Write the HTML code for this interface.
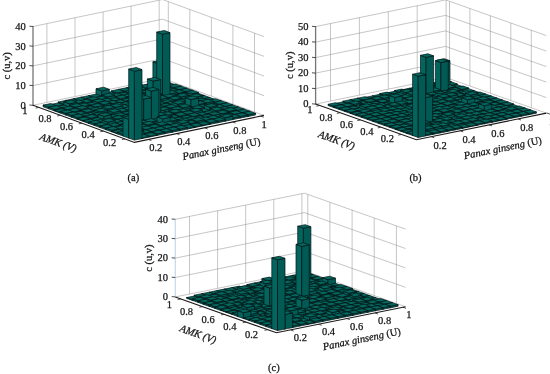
<!DOCTYPE html>
<html><head><meta charset="utf-8"><title>Figure</title>
<style>
html,body{margin:0;padding:0;background:#fff;}
svg{display:block;}
text{font-family:"Liberation Serif","DejaVu Serif",serif;font-size:10.5px;fill:#151515;stroke:#151515;stroke-width:0.25px;}
</style></head><body>
<svg width="550" height="374" viewBox="0 0 550 374">
<rect width="550" height="374" fill="#fff"/>
<path d="M33 105.3L162.5 78.3L264 115.4M33 85.6L162.5 58.6L264 95.7M33 65.9L162.5 38.9L264 76M33 46.2L162.5 19.2L264 56.3M33 26.5L162.5 -0.5L264 36.6M46.9 102.4L46.9 23.6M75 96.5L75 17.7M103.1 90.7L103.1 11.9M131.1 84.8L131.1 6M159.2 79L159.2 0.2M254.5 111.9L254.5 33.1M232.9 104.1L232.9 25.3M211.4 96.2L211.4 17.4M189.8 88.3L189.8 9.5M168.3 80.4L168.3 1.6" fill="none" stroke="#8c8c8c" stroke-width="0.5"/>
<path d="M33 105.8L33 26" stroke="#757575" stroke-width="1.3" fill="none"/>
<text x="25.8" y="108.6" text-anchor="end">0</text>
<text x="25.8" y="88.9" text-anchor="end">10</text>
<text x="25.8" y="69.2" text-anchor="end">20</text>
<text x="25.8" y="49.5" text-anchor="end">30</text>
<text x="25.8" y="29.8" text-anchor="end">40</text>
<path d="M33 105.3L134.5 142.4L264 115.4" stroke="#1a1a1a" stroke-width="1.1" fill="none"/>
<text x="27.5" y="113.7" text-anchor="end">1</text>
<text x="51.5" y="122.3" text-anchor="end">0.8</text>
<text x="73.1" y="130.2" text-anchor="end">0.6</text>
<text x="94.7" y="138.1" text-anchor="end">0.4</text>
<text x="116.2" y="145.9" text-anchor="end">0.2</text>
<text x="149.2" y="151.1" text-anchor="start">0.2</text>
<text x="177.2" y="145.2" text-anchor="start">0.4</text>
<text x="205.3" y="139.4" text-anchor="start">0.6</text>
<text x="233.3" y="133.5" text-anchor="start">0.8</text>
<text x="261.4" y="127.7" text-anchor="start">1</text>
<path d="M29.4 105L33 105.3M29.4 85.3L33 85.6M29.4 65.6L33 65.9M29.4 45.9L33 46.2M29.4 26.2L33 26.5M38.8 107.4L35.7 108.1M60.3 115.3L57.2 116M81.9 123.2L78.8 123.8M103.5 131.1L100.3 131.7M125 138.9L121.9 139.6M148.4 139.5L151.4 140.6M176.5 133.6L179.5 134.7M204.6 127.8L207.6 128.9M232.6 121.9L235.6 123M260.7 116.1L263.7 117.2" stroke="#222" stroke-width="0.8" fill="none"/>
<g stroke="#001414" stroke-width="0.7" stroke-linejoin="round"><polygon points="162.3,85.1 156.6,83 156.6,81.4 162.3,83.5" fill="#04655e"/><polygon points="162.3,85.1 169.9,83.5 169.9,82 162.3,83.5" fill="#025a55"/><polygon points="162.3,83.5 169.9,82 164.2,79.9 156.6,81.4" fill="#056860"/><polygon points="154.8,86.7 149,84.6 149,83 154.8,85.1" fill="#04655e"/><polygon points="154.8,86.7 162.3,85.1 162.3,83.5 154.8,85.1" fill="#025a55"/><polygon points="154.8,85.1 162.3,83.5 156.6,81.4 149,83" fill="#056860"/><polygon points="147.2,88.3 141.5,86.2 141.5,85.5 147.2,87.6" fill="#04655e"/><polygon points="147.2,88.3 154.8,86.7 154.8,86 147.2,87.6" fill="#025a55"/><polygon points="147.2,87.6 154.8,86 149,83.9 141.5,85.5" fill="#056860"/><polygon points="139.6,89.9 133.9,87.8 133.9,86.2 139.6,88.3" fill="#04655e"/><polygon points="139.6,89.9 147.2,88.3 147.2,86.7 139.6,88.3" fill="#025a55"/><polygon points="139.6,88.3 147.2,86.7 141.5,84.6 133.9,86.2" fill="#056860"/><polygon points="132,91.4 126.3,89.3 126.3,87.8 132,89.9" fill="#04655e"/><polygon points="132,91.4 139.6,89.9 139.6,88.3 132,89.9" fill="#025a55"/><polygon points="132,89.9 139.6,88.3 133.9,86.2 126.3,87.8" fill="#056860"/><polygon points="124.4,93 118.7,90.9 118.7,89.3 124.4,91.4" fill="#04655e"/><polygon points="124.4,93 132,91.4 132,89.9 124.4,91.4" fill="#025a55"/><polygon points="124.4,91.4 132,89.9 126.3,87.8 118.7,89.3" fill="#056860"/><polygon points="116.9,94.6 111.2,92.5 111.2,90.9 116.9,93" fill="#04655e"/><polygon points="116.9,94.6 124.4,93 124.4,91.4 116.9,93" fill="#025a55"/><polygon points="116.9,93 124.4,91.4 118.7,89.3 111.2,90.9" fill="#056860"/><polygon points="109.3,96.2 103.6,94.1 103.6,93.4 109.3,95.5" fill="#04655e"/><polygon points="109.3,96.2 116.9,94.6 116.9,93.9 109.3,95.5" fill="#025a55"/><polygon points="109.3,95.5 116.9,93.9 111.2,91.8 103.6,93.4" fill="#056860"/><polygon points="101.7,97.7 96,95.7 96,88.8 101.7,90.9" fill="#04655e"/><polygon points="101.7,97.7 109.3,96.2 109.3,89.3 101.7,90.9" fill="#025a55"/><polygon points="101.7,90.9 109.3,89.3 103.6,87.2 96,88.8" fill="#056860"/><polygon points="94.1,99.3 88.4,97.2 88.4,95.7 94.1,97.8" fill="#04655e"/><polygon points="94.1,99.3 101.7,97.7 101.7,96.2 94.1,97.8" fill="#025a55"/><polygon points="94.1,97.8 101.7,96.2 96,94.1 88.4,95.7" fill="#056860"/><polygon points="86.6,100.9 80.9,98.8 80.9,97.2 86.6,99.3" fill="#04655e"/><polygon points="86.6,100.9 94.1,99.3 94.1,97.8 86.6,99.3" fill="#025a55"/><polygon points="86.6,99.3 94.1,97.8 88.4,95.7 80.9,97.2" fill="#056860"/><polygon points="79,102.5 73.3,100.4 73.3,98.8 79,100.9" fill="#04655e"/><polygon points="79,102.5 86.6,100.9 86.6,99.3 79,100.9" fill="#025a55"/><polygon points="79,100.9 86.6,99.3 80.9,97.2 73.3,98.8" fill="#056860"/><polygon points="71.4,104.1 65.7,102 65.7,100.4 71.4,102.5" fill="#04655e"/><polygon points="71.4,104.1 79,102.5 79,100.9 71.4,102.5" fill="#025a55"/><polygon points="71.4,102.5 79,100.9 73.3,98.8 65.7,100.4" fill="#056860"/><polygon points="63.8,105.6 58.1,103.6 58.1,102 63.8,104.1" fill="#04655e"/><polygon points="63.8,105.6 71.4,104.1 71.4,102.5 63.8,104.1" fill="#025a55"/><polygon points="63.8,104.1 71.4,102.5 65.7,100.4 58.1,102" fill="#056860"/><polygon points="56.3,107.2 50.6,105.1 50.6,104.4 56.3,106.5" fill="#04655e"/><polygon points="56.3,107.2 63.8,105.6 63.8,105 56.3,106.5" fill="#025a55"/><polygon points="56.3,106.5 63.8,105 58.1,102.9 50.6,104.4" fill="#056860"/><polygon points="48.7,108.8 43,106.7 43,105.1 48.7,107.2" fill="#04655e"/><polygon points="48.7,108.8 56.3,107.2 56.3,105.6 48.7,107.2" fill="#025a55"/><polygon points="48.7,107.2 56.3,105.6 50.6,103.6 43,105.1" fill="#056860"/><polygon points="168,87.2 162.3,85.1 162.3,84.4 168,86.5" fill="#04655e"/><polygon points="168,87.2 175.6,85.6 175.6,84.9 168,86.5" fill="#025a55"/><polygon points="168,86.5 175.6,84.9 169.9,82.8 162.3,84.4" fill="#056860"/><polygon points="160.5,88.8 154.8,86.7 154.8,86 160.5,88.1" fill="#04655e"/><polygon points="160.5,88.8 168,87.2 168,86.5 160.5,88.1" fill="#025a55"/><polygon points="160.5,88.1 168,86.5 162.3,84.4 154.8,86" fill="#056860"/><polygon points="152.9,90.4 147.2,88.3 147.2,85.7 152.9,87.8" fill="#04655e"/><polygon points="152.9,90.4 160.5,88.8 160.5,86.2 152.9,87.8" fill="#025a55"/><polygon points="152.9,87.8 160.5,86.2 154.8,84.1 147.2,85.7" fill="#056860"/><polygon points="145.3,91.9 139.6,89.9 139.6,85.9 145.3,88" fill="#04655e"/><polygon points="145.3,91.9 152.9,90.4 152.9,86.4 145.3,88" fill="#025a55"/><polygon points="145.3,88 152.9,86.4 147.2,84.3 139.6,85.9" fill="#056860"/><polygon points="137.7,93.5 132,91.4 132,89.9 137.7,91.9" fill="#04655e"/><polygon points="137.7,93.5 145.3,91.9 145.3,90.4 137.7,91.9" fill="#025a55"/><polygon points="137.7,91.9 145.3,90.4 139.6,88.3 132,89.9" fill="#056860"/><polygon points="130.2,95.1 124.4,93 124.4,91.4 130.2,93.5" fill="#04655e"/><polygon points="130.2,95.1 137.7,93.5 137.7,91.9 130.2,93.5" fill="#025a55"/><polygon points="130.2,93.5 137.7,91.9 132,89.9 124.4,91.4" fill="#056860"/><polygon points="122.6,96.7 116.9,94.6 116.9,93.9 122.6,96" fill="#04655e"/><polygon points="122.6,96.7 130.2,95.1 130.2,94.4 122.6,96" fill="#025a55"/><polygon points="122.6,96 130.2,94.4 124.4,92.3 116.9,93.9" fill="#056860"/><polygon points="115,98.3 109.3,96.2 109.3,94.6 115,96.7" fill="#04655e"/><polygon points="115,98.3 122.6,96.7 122.6,95.1 115,96.7" fill="#025a55"/><polygon points="115,96.7 122.6,95.1 116.9,93 109.3,94.6" fill="#056860"/><polygon points="107.4,99.8 101.7,97.7 101.7,94.8 107.4,96.9" fill="#04655e"/><polygon points="107.4,99.8 115,98.3 115,95.3 107.4,96.9" fill="#025a55"/><polygon points="107.4,96.9 115,95.3 109.3,93.2 101.7,94.8" fill="#056860"/><polygon points="99.9,101.4 94.1,99.3 94.1,97.8 99.9,99.8" fill="#04655e"/><polygon points="99.9,101.4 107.4,99.8 107.4,98.3 99.9,99.8" fill="#025a55"/><polygon points="99.9,99.8 107.4,98.3 101.7,96.2 94.1,97.8" fill="#056860"/><polygon points="92.3,103 86.6,100.9 86.6,98.3 92.3,100.4" fill="#04655e"/><polygon points="92.3,103 99.9,101.4 99.9,98.9 92.3,100.4" fill="#025a55"/><polygon points="92.3,100.4 99.9,98.9 94.1,96.8 86.6,98.3" fill="#056860"/><polygon points="84.7,104.6 79,102.5 79,100.9 84.7,103" fill="#04655e"/><polygon points="84.7,104.6 92.3,103 92.3,101.4 84.7,103" fill="#025a55"/><polygon points="84.7,103 92.3,101.4 86.6,99.3 79,100.9" fill="#056860"/><polygon points="77.1,106.2 71.4,104.1 71.4,101.5 77.1,103.6" fill="#04655e"/><polygon points="77.1,106.2 84.7,104.6 84.7,102 77.1,103.6" fill="#025a55"/><polygon points="77.1,103.6 84.7,102 79,99.9 71.4,101.5" fill="#056860"/><polygon points="69.6,107.7 63.8,105.6 63.8,101.7 69.6,103.8" fill="#04655e"/><polygon points="69.6,107.7 77.1,106.2 77.1,102.2 69.6,103.8" fill="#025a55"/><polygon points="69.6,103.8 77.1,102.2 71.4,100.1 63.8,101.7" fill="#056860"/><polygon points="62,109.3 56.3,107.2 56.3,106.5 62,108.6" fill="#04655e"/><polygon points="62,109.3 69.6,107.7 69.6,107 62,108.6" fill="#025a55"/><polygon points="62,108.6 69.6,107 63.8,105 56.3,106.5" fill="#056860"/><polygon points="54.4,110.9 48.7,108.8 48.7,107.2 54.4,109.3" fill="#04655e"/><polygon points="54.4,110.9 62,109.3 62,107.7 54.4,109.3" fill="#025a55"/><polygon points="54.4,109.3 62,107.7 56.3,105.6 48.7,107.2" fill="#056860"/><polygon points="173.8,89.3 168,87.2 168,85.6 173.8,87.7" fill="#04655e"/><polygon points="173.8,89.3 181.3,87.7 181.3,86.1 173.8,87.7" fill="#025a55"/><polygon points="173.8,87.7 181.3,86.1 175.6,84 168,85.6" fill="#056860"/><polygon points="166.2,90.9 160.5,88.8 160.5,88.1 166.2,90.2" fill="#04655e"/><polygon points="166.2,90.9 173.8,89.3 173.8,88.6 166.2,90.2" fill="#025a55"/><polygon points="166.2,90.2 173.8,88.6 168,86.5 160.5,88.1" fill="#056860"/><polygon points="158.6,92.5 152.9,90.4 152.9,61.8 158.6,63.9" fill="#04655e"/><polygon points="158.6,92.5 166.2,90.9 166.2,62.3 158.6,63.9" fill="#025a55"/><polygon points="158.6,63.9 166.2,62.3 160.5,60.2 152.9,61.8" fill="#056860"/><polygon points="151,94 145.3,91.9 145.3,90.4 151,92.5" fill="#04655e"/><polygon points="151,94 158.6,92.5 158.6,90.9 151,92.5" fill="#025a55"/><polygon points="151,92.5 158.6,90.9 152.9,88.8 145.3,90.4" fill="#056860"/><polygon points="143.5,95.6 137.7,93.5 137.7,91.9 143.5,94" fill="#04655e"/><polygon points="143.5,95.6 151,94 151,92.5 143.5,94" fill="#025a55"/><polygon points="143.5,94 151,92.5 145.3,90.4 137.7,91.9" fill="#056860"/><polygon points="135.9,97.2 130.2,95.1 130.2,92.5 135.9,94.6" fill="#04655e"/><polygon points="135.9,97.2 143.5,95.6 143.5,93 135.9,94.6" fill="#025a55"/><polygon points="135.9,94.6 143.5,93 137.7,91 130.2,92.5" fill="#056860"/><polygon points="128.3,98.8 122.6,96.7 122.6,95.1 128.3,97.2" fill="#04655e"/><polygon points="128.3,98.8 135.9,97.2 135.9,95.6 128.3,97.2" fill="#025a55"/><polygon points="128.3,97.2 135.9,95.6 130.2,93.5 122.6,95.1" fill="#056860"/><polygon points="120.7,100.3 115,98.3 115,96.7 120.7,98.8" fill="#04655e"/><polygon points="120.7,100.3 128.3,98.8 128.3,97.2 120.7,98.8" fill="#025a55"/><polygon points="120.7,98.8 128.3,97.2 122.6,95.1 115,96.7" fill="#056860"/><polygon points="113.2,101.9 107.4,99.8 107.4,99.1 113.2,101.2" fill="#04655e"/><polygon points="113.2,101.9 120.7,100.3 120.7,99.7 113.2,101.2" fill="#025a55"/><polygon points="113.2,101.2 120.7,99.7 115,97.6 107.4,99.1" fill="#056860"/><polygon points="105.6,103.5 99.9,101.4 99.9,99.8 105.6,101.9" fill="#04655e"/><polygon points="105.6,103.5 113.2,101.9 113.2,100.4 105.6,101.9" fill="#025a55"/><polygon points="105.6,101.9 113.2,100.4 107.4,98.3 99.9,99.8" fill="#056860"/><polygon points="98,105.1 92.3,103 92.3,100.4 98,102.5" fill="#04655e"/><polygon points="98,105.1 105.6,103.5 105.6,100.9 98,102.5" fill="#025a55"/><polygon points="98,102.5 105.6,100.9 99.9,98.9 92.3,100.4" fill="#056860"/><polygon points="90.4,106.7 84.7,104.6 84.7,103.9 90.4,106" fill="#04655e"/><polygon points="90.4,106.7 98,105.1 98,104.4 90.4,106" fill="#025a55"/><polygon points="90.4,106 98,104.4 92.3,102.3 84.7,103.9" fill="#056860"/><polygon points="82.8,108.2 77.1,106.2 77.1,104.6 82.8,106.7" fill="#04655e"/><polygon points="82.8,108.2 90.4,106.7 90.4,105.1 82.8,106.7" fill="#025a55"/><polygon points="82.8,106.7 90.4,105.1 84.7,103 77.1,104.6" fill="#056860"/><polygon points="75.3,109.8 69.6,107.7 69.6,105.2 75.3,107.3" fill="#04655e"/><polygon points="75.3,109.8 82.8,108.2 82.8,105.7 75.3,107.3" fill="#025a55"/><polygon points="75.3,107.3 82.8,105.7 77.1,103.6 69.6,105.2" fill="#056860"/><polygon points="67.7,111.4 62,109.3 62,107.7 67.7,109.8" fill="#04655e"/><polygon points="67.7,111.4 75.3,109.8 75.3,108.2 67.7,109.8" fill="#025a55"/><polygon points="67.7,109.8 75.3,108.2 69.6,106.2 62,107.7" fill="#056860"/><polygon points="60.1,113 54.4,110.9 54.4,110.2 60.1,112.3" fill="#04655e"/><polygon points="60.1,113 67.7,111.4 67.7,110.7 60.1,112.3" fill="#025a55"/><polygon points="60.1,112.3 67.7,110.7 62,108.6 54.4,110.2" fill="#056860"/><polygon points="179.5,91.4 173.8,89.3 173.8,87.7 179.5,89.8" fill="#04655e"/><polygon points="179.5,91.4 187,89.8 187,88.2 179.5,89.8" fill="#025a55"/><polygon points="179.5,89.8 187,88.2 181.3,86.1 173.8,87.7" fill="#056860"/><polygon points="171.9,93 166.2,90.9 166.2,90.2 171.9,92.3" fill="#04655e"/><polygon points="171.9,93 179.5,91.4 179.5,90.7 171.9,92.3" fill="#025a55"/><polygon points="171.9,92.3 179.5,90.7 173.8,88.6 166.2,90.2" fill="#056860"/><polygon points="164.3,94.5 158.6,92.5 158.6,91.8 164.3,93.8" fill="#04655e"/><polygon points="164.3,94.5 171.9,93 171.9,92.3 164.3,93.8" fill="#025a55"/><polygon points="164.3,93.8 171.9,92.3 166.2,90.2 158.6,91.8" fill="#056860"/><polygon points="156.7,96.1 151,94 151,93.3 156.7,95.4" fill="#04655e"/><polygon points="156.7,96.1 164.3,94.5 164.3,93.8 156.7,95.4" fill="#025a55"/><polygon points="156.7,95.4 164.3,93.8 158.6,91.8 151,93.3" fill="#056860"/><polygon points="149.2,97.7 143.5,95.6 143.5,93 149.2,95.1" fill="#04655e"/><polygon points="149.2,97.7 156.7,96.1 156.7,93.6 149.2,95.1" fill="#025a55"/><polygon points="149.2,95.1 156.7,93.6 151,91.5 143.5,93" fill="#056860"/><polygon points="141.6,99.3 135.9,97.2 135.9,95.6 141.6,97.7" fill="#04655e"/><polygon points="141.6,99.3 149.2,97.7 149.2,96.1 141.6,97.7" fill="#025a55"/><polygon points="141.6,97.7 149.2,96.1 143.5,94 135.9,95.6" fill="#056860"/><polygon points="134,100.9 128.3,98.8 128.3,97.2 134,99.3" fill="#04655e"/><polygon points="134,100.9 141.6,99.3 141.6,97.7 134,99.3" fill="#025a55"/><polygon points="134,99.3 141.6,97.7 135.9,95.6 128.3,97.2" fill="#056860"/><polygon points="126.4,102.4 120.7,100.3 120.7,99.7 126.4,101.7" fill="#04655e"/><polygon points="126.4,102.4 134,100.9 134,100.2 126.4,101.7" fill="#025a55"/><polygon points="126.4,101.7 134,100.2 128.3,98.1 120.7,99.7" fill="#056860"/><polygon points="118.9,104 113.2,101.9 113.2,101.2 118.9,103.3" fill="#04655e"/><polygon points="118.9,104 126.4,102.4 126.4,101.7 118.9,103.3" fill="#025a55"/><polygon points="118.9,103.3 126.4,101.7 120.7,99.7 113.2,101.2" fill="#056860"/><polygon points="111.3,105.6 105.6,103.5 105.6,101.9 111.3,104" fill="#04655e"/><polygon points="111.3,105.6 118.9,104 118.9,102.4 111.3,104" fill="#025a55"/><polygon points="111.3,104 118.9,102.4 113.2,100.4 105.6,101.9" fill="#056860"/><polygon points="103.7,107.2 98,105.1 98,102.5 103.7,104.6" fill="#04655e"/><polygon points="103.7,107.2 111.3,105.6 111.3,103 103.7,104.6" fill="#025a55"/><polygon points="103.7,104.6 111.3,103 105.6,100.9 98,102.5" fill="#056860"/><polygon points="96.1,108.8 90.4,106.7 90.4,105.1 96.1,107.2" fill="#04655e"/><polygon points="96.1,108.8 103.7,107.2 103.7,105.6 96.1,107.2" fill="#025a55"/><polygon points="96.1,107.2 103.7,105.6 98,103.5 90.4,105.1" fill="#056860"/><polygon points="88.6,110.3 82.8,108.2 82.8,107.6 88.6,109.6" fill="#04655e"/><polygon points="88.6,110.3 96.1,108.8 96.1,108.1 88.6,109.6" fill="#025a55"/><polygon points="88.6,109.6 96.1,108.1 90.4,106 82.8,107.6" fill="#056860"/><polygon points="81,111.9 75.3,109.8 75.3,107.3 81,109.4" fill="#04655e"/><polygon points="81,111.9 88.6,110.3 88.6,107.8 81,109.4" fill="#025a55"/><polygon points="81,109.4 88.6,107.8 82.8,105.7 75.3,107.3" fill="#056860"/><polygon points="73.4,113.5 67.7,111.4 67.7,109.8 73.4,111.9" fill="#04655e"/><polygon points="73.4,113.5 81,111.9 81,110.3 73.4,111.9" fill="#025a55"/><polygon points="73.4,111.9 81,110.3 75.3,108.2 67.7,109.8" fill="#056860"/><polygon points="65.8,115.1 60.1,113 60.1,111.4 65.8,113.5" fill="#04655e"/><polygon points="65.8,115.1 73.4,113.5 73.4,111.9 65.8,113.5" fill="#025a55"/><polygon points="65.8,113.5 73.4,111.9 67.7,109.8 60.1,111.4" fill="#056860"/><polygon points="185.2,93.5 179.5,91.4 179.5,89.8 185.2,91.9" fill="#04655e"/><polygon points="185.2,93.5 192.8,91.9 192.8,90.3 185.2,91.9" fill="#025a55"/><polygon points="185.2,91.9 192.8,90.3 187,88.2 179.5,89.8" fill="#056860"/><polygon points="177.6,95 171.9,93 171.9,91.4 177.6,93.5" fill="#04655e"/><polygon points="177.6,95 185.2,93.5 185.2,91.9 177.6,93.5" fill="#025a55"/><polygon points="177.6,93.5 185.2,91.9 179.5,89.8 171.9,91.4" fill="#056860"/><polygon points="170,96.6 164.3,94.5 164.3,92 170,94.1" fill="#04655e"/><polygon points="170,96.6 177.6,95 177.6,92.5 170,94.1" fill="#025a55"/><polygon points="170,94.1 177.6,92.5 171.9,90.4 164.3,92" fill="#056860"/><polygon points="162.5,98.2 156.7,96.1 156.7,32.1 162.5,34.2" fill="#04655e"/><polygon points="162.5,98.2 170,96.6 170,32.6 162.5,34.2" fill="#025a55"/><polygon points="162.5,34.2 170,32.6 164.3,30.5 156.7,32.1" fill="#056860"/><polygon points="154.9,99.8 149.2,97.7 149.2,93.8 154.9,95.8" fill="#04655e"/><polygon points="154.9,99.8 162.5,98.2 162.5,94.3 154.9,95.8" fill="#025a55"/><polygon points="154.9,95.8 162.5,94.3 156.7,92.2 149.2,93.8" fill="#056860"/><polygon points="147.3,101.4 141.6,99.3 141.6,96.7 147.3,98.8" fill="#04655e"/><polygon points="147.3,101.4 154.9,99.8 154.9,97.2 147.3,98.8" fill="#025a55"/><polygon points="147.3,98.8 154.9,97.2 149.2,95.1 141.6,96.7" fill="#056860"/><polygon points="139.7,102.9 134,100.9 134,98.3 139.7,100.4" fill="#04655e"/><polygon points="139.7,102.9 147.3,101.4 147.3,98.8 139.7,100.4" fill="#025a55"/><polygon points="139.7,100.4 147.3,98.8 141.6,96.7 134,98.3" fill="#056860"/><polygon points="132.2,104.5 126.4,102.4 126.4,100.9 132.2,102.9" fill="#04655e"/><polygon points="132.2,104.5 139.7,102.9 139.7,101.4 132.2,102.9" fill="#025a55"/><polygon points="132.2,102.9 139.7,101.4 134,99.3 126.4,100.9" fill="#056860"/><polygon points="124.6,106.1 118.9,104 118.9,103.3 124.6,105.4" fill="#04655e"/><polygon points="124.6,106.1 132.2,104.5 132.2,103.8 124.6,105.4" fill="#025a55"/><polygon points="124.6,105.4 132.2,103.8 126.4,101.7 118.9,103.3" fill="#056860"/><polygon points="117,107.7 111.3,105.6 111.3,104 117,106.1" fill="#04655e"/><polygon points="117,107.7 124.6,106.1 124.6,104.5 117,106.1" fill="#025a55"/><polygon points="117,106.1 124.6,104.5 118.9,102.4 111.3,104" fill="#056860"/><polygon points="109.4,109.3 103.7,107.2 103.7,106.5 109.4,108.6" fill="#04655e"/><polygon points="109.4,109.3 117,107.7 117,107 109.4,108.6" fill="#025a55"/><polygon points="109.4,108.6 117,107 111.3,104.9 103.7,106.5" fill="#056860"/><polygon points="101.9,110.8 96.1,108.8 96.1,107.2 101.9,109.3" fill="#04655e"/><polygon points="101.9,110.8 109.4,109.3 109.4,107.7 101.9,109.3" fill="#025a55"/><polygon points="101.9,109.3 109.4,107.7 103.7,105.6 96.1,107.2" fill="#056860"/><polygon points="94.3,112.4 88.6,110.3 88.6,108.8 94.3,110.8" fill="#04655e"/><polygon points="94.3,112.4 101.9,110.8 101.9,109.3 94.3,110.8" fill="#025a55"/><polygon points="94.3,110.8 101.9,109.3 96.1,107.2 88.6,108.8" fill="#056860"/><polygon points="86.7,114 81,111.9 81,110.3 86.7,112.4" fill="#04655e"/><polygon points="86.7,114 94.3,112.4 94.3,110.8 86.7,112.4" fill="#025a55"/><polygon points="86.7,112.4 94.3,110.8 88.6,108.8 81,110.3" fill="#056860"/><polygon points="79.1,115.6 73.4,113.5 73.4,112.8 79.1,114.9" fill="#04655e"/><polygon points="79.1,115.6 86.7,114 86.7,113.3 79.1,114.9" fill="#025a55"/><polygon points="79.1,114.9 86.7,113.3 81,111.2 73.4,112.8" fill="#056860"/><polygon points="71.6,117.2 65.8,115.1 65.8,113.5 71.6,115.6" fill="#04655e"/><polygon points="71.6,117.2 79.1,115.6 79.1,114 71.6,115.6" fill="#025a55"/><polygon points="71.6,115.6 79.1,114 73.4,111.9 65.8,113.5" fill="#056860"/><polygon points="190.9,95.6 185.2,93.5 185.2,91.9 190.9,94" fill="#04655e"/><polygon points="190.9,95.6 198.5,94 198.5,92.4 190.9,94" fill="#025a55"/><polygon points="190.9,94 198.5,92.4 192.8,90.3 185.2,91.9" fill="#056860"/><polygon points="183.3,97.1 177.6,95 177.6,94.4 183.3,96.4" fill="#04655e"/><polygon points="183.3,97.1 190.9,95.6 190.9,94.9 183.3,96.4" fill="#025a55"/><polygon points="183.3,96.4 190.9,94.9 185.2,92.8 177.6,94.4" fill="#056860"/><polygon points="175.8,98.7 170,96.6 170,95.9 175.8,98" fill="#04655e"/><polygon points="175.8,98.7 183.3,97.1 183.3,96.4 175.8,98" fill="#025a55"/><polygon points="175.8,98 183.3,96.4 177.6,94.4 170,95.9" fill="#056860"/><polygon points="168.2,100.3 162.5,98.2 162.5,95.6 168.2,97.7" fill="#04655e"/><polygon points="168.2,100.3 175.8,98.7 175.8,96.2 168.2,97.7" fill="#025a55"/><polygon points="168.2,97.7 175.8,96.2 170,94.1 162.5,95.6" fill="#056860"/><polygon points="160.6,101.9 154.9,99.8 154.9,97.2 160.6,99.3" fill="#04655e"/><polygon points="160.6,101.9 168.2,100.3 168.2,97.7 160.6,99.3" fill="#025a55"/><polygon points="160.6,99.3 168.2,97.7 162.5,95.6 154.9,97.2" fill="#056860"/><polygon points="153,103.5 147.3,101.4 147.3,97.4 153,99.5" fill="#04655e"/><polygon points="153,103.5 160.6,101.9 160.6,97.9 153,99.5" fill="#025a55"/><polygon points="153,99.5 160.6,97.9 154.9,95.8 147.3,97.4" fill="#056860"/><polygon points="145.5,105 139.7,102.9 139.7,102.3 145.5,104.3" fill="#04655e"/><polygon points="145.5,105 153,103.5 153,102.8 145.5,104.3" fill="#025a55"/><polygon points="145.5,104.3 153,102.8 147.3,100.7 139.7,102.3" fill="#056860"/><polygon points="137.9,106.6 132.2,104.5 132.2,102.9 137.9,105" fill="#04655e"/><polygon points="137.9,106.6 145.5,105 145.5,103.5 137.9,105" fill="#025a55"/><polygon points="137.9,105 145.5,103.5 139.7,101.4 132.2,102.9" fill="#056860"/><polygon points="130.3,108.2 124.6,106.1 124.6,104.5 130.3,106.6" fill="#04655e"/><polygon points="130.3,108.2 137.9,106.6 137.9,105 130.3,106.6" fill="#025a55"/><polygon points="130.3,106.6 137.9,105 132.2,102.9 124.6,104.5" fill="#056860"/><polygon points="122.7,109.8 117,107.7 117,106.1 122.7,108.2" fill="#04655e"/><polygon points="122.7,109.8 130.3,108.2 130.3,106.6 122.7,108.2" fill="#025a55"/><polygon points="122.7,108.2 130.3,106.6 124.6,104.5 117,106.1" fill="#056860"/><polygon points="115.1,111.4 109.4,109.3 109.4,105.3 115.1,107.4" fill="#04655e"/><polygon points="115.1,111.4 122.7,109.8 122.7,105.8 115.1,107.4" fill="#025a55"/><polygon points="115.1,107.4 122.7,105.8 117,103.7 109.4,105.3" fill="#056860"/><polygon points="107.6,112.9 101.9,110.8 101.9,106.9 107.6,109" fill="#04655e"/><polygon points="107.6,112.9 115.1,111.4 115.1,107.4 107.6,109" fill="#025a55"/><polygon points="107.6,109 115.1,107.4 109.4,105.3 101.9,106.9" fill="#056860"/><polygon points="100,114.5 94.3,112.4 94.3,109.9 100,112" fill="#04655e"/><polygon points="100,114.5 107.6,112.9 107.6,110.4 100,112" fill="#025a55"/><polygon points="100,112 107.6,110.4 101.9,108.3 94.3,109.9" fill="#056860"/><polygon points="92.4,116.1 86.7,114 86.7,113.3 92.4,115.4" fill="#04655e"/><polygon points="92.4,116.1 100,114.5 100,113.8 92.4,115.4" fill="#025a55"/><polygon points="92.4,115.4 100,113.8 94.3,111.7 86.7,113.3" fill="#056860"/><polygon points="84.8,117.7 79.1,115.6 79.1,114.9 84.8,117" fill="#04655e"/><polygon points="84.8,117.7 92.4,116.1 92.4,115.4 84.8,117" fill="#025a55"/><polygon points="84.8,117 92.4,115.4 86.7,113.3 79.1,114.9" fill="#056860"/><polygon points="77.3,119.3 71.6,117.2 71.6,115.6 77.3,117.7" fill="#04655e"/><polygon points="77.3,119.3 84.8,117.7 84.8,116.1 77.3,117.7" fill="#025a55"/><polygon points="77.3,117.7 84.8,116.1 79.1,114 71.6,115.6" fill="#056860"/><polygon points="196.6,97.6 190.9,95.6 190.9,94.9 196.6,97" fill="#04655e"/><polygon points="196.6,97.6 204.2,96.1 204.2,95.4 196.6,97" fill="#025a55"/><polygon points="196.6,97 204.2,95.4 198.5,93.3 190.9,94.9" fill="#056860"/><polygon points="189,99.2 183.3,97.1 183.3,94.6 189,96.7" fill="#04655e"/><polygon points="189,99.2 196.6,97.6 196.6,95.1 189,96.7" fill="#025a55"/><polygon points="189,96.7 196.6,95.1 190.9,93 183.3,94.6" fill="#056860"/><polygon points="181.5,100.8 175.8,98.7 175.8,94.8 181.5,96.9" fill="#04655e"/><polygon points="181.5,100.8 189,99.2 189,95.3 181.5,96.9" fill="#025a55"/><polygon points="181.5,96.9 189,95.3 183.3,93.2 175.8,94.8" fill="#056860"/><polygon points="173.9,102.4 168.2,100.3 168.2,97.7 173.9,99.8" fill="#04655e"/><polygon points="173.9,102.4 181.5,100.8 181.5,98.2 173.9,99.8" fill="#025a55"/><polygon points="173.9,99.8 181.5,98.2 175.8,96.2 168.2,97.7" fill="#056860"/><polygon points="166.3,104 160.6,101.9 160.6,101.2 166.3,103.3" fill="#04655e"/><polygon points="166.3,104 173.9,102.4 173.9,101.7 166.3,103.3" fill="#025a55"/><polygon points="166.3,103.3 173.9,101.7 168.2,99.6 160.6,101.2" fill="#056860"/><polygon points="158.7,105.5 153,103.5 153,102.8 158.7,104.9" fill="#04655e"/><polygon points="158.7,105.5 166.3,104 166.3,103.3 158.7,104.9" fill="#025a55"/><polygon points="158.7,104.9 166.3,103.3 160.6,101.2 153,102.8" fill="#056860"/><polygon points="151.2,107.1 145.5,105 145.5,102.5 151.2,104.6" fill="#04655e"/><polygon points="151.2,107.1 158.7,105.5 158.7,103 151.2,104.6" fill="#025a55"/><polygon points="151.2,104.6 158.7,103 153,100.9 145.5,102.5" fill="#056860"/><polygon points="143.6,108.7 137.9,106.6 137.9,105 143.6,107.1" fill="#04655e"/><polygon points="143.6,108.7 151.2,107.1 151.2,105.5 143.6,107.1" fill="#025a55"/><polygon points="143.6,107.1 151.2,105.5 145.5,103.5 137.9,105" fill="#056860"/><polygon points="136,110.3 130.3,108.2 130.3,105.6 136,107.7" fill="#04655e"/><polygon points="136,110.3 143.6,108.7 143.6,106.1 136,107.7" fill="#025a55"/><polygon points="136,107.7 143.6,106.1 137.9,104.1 130.3,105.6" fill="#056860"/><polygon points="128.4,111.9 122.7,109.8 122.7,108.2 128.4,110.3" fill="#04655e"/><polygon points="128.4,111.9 136,110.3 136,108.7 128.4,110.3" fill="#025a55"/><polygon points="128.4,110.3 136,108.7 130.3,106.6 122.7,108.2" fill="#056860"/><polygon points="120.9,113.4 115.1,111.4 115.1,109.8 120.9,111.9" fill="#04655e"/><polygon points="120.9,113.4 128.4,111.9 128.4,110.3 120.9,111.9" fill="#025a55"/><polygon points="120.9,111.9 128.4,110.3 122.7,108.2 115.1,109.8" fill="#056860"/><polygon points="113.3,115 107.6,112.9 107.6,110.4 113.3,112.5" fill="#04655e"/><polygon points="113.3,115 120.9,113.4 120.9,110.9 113.3,112.5" fill="#025a55"/><polygon points="113.3,112.5 120.9,110.9 115.1,108.8 107.6,110.4" fill="#056860"/><polygon points="105.7,116.6 100,114.5 100,113.8 105.7,115.9" fill="#04655e"/><polygon points="105.7,116.6 113.3,115 113.3,114.3 105.7,115.9" fill="#025a55"/><polygon points="105.7,115.9 113.3,114.3 107.6,112.2 100,113.8" fill="#056860"/><polygon points="98.1,118.2 92.4,116.1 92.4,113.5 98.1,115.6" fill="#04655e"/><polygon points="98.1,118.2 105.7,116.6 105.7,114 98.1,115.6" fill="#025a55"/><polygon points="98.1,115.6 105.7,114 100,112 92.4,113.5" fill="#056860"/><polygon points="90.6,119.8 84.8,117.7 84.8,116.1 90.6,118.2" fill="#04655e"/><polygon points="90.6,119.8 98.1,118.2 98.1,116.6 90.6,118.2" fill="#025a55"/><polygon points="90.6,118.2 98.1,116.6 92.4,114.5 84.8,116.1" fill="#056860"/><polygon points="83,121.3 77.3,119.3 77.3,118.6 83,120.7" fill="#04655e"/><polygon points="83,121.3 90.6,119.8 90.6,119.1 83,120.7" fill="#025a55"/><polygon points="83,120.7 90.6,119.1 84.8,117 77.3,118.6" fill="#056860"/><polygon points="202.3,99.7 196.6,97.6 196.6,97 202.3,99" fill="#04655e"/><polygon points="202.3,99.7 209.9,98.2 209.9,97.5 202.3,99" fill="#025a55"/><polygon points="202.3,99 209.9,97.5 204.2,95.4 196.6,97" fill="#056860"/><polygon points="194.8,101.3 189,99.2 189,95.3 194.8,97.4" fill="#04655e"/><polygon points="194.8,101.3 202.3,99.7 202.3,95.8 194.8,97.4" fill="#025a55"/><polygon points="194.8,97.4 202.3,95.8 196.6,93.7 189,95.3" fill="#056860"/><polygon points="187.2,102.9 181.5,100.8 181.5,99.2 187.2,101.3" fill="#04655e"/><polygon points="187.2,102.9 194.8,101.3 194.8,99.7 187.2,101.3" fill="#025a55"/><polygon points="187.2,101.3 194.8,99.7 189,97.7 181.5,99.2" fill="#056860"/><polygon points="179.6,104.5 173.9,102.4 173.9,100.8 179.6,102.9" fill="#04655e"/><polygon points="179.6,104.5 187.2,102.9 187.2,101.3 179.6,102.9" fill="#025a55"/><polygon points="179.6,102.9 187.2,101.3 181.5,99.2 173.9,100.8" fill="#056860"/><polygon points="172,106.1 166.3,104 166.3,102.4 172,104.5" fill="#04655e"/><polygon points="172,106.1 179.6,104.5 179.6,102.9 172,104.5" fill="#025a55"/><polygon points="172,104.5 179.6,102.9 173.9,100.8 166.3,102.4" fill="#056860"/><polygon points="164.5,107.6 158.7,105.5 158.7,104.9 164.5,106.9" fill="#04655e"/><polygon points="164.5,107.6 172,106.1 172,105.4 164.5,106.9" fill="#025a55"/><polygon points="164.5,106.9 172,105.4 166.3,103.3 158.7,104.9" fill="#056860"/><polygon points="156.9,109.2 151.2,107.1 151.2,106.4 156.9,108.5" fill="#04655e"/><polygon points="156.9,109.2 164.5,107.6 164.5,106.9 156.9,108.5" fill="#025a55"/><polygon points="156.9,108.5 164.5,106.9 158.7,104.9 151.2,106.4" fill="#056860"/><polygon points="149.3,110.8 143.6,108.7 143.6,106.1 149.3,108.2" fill="#04655e"/><polygon points="149.3,110.8 156.9,109.2 156.9,106.7 149.3,108.2" fill="#025a55"/><polygon points="149.3,108.2 156.9,106.7 151.2,104.6 143.6,106.1" fill="#056860"/><polygon points="141.7,112.4 136,110.3 136,109.6 141.7,111.7" fill="#04655e"/><polygon points="141.7,112.4 149.3,110.8 149.3,110.1 141.7,111.7" fill="#025a55"/><polygon points="141.7,111.7 149.3,110.1 143.6,108 136,109.6" fill="#056860"/><polygon points="134.2,114 128.4,111.9 128.4,110.3 134.2,112.4" fill="#04655e"/><polygon points="134.2,114 141.7,112.4 141.7,110.8 134.2,112.4" fill="#025a55"/><polygon points="134.2,112.4 141.7,110.8 136,108.7 128.4,110.3" fill="#056860"/><polygon points="126.6,115.5 120.9,113.4 120.9,112.8 126.6,114.8" fill="#04655e"/><polygon points="126.6,115.5 134.2,114 134.2,113.3 126.6,114.8" fill="#025a55"/><polygon points="126.6,114.8 134.2,113.3 128.4,111.2 120.9,112.8" fill="#056860"/><polygon points="119,117.1 113.3,115 113.3,114.3 119,116.4" fill="#04655e"/><polygon points="119,117.1 126.6,115.5 126.6,114.8 119,116.4" fill="#025a55"/><polygon points="119,116.4 126.6,114.8 120.9,112.8 113.3,114.3" fill="#056860"/><polygon points="111.4,118.7 105.7,116.6 105.7,115.9 111.4,118" fill="#04655e"/><polygon points="111.4,118.7 119,117.1 119,116.4 111.4,118" fill="#025a55"/><polygon points="111.4,118 119,116.4 113.3,114.3 105.7,115.9" fill="#056860"/><polygon points="103.9,120.3 98.1,118.2 98.1,114.2 103.9,116.3" fill="#04655e"/><polygon points="103.9,120.3 111.4,118.7 111.4,114.8 103.9,116.3" fill="#025a55"/><polygon points="103.9,116.3 111.4,114.8 105.7,112.7 98.1,114.2" fill="#056860"/><polygon points="96.3,121.9 90.6,119.8 90.6,119.1 96.3,121.2" fill="#04655e"/><polygon points="96.3,121.9 103.9,120.3 103.9,119.6 96.3,121.2" fill="#025a55"/><polygon points="96.3,121.2 103.9,119.6 98.1,117.5 90.6,119.1" fill="#056860"/><polygon points="88.7,123.4 83,121.3 83,120.7 88.7,122.7" fill="#04655e"/><polygon points="88.7,123.4 96.3,121.9 96.3,121.2 88.7,122.7" fill="#025a55"/><polygon points="88.7,122.7 96.3,121.2 90.6,119.1 83,120.7" fill="#056860"/><polygon points="208.1,101.8 202.3,99.7 202.3,99 208.1,101.1" fill="#04655e"/><polygon points="208.1,101.8 215.6,100.2 215.6,99.6 208.1,101.1" fill="#025a55"/><polygon points="208.1,101.1 215.6,99.6 209.9,97.5 202.3,99" fill="#056860"/><polygon points="200.5,103.4 194.8,101.3 194.8,99.7 200.5,101.8" fill="#04655e"/><polygon points="200.5,103.4 208.1,101.8 208.1,100.3 200.5,101.8" fill="#025a55"/><polygon points="200.5,101.8 208.1,100.3 202.3,98.2 194.8,99.7" fill="#056860"/><polygon points="192.9,105 187.2,102.9 187.2,100.3 192.9,102.4" fill="#04655e"/><polygon points="192.9,105 200.5,103.4 200.5,100.8 192.9,102.4" fill="#025a55"/><polygon points="192.9,102.4 200.5,100.8 194.8,98.8 187.2,100.3" fill="#056860"/><polygon points="185.3,106.6 179.6,104.5 179.6,102.9 185.3,105" fill="#04655e"/><polygon points="185.3,106.6 192.9,105 192.9,103.4 185.3,105" fill="#025a55"/><polygon points="185.3,105 192.9,103.4 187.2,101.3 179.6,102.9" fill="#056860"/><polygon points="177.7,108.1 172,106.1 172,102.1 177.7,104.2" fill="#04655e"/><polygon points="177.7,108.1 185.3,106.6 185.3,102.6 177.7,104.2" fill="#025a55"/><polygon points="177.7,104.2 185.3,102.6 179.6,100.5 172,102.1" fill="#056860"/><polygon points="170.2,109.7 164.5,107.6 164.5,106.1 170.2,108.1" fill="#04655e"/><polygon points="170.2,109.7 177.7,108.1 177.7,106.6 170.2,108.1" fill="#025a55"/><polygon points="170.2,108.1 177.7,106.6 172,104.5 164.5,106.1" fill="#056860"/><polygon points="162.6,111.3 156.9,109.2 156.9,108.5 162.6,110.6" fill="#04655e"/><polygon points="162.6,111.3 170.2,109.7 170.2,109 162.6,110.6" fill="#025a55"/><polygon points="162.6,110.6 170.2,109 164.5,106.9 156.9,108.5" fill="#056860"/><polygon points="155,112.9 149.3,110.8 149.3,110.1 155,112.2" fill="#04655e"/><polygon points="155,112.9 162.6,111.3 162.6,110.6 155,112.2" fill="#025a55"/><polygon points="155,112.2 162.6,110.6 156.9,108.5 149.3,110.1" fill="#056860"/><polygon points="147.4,114.5 141.7,112.4 141.7,109.8 147.4,111.9" fill="#04655e"/><polygon points="147.4,114.5 155,112.9 155,110.3 147.4,111.9" fill="#025a55"/><polygon points="147.4,111.9 155,110.3 149.3,108.2 141.7,109.8" fill="#056860"/><polygon points="139.9,116 134.2,114 134.2,113.3 139.9,115.4" fill="#04655e"/><polygon points="139.9,116 147.4,114.5 147.4,113.8 139.9,115.4" fill="#025a55"/><polygon points="139.9,115.4 147.4,113.8 141.7,111.7 134.2,113.3" fill="#056860"/><polygon points="132.3,117.6 126.6,115.5 126.6,114 132.3,116" fill="#04655e"/><polygon points="132.3,117.6 139.9,116 139.9,114.5 132.3,116" fill="#025a55"/><polygon points="132.3,116 139.9,114.5 134.2,112.4 126.6,114" fill="#056860"/><polygon points="124.7,119.2 119,117.1 119,116.4 124.7,118.5" fill="#04655e"/><polygon points="124.7,119.2 132.3,117.6 132.3,116.9 124.7,118.5" fill="#025a55"/><polygon points="124.7,118.5 132.3,116.9 126.6,114.8 119,116.4" fill="#056860"/><polygon points="117.1,120.8 111.4,118.7 111.4,117.1 117.1,119.2" fill="#04655e"/><polygon points="117.1,120.8 124.7,119.2 124.7,117.6 117.1,119.2" fill="#025a55"/><polygon points="117.1,119.2 124.7,117.6 119,115.5 111.4,117.1" fill="#056860"/><polygon points="109.6,122.4 103.9,120.3 103.9,119.6 109.6,121.7" fill="#04655e"/><polygon points="109.6,122.4 117.1,120.8 117.1,120.1 109.6,121.7" fill="#025a55"/><polygon points="109.6,121.7 117.1,120.1 111.4,118 103.9,119.6" fill="#056860"/><polygon points="102,123.9 96.3,121.9 96.3,120.3 102,122.4" fill="#04655e"/><polygon points="102,123.9 109.6,122.4 109.6,120.8 102,122.4" fill="#025a55"/><polygon points="102,122.4 109.6,120.8 103.9,118.7 96.3,120.3" fill="#056860"/><polygon points="94.4,125.5 88.7,123.4 88.7,121.9 94.4,123.9" fill="#04655e"/><polygon points="94.4,125.5 102,123.9 102,122.4 94.4,123.9" fill="#025a55"/><polygon points="94.4,123.9 102,122.4 96.3,120.3 88.7,121.9" fill="#056860"/><polygon points="213.8,103.9 208.1,101.8 208.1,100.3 213.8,102.3" fill="#04655e"/><polygon points="213.8,103.9 221.3,102.3 221.3,100.8 213.8,102.3" fill="#025a55"/><polygon points="213.8,102.3 221.3,100.8 215.6,98.7 208.1,100.3" fill="#056860"/><polygon points="206.2,105.5 200.5,103.4 200.5,100.8 206.2,102.9" fill="#04655e"/><polygon points="206.2,105.5 213.8,103.9 213.8,101.4 206.2,102.9" fill="#025a55"/><polygon points="206.2,102.9 213.8,101.4 208.1,99.3 200.5,100.8" fill="#056860"/><polygon points="198.6,107.1 192.9,105 192.9,102.4 198.6,104.5" fill="#04655e"/><polygon points="198.6,107.1 206.2,105.5 206.2,102.9 198.6,104.5" fill="#025a55"/><polygon points="198.6,104.5 206.2,102.9 200.5,100.8 192.9,102.4" fill="#056860"/><polygon points="191,108.7 185.3,106.6 185.3,97.5 191,99.6" fill="#04655e"/><polygon points="191,108.7 198.6,107.1 198.6,98 191,99.6" fill="#025a55"/><polygon points="191,99.6 198.6,98 192.9,95.9 185.3,97.5" fill="#056860"/><polygon points="183.5,110.2 177.7,108.1 177.7,105.6 183.5,107.7" fill="#04655e"/><polygon points="183.5,110.2 191,108.7 191,106.1 183.5,107.7" fill="#025a55"/><polygon points="183.5,107.7 191,106.1 185.3,104 177.7,105.6" fill="#056860"/><polygon points="175.9,111.8 170.2,109.7 170.2,108.1 175.9,110.2" fill="#04655e"/><polygon points="175.9,111.8 183.5,110.2 183.5,108.7 175.9,110.2" fill="#025a55"/><polygon points="175.9,110.2 183.5,108.7 177.7,106.6 170.2,108.1" fill="#056860"/><polygon points="168.3,113.4 162.6,111.3 162.6,110.6 168.3,112.7" fill="#04655e"/><polygon points="168.3,113.4 175.9,111.8 175.9,111.1 168.3,112.7" fill="#025a55"/><polygon points="168.3,112.7 175.9,111.1 170.2,109 162.6,110.6" fill="#056860"/><polygon points="160.7,115 155,112.9 155,112.2 160.7,114.3" fill="#04655e"/><polygon points="160.7,115 168.3,113.4 168.3,112.7 160.7,114.3" fill="#025a55"/><polygon points="160.7,114.3 168.3,112.7 162.6,110.6 155,112.2" fill="#056860"/><polygon points="153.2,116.6 147.4,114.5 147.4,79 153.2,81.1" fill="#04655e"/><polygon points="153.2,116.6 160.7,115 160.7,79.5 153.2,81.1" fill="#025a55"/><polygon points="153.2,81.1 160.7,79.5 155,77.4 147.4,79" fill="#056860"/><polygon points="145.6,118.1 139.9,116 139.9,114.5 145.6,116.6" fill="#04655e"/><polygon points="145.6,118.1 153.2,116.6 153.2,115 145.6,116.6" fill="#025a55"/><polygon points="145.6,116.6 153.2,115 147.4,112.9 139.9,114.5" fill="#056860"/><polygon points="138,119.7 132.3,117.6 132.3,116 138,118.1" fill="#04655e"/><polygon points="138,119.7 145.6,118.1 145.6,116.6 138,118.1" fill="#025a55"/><polygon points="138,118.1 145.6,116.6 139.9,114.5 132.3,116" fill="#056860"/><polygon points="130.4,121.3 124.7,119.2 124.7,117.6 130.4,119.7" fill="#04655e"/><polygon points="130.4,121.3 138,119.7 138,118.1 130.4,119.7" fill="#025a55"/><polygon points="130.4,119.7 138,118.1 132.3,116 124.7,117.6" fill="#056860"/><polygon points="122.9,122.9 117.1,120.8 117.1,119.2 122.9,121.3" fill="#04655e"/><polygon points="122.9,122.9 130.4,121.3 130.4,119.7 122.9,121.3" fill="#025a55"/><polygon points="122.9,121.3 130.4,119.7 124.7,117.6 117.1,119.2" fill="#056860"/><polygon points="115.3,124.4 109.6,122.4 109.6,120.8 115.3,122.9" fill="#04655e"/><polygon points="115.3,124.4 122.9,122.9 122.9,121.3 115.3,122.9" fill="#025a55"/><polygon points="115.3,122.9 122.9,121.3 117.1,119.2 109.6,120.8" fill="#056860"/><polygon points="107.7,126 102,123.9 102,120 107.7,122.1" fill="#04655e"/><polygon points="107.7,126 115.3,124.4 115.3,120.5 107.7,122.1" fill="#025a55"/><polygon points="107.7,122.1 115.3,120.5 109.6,118.4 102,120" fill="#056860"/><polygon points="100.1,127.6 94.4,125.5 94.4,123.9 100.1,126" fill="#04655e"/><polygon points="100.1,127.6 107.7,126 107.7,124.5 100.1,126" fill="#025a55"/><polygon points="100.1,126 107.7,124.5 102,122.4 94.4,123.9" fill="#056860"/><polygon points="219.5,106 213.8,103.9 213.8,102.3 219.5,104.4" fill="#04655e"/><polygon points="219.5,106 227.1,104.4 227.1,102.8 219.5,104.4" fill="#025a55"/><polygon points="219.5,104.4 227.1,102.8 221.3,100.8 213.8,102.3" fill="#056860"/><polygon points="211.9,107.6 206.2,105.5 206.2,104.8 211.9,106.9" fill="#04655e"/><polygon points="211.9,107.6 219.5,106 219.5,105.3 211.9,106.9" fill="#025a55"/><polygon points="211.9,106.9 219.5,105.3 213.8,103.2 206.2,104.8" fill="#056860"/><polygon points="204.3,109.2 198.6,107.1 198.6,105.5 204.3,107.6" fill="#04655e"/><polygon points="204.3,109.2 211.9,107.6 211.9,106 204.3,107.6" fill="#025a55"/><polygon points="204.3,107.6 211.9,106 206.2,103.9 198.6,105.5" fill="#056860"/><polygon points="196.8,110.7 191,108.7 191,107.1 196.8,109.2" fill="#04655e"/><polygon points="196.8,110.7 204.3,109.2 204.3,107.6 196.8,109.2" fill="#025a55"/><polygon points="196.8,109.2 204.3,107.6 198.6,105.5 191,107.1" fill="#056860"/><polygon points="189.2,112.3 183.5,110.2 183.5,109.5 189.2,111.6" fill="#04655e"/><polygon points="189.2,112.3 196.8,110.7 196.8,110.1 189.2,111.6" fill="#025a55"/><polygon points="189.2,111.6 196.8,110.1 191,108 183.5,109.5" fill="#056860"/><polygon points="181.6,113.9 175.9,111.8 175.9,110.2 181.6,112.3" fill="#04655e"/><polygon points="181.6,113.9 189.2,112.3 189.2,110.7 181.6,112.3" fill="#025a55"/><polygon points="181.6,112.3 189.2,110.7 183.5,108.7 175.9,110.2" fill="#056860"/><polygon points="174,115.5 168.3,113.4 168.3,110.8 174,112.9" fill="#04655e"/><polygon points="174,115.5 181.6,113.9 181.6,111.3 174,112.9" fill="#025a55"/><polygon points="174,112.9 181.6,111.3 175.9,109.3 168.3,110.8" fill="#056860"/><polygon points="166.5,117.1 160.7,115 160.7,113.4 166.5,115.5" fill="#04655e"/><polygon points="166.5,117.1 174,115.5 174,113.9 166.5,115.5" fill="#025a55"/><polygon points="166.5,115.5 174,113.9 168.3,111.8 160.7,113.4" fill="#056860"/><polygon points="158.9,118.6 153.2,116.6 153.2,114 158.9,116.1" fill="#04655e"/><polygon points="158.9,118.6 166.5,117.1 166.5,114.5 158.9,116.1" fill="#025a55"/><polygon points="158.9,116.1 166.5,114.5 160.7,112.4 153.2,114" fill="#056860"/><polygon points="151.3,120.2 145.6,118.1 145.6,89 151.3,91.1" fill="#04655e"/><polygon points="151.3,120.2 158.9,118.6 158.9,89.5 151.3,91.1" fill="#025a55"/><polygon points="151.3,91.1 158.9,89.5 153.2,87.4 145.6,89" fill="#056860"/><polygon points="143.7,121.8 138,119.7 138,97.1 143.7,99.1" fill="#04655e"/><polygon points="143.7,121.8 151.3,120.2 151.3,97.6 143.7,99.1" fill="#025a55"/><polygon points="143.7,99.1 151.3,97.6 145.6,95.5 138,97.1" fill="#056860"/><polygon points="136.2,123.4 130.4,121.3 130.4,119.7 136.2,121.8" fill="#04655e"/><polygon points="136.2,123.4 143.7,121.8 143.7,120.2 136.2,121.8" fill="#025a55"/><polygon points="136.2,121.8 143.7,120.2 138,118.1 130.4,119.7" fill="#056860"/><polygon points="128.6,125 122.9,122.9 122.9,120.3 128.6,122.4" fill="#04655e"/><polygon points="128.6,125 136.2,123.4 136.2,120.8 128.6,122.4" fill="#025a55"/><polygon points="128.6,122.4 136.2,120.8 130.4,118.7 122.9,120.3" fill="#056860"/><polygon points="121,126.5 115.3,124.4 115.3,122.9 121,125" fill="#04655e"/><polygon points="121,126.5 128.6,125 128.6,123.4 121,125" fill="#025a55"/><polygon points="121,125 128.6,123.4 122.9,121.3 115.3,122.9" fill="#056860"/><polygon points="113.4,128.1 107.7,126 107.7,124.5 113.4,126.5" fill="#04655e"/><polygon points="113.4,128.1 121,126.5 121,125 113.4,126.5" fill="#025a55"/><polygon points="113.4,126.5 121,125 115.3,122.9 107.7,124.5" fill="#056860"/><polygon points="105.8,129.7 100.1,127.6 100.1,126 105.8,128.1" fill="#04655e"/><polygon points="105.8,129.7 113.4,128.1 113.4,126.5 105.8,128.1" fill="#025a55"/><polygon points="105.8,128.1 113.4,126.5 107.7,124.5 100.1,126" fill="#056860"/><polygon points="225.2,108.1 219.5,106 219.5,104.4 225.2,106.5" fill="#04655e"/><polygon points="225.2,108.1 232.8,106.5 232.8,104.9 225.2,106.5" fill="#025a55"/><polygon points="225.2,106.5 232.8,104.9 227.1,102.8 219.5,104.4" fill="#056860"/><polygon points="217.6,109.7 211.9,107.6 211.9,106 217.6,108.1" fill="#04655e"/><polygon points="217.6,109.7 225.2,108.1 225.2,106.5 217.6,108.1" fill="#025a55"/><polygon points="217.6,108.1 225.2,106.5 219.5,104.4 211.9,106" fill="#056860"/><polygon points="210,111.3 204.3,109.2 204.3,105.2 210,107.3" fill="#04655e"/><polygon points="210,111.3 217.6,109.7 217.6,105.7 210,107.3" fill="#025a55"/><polygon points="210,107.3 217.6,105.7 211.9,103.6 204.3,105.2" fill="#056860"/><polygon points="202.5,112.8 196.8,110.7 196.8,110.1 202.5,112.1" fill="#04655e"/><polygon points="202.5,112.8 210,111.3 210,110.6 202.5,112.1" fill="#025a55"/><polygon points="202.5,112.1 210,110.6 204.3,108.5 196.8,110.1" fill="#056860"/><polygon points="194.9,114.4 189.2,112.3 189.2,109.8 194.9,111.9" fill="#04655e"/><polygon points="194.9,114.4 202.5,112.8 202.5,110.3 194.9,111.9" fill="#025a55"/><polygon points="194.9,111.9 202.5,110.3 196.8,108.2 189.2,109.8" fill="#056860"/><polygon points="187.3,116 181.6,113.9 181.6,112.3 187.3,114.4" fill="#04655e"/><polygon points="187.3,116 194.9,114.4 194.9,112.8 187.3,114.4" fill="#025a55"/><polygon points="187.3,114.4 194.9,112.8 189.2,110.7 181.6,112.3" fill="#056860"/><polygon points="179.7,117.6 174,115.5 174,113.9 179.7,116" fill="#04655e"/><polygon points="179.7,117.6 187.3,116 187.3,114.4 179.7,116" fill="#025a55"/><polygon points="179.7,116 187.3,114.4 181.6,112.3 174,113.9" fill="#056860"/><polygon points="172.2,119.2 166.5,117.1 166.5,116.4 172.2,118.5" fill="#04655e"/><polygon points="172.2,119.2 179.7,117.6 179.7,116.9 172.2,118.5" fill="#025a55"/><polygon points="172.2,118.5 179.7,116.9 174,114.8 166.5,116.4" fill="#056860"/><polygon points="164.6,120.7 158.9,118.6 158.9,116.1 164.6,118.2" fill="#04655e"/><polygon points="164.6,120.7 172.2,119.2 172.2,116.6 164.6,118.2" fill="#025a55"/><polygon points="164.6,118.2 172.2,116.6 166.5,114.5 158.9,116.1" fill="#056860"/><polygon points="157,122.3 151.3,120.2 151.3,119.5 157,121.6" fill="#04655e"/><polygon points="157,122.3 164.6,120.7 164.6,120 157,121.6" fill="#025a55"/><polygon points="157,121.6 164.6,120 158.9,118 151.3,119.5" fill="#056860"/><polygon points="149.4,123.9 143.7,121.8 143.7,120.2 149.4,122.3" fill="#04655e"/><polygon points="149.4,123.9 157,122.3 157,120.7 149.4,122.3" fill="#025a55"/><polygon points="149.4,122.3 157,120.7 151.3,118.6 143.7,120.2" fill="#056860"/><polygon points="141.9,125.5 136.2,123.4 136.2,121.8 141.9,123.9" fill="#04655e"/><polygon points="141.9,125.5 149.4,123.9 149.4,122.3 141.9,123.9" fill="#025a55"/><polygon points="141.9,123.9 149.4,122.3 143.7,120.2 136.2,121.8" fill="#056860"/><polygon points="134.3,127 128.6,125 128.6,122.4 134.3,124.5" fill="#04655e"/><polygon points="134.3,127 141.9,125.5 141.9,122.9 134.3,124.5" fill="#025a55"/><polygon points="134.3,124.5 141.9,122.9 136.2,120.8 128.6,122.4" fill="#056860"/><polygon points="126.7,128.6 121,126.5 121,124 126.7,126.1" fill="#04655e"/><polygon points="126.7,128.6 134.3,127 134.3,124.5 126.7,126.1" fill="#025a55"/><polygon points="126.7,126.1 134.3,124.5 128.6,122.4 121,124" fill="#056860"/><polygon points="119.1,130.2 113.4,128.1 113.4,127.4 119.1,129.5" fill="#04655e"/><polygon points="119.1,130.2 126.7,128.6 126.7,127.9 119.1,129.5" fill="#025a55"/><polygon points="119.1,129.5 126.7,127.9 121,125.8 113.4,127.4" fill="#056860"/><polygon points="111.6,131.8 105.8,129.7 105.8,128.1 111.6,130.2" fill="#04655e"/><polygon points="111.6,131.8 119.1,130.2 119.1,128.6 111.6,130.2" fill="#025a55"/><polygon points="111.6,130.2 119.1,128.6 113.4,126.5 105.8,128.1" fill="#056860"/><polygon points="230.9,110.2 225.2,108.1 225.2,106.5 230.9,108.6" fill="#04655e"/><polygon points="230.9,110.2 238.5,108.6 238.5,107 230.9,108.6" fill="#025a55"/><polygon points="230.9,108.6 238.5,107 232.8,104.9 225.2,106.5" fill="#056860"/><polygon points="223.3,111.8 217.6,109.7 217.6,108.1 223.3,110.2" fill="#04655e"/><polygon points="223.3,111.8 230.9,110.2 230.9,108.6 223.3,110.2" fill="#025a55"/><polygon points="223.3,110.2 230.9,108.6 225.2,106.5 217.6,108.1" fill="#056860"/><polygon points="215.8,113.3 210,111.3 210,108.7 215.8,110.8" fill="#04655e"/><polygon points="215.8,113.3 223.3,111.8 223.3,109.2 215.8,110.8" fill="#025a55"/><polygon points="215.8,110.8 223.3,109.2 217.6,107.1 210,108.7" fill="#056860"/><polygon points="208.2,114.9 202.5,112.8 202.5,112.1 208.2,114.2" fill="#04655e"/><polygon points="208.2,114.9 215.8,113.3 215.8,112.7 208.2,114.2" fill="#025a55"/><polygon points="208.2,114.2 215.8,112.7 210,110.6 202.5,112.1" fill="#056860"/><polygon points="200.6,116.5 194.9,114.4 194.9,113.7 200.6,115.8" fill="#04655e"/><polygon points="200.6,116.5 208.2,114.9 208.2,114.2 200.6,115.8" fill="#025a55"/><polygon points="200.6,115.8 208.2,114.2 202.5,112.1 194.9,113.7" fill="#056860"/><polygon points="193,118.1 187.3,116 187.3,114.4 193,116.5" fill="#04655e"/><polygon points="193,118.1 200.6,116.5 200.6,114.9 193,116.5" fill="#025a55"/><polygon points="193,116.5 200.6,114.9 194.9,112.8 187.3,114.4" fill="#056860"/><polygon points="185.5,119.7 179.7,117.6 179.7,116.9 185.5,119" fill="#04655e"/><polygon points="185.5,119.7 193,118.1 193,117.4 185.5,119" fill="#025a55"/><polygon points="185.5,119 193,117.4 187.3,115.3 179.7,116.9" fill="#056860"/><polygon points="177.9,121.2 172.2,119.2 172.2,118.5 177.9,120.6" fill="#04655e"/><polygon points="177.9,121.2 185.5,119.7 185.5,119 177.9,120.6" fill="#025a55"/><polygon points="177.9,120.6 185.5,119 179.7,116.9 172.2,118.5" fill="#056860"/><polygon points="170.3,122.8 164.6,120.7 164.6,119.2 170.3,121.2" fill="#04655e"/><polygon points="170.3,122.8 177.9,121.2 177.9,119.7 170.3,121.2" fill="#025a55"/><polygon points="170.3,121.2 177.9,119.7 172.2,117.6 164.6,119.2" fill="#056860"/><polygon points="162.7,124.4 157,122.3 157,116.8 162.7,118.9" fill="#04655e"/><polygon points="162.7,124.4 170.3,122.8 170.3,117.3 162.7,118.9" fill="#025a55"/><polygon points="162.7,118.9 170.3,117.3 164.6,115.2 157,116.8" fill="#056860"/><polygon points="155.2,126 149.4,123.9 149.4,123.2 155.2,125.3" fill="#04655e"/><polygon points="155.2,126 162.7,124.4 162.7,123.7 155.2,125.3" fill="#025a55"/><polygon points="155.2,125.3 162.7,123.7 157,121.6 149.4,123.2" fill="#056860"/><polygon points="147.6,127.6 141.9,125.5 141.9,122.9 147.6,125" fill="#04655e"/><polygon points="147.6,127.6 155.2,126 155.2,123.4 147.6,125" fill="#025a55"/><polygon points="147.6,125 155.2,123.4 149.4,121.3 141.9,122.9" fill="#056860"/><polygon points="140,129.1 134.3,127 134.3,125.5 140,127.6" fill="#04655e"/><polygon points="140,129.1 147.6,127.6 147.6,126 140,127.6" fill="#025a55"/><polygon points="140,127.6 147.6,126 141.9,123.9 134.3,125.5" fill="#056860"/><polygon points="132.4,130.7 126.7,128.6 126.7,127.9 132.4,130" fill="#04655e"/><polygon points="132.4,130.7 140,129.1 140,128.4 132.4,130" fill="#025a55"/><polygon points="132.4,130 140,128.4 134.3,126.4 126.7,127.9" fill="#056860"/><polygon points="124.9,132.3 119.1,130.2 119.1,129.5 124.9,131.6" fill="#04655e"/><polygon points="124.9,132.3 132.4,130.7 132.4,130 124.9,131.6" fill="#025a55"/><polygon points="124.9,131.6 132.4,130 126.7,127.9 119.1,129.5" fill="#056860"/><polygon points="117.3,133.9 111.6,131.8 111.6,131.1 117.3,133.2" fill="#04655e"/><polygon points="117.3,133.9 124.9,132.3 124.9,131.6 117.3,133.2" fill="#025a55"/><polygon points="117.3,133.2 124.9,131.6 119.1,129.5 111.6,131.1" fill="#056860"/><polygon points="236.6,112.3 230.9,110.2 230.9,108.6 236.6,110.7" fill="#04655e"/><polygon points="236.6,112.3 244.2,110.7 244.2,109.1 236.6,110.7" fill="#025a55"/><polygon points="236.6,110.7 244.2,109.1 238.5,107 230.9,108.6" fill="#056860"/><polygon points="229.1,113.9 223.3,111.8 223.3,109.2 229.1,111.3" fill="#04655e"/><polygon points="229.1,113.9 236.6,112.3 236.6,109.7 229.1,111.3" fill="#025a55"/><polygon points="229.1,111.3 236.6,109.7 230.9,107.6 223.3,109.2" fill="#056860"/><polygon points="221.5,115.4 215.8,113.3 215.8,111.8 221.5,113.9" fill="#04655e"/><polygon points="221.5,115.4 229.1,113.9 229.1,112.3 221.5,113.9" fill="#025a55"/><polygon points="221.5,113.9 229.1,112.3 223.3,110.2 215.8,111.8" fill="#056860"/><polygon points="213.9,117 208.2,114.9 208.2,113.3 213.9,115.4" fill="#04655e"/><polygon points="213.9,117 221.5,115.4 221.5,113.9 213.9,115.4" fill="#025a55"/><polygon points="213.9,115.4 221.5,113.9 215.8,111.8 208.2,113.3" fill="#056860"/><polygon points="206.3,118.6 200.6,116.5 200.6,115.8 206.3,117.9" fill="#04655e"/><polygon points="206.3,118.6 213.9,117 213.9,116.3 206.3,117.9" fill="#025a55"/><polygon points="206.3,117.9 213.9,116.3 208.2,114.2 200.6,115.8" fill="#056860"/><polygon points="198.8,120.2 193,118.1 193,117.4 198.8,119.5" fill="#04655e"/><polygon points="198.8,120.2 206.3,118.6 206.3,117.9 198.8,119.5" fill="#025a55"/><polygon points="198.8,119.5 206.3,117.9 200.6,115.8 193,117.4" fill="#056860"/><polygon points="191.2,121.7 185.5,119.7 185.5,118.1 191.2,120.2" fill="#04655e"/><polygon points="191.2,121.7 198.8,120.2 198.8,118.6 191.2,120.2" fill="#025a55"/><polygon points="191.2,120.2 198.8,118.6 193,116.5 185.5,118.1" fill="#056860"/><polygon points="183.6,123.3 177.9,121.2 177.9,119.7 183.6,121.8" fill="#04655e"/><polygon points="183.6,123.3 191.2,121.7 191.2,120.2 183.6,121.8" fill="#025a55"/><polygon points="183.6,121.8 191.2,120.2 185.5,118.1 177.9,119.7" fill="#056860"/><polygon points="176,124.9 170.3,122.8 170.3,122.1 176,124.2" fill="#04655e"/><polygon points="176,124.9 183.6,123.3 183.6,122.6 176,124.2" fill="#025a55"/><polygon points="176,124.2 183.6,122.6 177.9,120.6 170.3,122.1" fill="#056860"/><polygon points="168.4,126.5 162.7,124.4 162.7,122.8 168.4,124.9" fill="#04655e"/><polygon points="168.4,126.5 176,124.9 176,123.3 168.4,124.9" fill="#025a55"/><polygon points="168.4,124.9 176,123.3 170.3,121.2 162.7,122.8" fill="#056860"/><polygon points="160.9,128.1 155.2,126 155.2,123.4 160.9,125.5" fill="#04655e"/><polygon points="160.9,128.1 168.4,126.5 168.4,123.9 160.9,125.5" fill="#025a55"/><polygon points="160.9,125.5 168.4,123.9 162.7,121.8 155.2,123.4" fill="#056860"/><polygon points="153.3,129.6 147.6,127.6 147.6,126 153.3,128.1" fill="#04655e"/><polygon points="153.3,129.6 160.9,128.1 160.9,126.5 153.3,128.1" fill="#025a55"/><polygon points="153.3,128.1 160.9,126.5 155.2,124.4 147.6,126" fill="#056860"/><polygon points="145.7,131.2 140,129.1 140,127.6 145.7,129.7" fill="#04655e"/><polygon points="145.7,131.2 153.3,129.6 153.3,128.1 145.7,129.7" fill="#025a55"/><polygon points="145.7,129.7 153.3,128.1 147.6,126 140,127.6" fill="#056860"/><polygon points="138.1,132.8 132.4,130.7 132.4,130 138.1,132.1" fill="#04655e"/><polygon points="138.1,132.8 145.7,131.2 145.7,130.5 138.1,132.1" fill="#025a55"/><polygon points="138.1,132.1 145.7,130.5 140,128.4 132.4,130" fill="#056860"/><polygon points="130.6,134.4 124.9,132.3 124.9,129.7 130.6,131.8" fill="#04655e"/><polygon points="130.6,134.4 138.1,132.8 138.1,130.2 130.6,131.8" fill="#025a55"/><polygon points="130.6,131.8 138.1,130.2 132.4,128.2 124.9,129.7" fill="#056860"/><polygon points="123,136 117.3,133.9 117.3,132.3 123,134.4" fill="#04655e"/><polygon points="123,136 130.6,134.4 130.6,132.8 123,134.4" fill="#025a55"/><polygon points="123,134.4 130.6,132.8 124.9,130.7 117.3,132.3" fill="#056860"/><polygon points="242.3,114.4 236.6,112.3 236.6,110.7 242.3,112.8" fill="#04655e"/><polygon points="242.3,114.4 249.9,112.8 249.9,111.2 242.3,112.8" fill="#025a55"/><polygon points="242.3,112.8 249.9,111.2 244.2,109.1 236.6,110.7" fill="#056860"/><polygon points="234.8,115.9 229.1,113.9 229.1,112.3 234.8,114.4" fill="#04655e"/><polygon points="234.8,115.9 242.3,114.4 242.3,112.8 234.8,114.4" fill="#025a55"/><polygon points="234.8,114.4 242.3,112.8 236.6,110.7 229.1,112.3" fill="#056860"/><polygon points="227.2,117.5 221.5,115.4 221.5,114.7 227.2,116.8" fill="#04655e"/><polygon points="227.2,117.5 234.8,115.9 234.8,115.3 227.2,116.8" fill="#025a55"/><polygon points="227.2,116.8 234.8,115.3 229.1,113.2 221.5,114.7" fill="#056860"/><polygon points="219.6,119.1 213.9,117 213.9,115.4 219.6,117.5" fill="#04655e"/><polygon points="219.6,119.1 227.2,117.5 227.2,115.9 219.6,117.5" fill="#025a55"/><polygon points="219.6,117.5 227.2,115.9 221.5,113.9 213.9,115.4" fill="#056860"/><polygon points="212,120.7 206.3,118.6 206.3,117 212,119.1" fill="#04655e"/><polygon points="212,120.7 219.6,119.1 219.6,117.5 212,119.1" fill="#025a55"/><polygon points="212,119.1 219.6,117.5 213.9,115.4 206.3,117" fill="#056860"/><polygon points="204.5,122.3 198.8,120.2 198.8,118.6 204.5,120.7" fill="#04655e"/><polygon points="204.5,122.3 212,120.7 212,119.1 204.5,120.7" fill="#025a55"/><polygon points="204.5,120.7 212,119.1 206.3,117 198.8,118.6" fill="#056860"/><polygon points="196.9,123.8 191.2,121.7 191.2,119.2 196.9,121.3" fill="#04655e"/><polygon points="196.9,123.8 204.5,122.3 204.5,119.7 196.9,121.3" fill="#025a55"/><polygon points="196.9,121.3 204.5,119.7 198.8,117.6 191.2,119.2" fill="#056860"/><polygon points="189.3,125.4 183.6,123.3 183.6,121.8 189.3,123.8" fill="#04655e"/><polygon points="189.3,125.4 196.9,123.8 196.9,122.3 189.3,123.8" fill="#025a55"/><polygon points="189.3,123.8 196.9,122.3 191.2,120.2 183.6,121.8" fill="#056860"/><polygon points="181.7,127 176,124.9 176,121.4 181.7,123.5" fill="#04655e"/><polygon points="181.7,127 189.3,125.4 189.3,121.9 181.7,123.5" fill="#025a55"/><polygon points="181.7,123.5 189.3,121.9 183.6,119.8 176,121.4" fill="#056860"/><polygon points="174.2,128.6 168.4,126.5 168.4,124.9 174.2,127" fill="#04655e"/><polygon points="174.2,128.6 181.7,127 181.7,125.4 174.2,127" fill="#025a55"/><polygon points="174.2,127 181.7,125.4 176,123.3 168.4,124.9" fill="#056860"/><polygon points="166.6,130.2 160.9,128.1 160.9,126.5 166.6,128.6" fill="#04655e"/><polygon points="166.6,130.2 174.2,128.6 174.2,127 166.6,128.6" fill="#025a55"/><polygon points="166.6,128.6 174.2,127 168.4,124.9 160.9,126.5" fill="#056860"/><polygon points="159,131.7 153.3,129.6 153.3,128.1 159,130.2" fill="#04655e"/><polygon points="159,131.7 166.6,130.2 166.6,128.6 159,130.2" fill="#025a55"/><polygon points="159,130.2 166.6,128.6 160.9,126.5 153.3,128.1" fill="#056860"/><polygon points="151.4,133.3 145.7,131.2 145.7,129.7 151.4,131.7" fill="#04655e"/><polygon points="151.4,133.3 159,131.7 159,130.2 151.4,131.7" fill="#025a55"/><polygon points="151.4,131.7 159,130.2 153.3,128.1 145.7,129.7" fill="#056860"/><polygon points="143.9,134.9 138.1,132.8 138.1,131.2 143.9,133.3" fill="#04655e"/><polygon points="143.9,134.9 151.4,133.3 151.4,131.7 143.9,133.3" fill="#025a55"/><polygon points="143.9,133.3 151.4,131.7 145.7,129.7 138.1,131.2" fill="#056860"/><polygon points="136.3,136.5 130.6,134.4 130.6,130.4 136.3,132.5" fill="#04655e"/><polygon points="136.3,136.5 143.9,134.9 143.9,131 136.3,132.5" fill="#025a55"/><polygon points="136.3,132.5 143.9,131 138.1,128.9 130.6,130.4" fill="#056860"/><polygon points="128.7,138.1 123,136 123,117.2 128.7,119.3" fill="#04655e"/><polygon points="128.7,138.1 136.3,136.5 136.3,117.8 128.7,119.3" fill="#025a55"/><polygon points="128.7,119.3 136.3,117.8 130.6,115.7 123,117.2" fill="#056860"/><polygon points="248.1,116.5 242.3,114.4 242.3,112.8 248.1,114.9" fill="#04655e"/><polygon points="248.1,116.5 255.6,114.9 255.6,113.3 248.1,114.9" fill="#025a55"/><polygon points="248.1,114.9 255.6,113.3 249.9,111.2 242.3,112.8" fill="#056860"/><polygon points="240.5,118 234.8,115.9 234.8,114.4 240.5,116.5" fill="#04655e"/><polygon points="240.5,118 248.1,116.5 248.1,114.9 240.5,116.5" fill="#025a55"/><polygon points="240.5,116.5 248.1,114.9 242.3,112.8 234.8,114.4" fill="#056860"/><polygon points="232.9,119.6 227.2,117.5 227.2,115.9 232.9,118" fill="#04655e"/><polygon points="232.9,119.6 240.5,118 240.5,116.5 232.9,118" fill="#025a55"/><polygon points="232.9,118 240.5,116.5 234.8,114.4 227.2,115.9" fill="#056860"/><polygon points="225.3,121.2 219.6,119.1 219.6,115.6 225.3,117.6" fill="#04655e"/><polygon points="225.3,121.2 232.9,119.6 232.9,116.1 225.3,117.6" fill="#025a55"/><polygon points="225.3,117.6 232.9,116.1 227.2,114 219.6,115.6" fill="#056860"/><polygon points="217.8,122.8 212,120.7 212,119.1 217.8,121.2" fill="#04655e"/><polygon points="217.8,122.8 225.3,121.2 225.3,119.6 217.8,121.2" fill="#025a55"/><polygon points="217.8,121.2 225.3,119.6 219.6,117.5 212,119.1" fill="#056860"/><polygon points="210.2,124.3 204.5,122.3 204.5,120.7 210.2,122.8" fill="#04655e"/><polygon points="210.2,124.3 217.8,122.8 217.8,121.2 210.2,122.8" fill="#025a55"/><polygon points="210.2,122.8 217.8,121.2 212,119.1 204.5,120.7" fill="#056860"/><polygon points="202.6,125.9 196.9,123.8 196.9,123.1 202.6,125.2" fill="#04655e"/><polygon points="202.6,125.9 210.2,124.3 210.2,123.7 202.6,125.2" fill="#025a55"/><polygon points="202.6,125.2 210.2,123.7 204.5,121.6 196.9,123.1" fill="#056860"/><polygon points="195,127.5 189.3,125.4 189.3,124.7 195,126.8" fill="#04655e"/><polygon points="195,127.5 202.6,125.9 202.6,125.2 195,126.8" fill="#025a55"/><polygon points="195,126.8 202.6,125.2 196.9,123.1 189.3,124.7" fill="#056860"/><polygon points="187.5,129.1 181.7,127 181.7,126.3 187.5,128.4" fill="#04655e"/><polygon points="187.5,129.1 195,127.5 195,126.8 187.5,128.4" fill="#025a55"/><polygon points="187.5,128.4 195,126.8 189.3,124.7 181.7,126.3" fill="#056860"/><polygon points="179.9,130.7 174.2,128.6 174.2,127 179.9,129.1" fill="#04655e"/><polygon points="179.9,130.7 187.5,129.1 187.5,127.5 179.9,129.1" fill="#025a55"/><polygon points="179.9,129.1 187.5,127.5 181.7,125.4 174.2,127" fill="#056860"/><polygon points="172.3,132.2 166.6,130.2 166.6,128.6 172.3,130.7" fill="#04655e"/><polygon points="172.3,132.2 179.9,130.7 179.9,129.1 172.3,130.7" fill="#025a55"/><polygon points="172.3,130.7 179.9,129.1 174.2,127 166.6,128.6" fill="#056860"/><polygon points="164.7,133.8 159,131.7 159,130.2 164.7,132.2" fill="#04655e"/><polygon points="164.7,133.8 172.3,132.2 172.3,130.7 164.7,132.2" fill="#025a55"/><polygon points="164.7,132.2 172.3,130.7 166.6,128.6 159,130.2" fill="#056860"/><polygon points="157.2,135.4 151.4,133.3 151.4,131.7 157.2,133.8" fill="#04655e"/><polygon points="157.2,135.4 164.7,133.8 164.7,132.2 157.2,133.8" fill="#025a55"/><polygon points="157.2,133.8 164.7,132.2 159,130.2 151.4,131.7" fill="#056860"/><polygon points="149.6,137 143.9,134.9 143.9,134.2 149.6,136.3" fill="#04655e"/><polygon points="149.6,137 157.2,135.4 157.2,134.7 149.6,136.3" fill="#025a55"/><polygon points="149.6,136.3 157.2,134.7 151.4,132.6 143.9,134.2" fill="#056860"/><polygon points="142,138.6 136.3,136.5 136.3,135.8 142,137.9" fill="#04655e"/><polygon points="142,138.6 149.6,137 149.6,136.3 142,137.9" fill="#025a55"/><polygon points="142,137.9 149.6,136.3 143.9,134.2 136.3,135.8" fill="#056860"/><polygon points="134.4,140.1 128.7,138.1 128.7,69.1 134.4,71.2" fill="#04655e"/><polygon points="134.4,140.1 142,138.6 142,69.6 134.4,71.2" fill="#025a55"/><polygon points="134.4,71.2 142,69.6 136.3,67.5 128.7,69.1" fill="#056860"/></g>
<text transform="translate(10 65.9) rotate(-90)" text-anchor="middle">c (u,v)</text>
<text transform="translate(57.1 145.8) rotate(19.5)" text-anchor="middle" font-style="italic" font-size="11.8">AMK (V)</text>
<text transform="translate(222 152.1) rotate(-11.5)" text-anchor="middle" font-size="10.8"><tspan font-style="italic">Panax ginseng</tspan> (U)</text>
<text x="133.4" y="181" text-anchor="middle" font-size="9.5">(a)</text>
<path d="M315.6 104.1L445.6 77.4L546.4 113.1M315.6 88.6L445.6 61.9L546.4 97.6M315.6 73.1L445.6 46.4L546.4 82.1M315.6 57.6L445.6 30.9L546.4 66.6M315.6 42.1L445.6 15.4L546.4 51.1M315.6 26.6L445.6 -0.1L546.4 35.6M330.5 101L330.5 23.5M359.4 95.1L359.4 17.6M388.3 89.2L388.3 11.7M417.2 83.2L417.2 5.7M446.1 77.3L446.1 -0.2M531.3 107.8L531.3 30.3M510.8 100.5L510.8 23M490.4 93.3L490.4 15.8M469.9 86L469.9 8.5M449.5 78.8L449.5 1.3" fill="none" stroke="#8c8c8c" stroke-width="0.5"/>
<path d="M315.6 104.6L315.6 26.1" stroke="#757575" stroke-width="1.3" fill="none"/>
<text x="308.4" y="107.4" text-anchor="end">0</text>
<text x="308.4" y="91.9" text-anchor="end">10</text>
<text x="308.4" y="76.4" text-anchor="end">20</text>
<text x="308.4" y="60.9" text-anchor="end">30</text>
<text x="308.4" y="45.4" text-anchor="end">40</text>
<text x="308.4" y="29.9" text-anchor="end">50</text>
<path d="M315.6 104.1L416.4 139.8L546.4 113.1" stroke="#1a1a1a" stroke-width="1.1" fill="none"/>
<text x="312.6" y="112.8" text-anchor="end">1</text>
<text x="332.6" y="120.5" text-anchor="end">0.8</text>
<text x="353" y="127.8" text-anchor="end">0.6</text>
<text x="373.4" y="135" text-anchor="end">0.4</text>
<text x="393.9" y="142.3" text-anchor="end">0.2</text>
<text x="433.5" y="149" text-anchor="start">0.2</text>
<text x="462.4" y="143.1" text-anchor="start">0.4</text>
<text x="491.3" y="137.2" text-anchor="start">0.6</text>
<text x="520.2" y="131.2" text-anchor="start">0.8</text>
<text x="549.1" y="125.3" text-anchor="start">1</text>
<path d="M312 103.8L315.6 104.1M312 88.3L315.6 88.6M312 72.8L315.6 73.1M312 57.3L315.6 57.6M312 41.8L315.6 42.1M312 26.3L315.6 26.6M319.5 105.5L316.4 106.1M339.9 112.7L336.8 113.4M360.4 120L357.3 120.6M380.8 127.2L377.7 127.9M401.3 134.5L398.2 135.1M431.3 136.7L434.3 137.8M460.2 130.8L463.2 131.9M489.1 124.9L492.1 125.9M518 118.9L521 120M546.9 113L549.9 114.1" stroke="#222" stroke-width="0.8" fill="none"/>
<g stroke="#001414" stroke-width="0.7" stroke-linejoin="round"><polygon points="444.4,84.7 438.8,82.8 438.8,81.5 444.4,83.5" fill="#04655e"/><polygon points="444.4,84.7 451.8,83.2 451.8,82 444.4,83.5" fill="#025a55"/><polygon points="444.4,83.5 451.8,82 446.2,80 438.8,81.5" fill="#056860"/><polygon points="437,86.3 431.4,84.3 431.4,83 437,85" fill="#04655e"/><polygon points="437,86.3 444.4,84.7 444.4,83.5 437,85" fill="#025a55"/><polygon points="437,85 444.4,83.5 438.8,81.5 431.4,83" fill="#056860"/><polygon points="429.6,87.8 424,85.8 424,84.5 429.6,86.5" fill="#04655e"/><polygon points="429.6,87.8 437,86.3 437,85 429.6,86.5" fill="#025a55"/><polygon points="429.6,86.5 437,85 431.4,83 424,84.5" fill="#056860"/><polygon points="422.3,89.3 416.6,87.3 416.6,86.1 422.3,88.1" fill="#04655e"/><polygon points="422.3,89.3 429.6,87.8 429.6,86.5 422.3,88.1" fill="#025a55"/><polygon points="422.3,88.1 429.6,86.5 424,84.5 416.6,86.1" fill="#056860"/><polygon points="414.9,90.8 409.2,88.8 409.2,88.3 414.9,90.3" fill="#04655e"/><polygon points="414.9,90.8 422.3,89.3 422.3,88.8 414.9,90.3" fill="#025a55"/><polygon points="414.9,90.3 422.3,88.8 416.6,86.8 409.2,88.3" fill="#056860"/><polygon points="407.5,92.3 401.8,90.3 401.8,89.8 407.5,91.8" fill="#04655e"/><polygon points="407.5,92.3 414.9,90.8 414.9,90.3 407.5,91.8" fill="#025a55"/><polygon points="407.5,91.8 414.9,90.3 409.2,88.3 401.8,89.8" fill="#056860"/><polygon points="400.1,93.8 394.5,91.9 394.5,90.6 400.1,92.6" fill="#04655e"/><polygon points="400.1,93.8 407.5,92.3 407.5,91.1 400.1,92.6" fill="#025a55"/><polygon points="400.1,92.6 407.5,91.1 401.8,89.1 394.5,90.6" fill="#056860"/><polygon points="392.7,95.4 387.1,93.4 387.1,92.8 392.7,94.8" fill="#04655e"/><polygon points="392.7,95.4 400.1,93.8 400.1,93.3 392.7,94.8" fill="#025a55"/><polygon points="392.7,94.8 400.1,93.3 394.5,91.3 387.1,92.8" fill="#056860"/><polygon points="385.3,96.9 379.7,94.9 379.7,93.6 385.3,95.6" fill="#04655e"/><polygon points="385.3,96.9 392.7,95.4 392.7,94.1 385.3,95.6" fill="#025a55"/><polygon points="385.3,95.6 392.7,94.1 387.1,92.1 379.7,93.6" fill="#056860"/><polygon points="377.9,98.4 372.3,96.4 372.3,95.9 377.9,97.9" fill="#04655e"/><polygon points="377.9,98.4 385.3,96.9 385.3,96.3 377.9,97.9" fill="#025a55"/><polygon points="377.9,97.9 385.3,96.3 379.7,94.3 372.3,95.9" fill="#056860"/><polygon points="370.6,99.9 364.9,97.9 364.9,97.4 370.6,99.4" fill="#04655e"/><polygon points="370.6,99.9 377.9,98.4 377.9,97.9 370.6,99.4" fill="#025a55"/><polygon points="370.6,99.4 377.9,97.9 372.3,95.9 364.9,97.4" fill="#056860"/><polygon points="363.2,101.4 357.5,99.4 357.5,98.2 363.2,100.2" fill="#04655e"/><polygon points="363.2,101.4 370.6,99.9 370.6,98.7 363.2,100.2" fill="#025a55"/><polygon points="363.2,100.2 370.6,98.7 364.9,96.7 357.5,98.2" fill="#056860"/><polygon points="355.8,103 350.1,101 350.1,99.7 355.8,101.7" fill="#04655e"/><polygon points="355.8,103 363.2,101.4 363.2,100.2 355.8,101.7" fill="#025a55"/><polygon points="355.8,101.7 363.2,100.2 357.5,98.2 350.1,99.7" fill="#056860"/><polygon points="348.4,104.5 342.8,102.5 342.8,101.2 348.4,103.2" fill="#04655e"/><polygon points="348.4,104.5 355.8,103 355.8,101.7 348.4,103.2" fill="#025a55"/><polygon points="348.4,103.2 355.8,101.7 350.1,99.7 342.8,101.2" fill="#056860"/><polygon points="341,106 335.4,104 335.4,103.4 341,105.4" fill="#04655e"/><polygon points="341,106 348.4,104.5 348.4,103.9 341,105.4" fill="#025a55"/><polygon points="341,105.4 348.4,103.9 342.8,101.9 335.4,103.4" fill="#056860"/><polygon points="333.6,107.5 328,105.5 328,104.3 333.6,106.3" fill="#04655e"/><polygon points="333.6,107.5 341,106 341,104.7 333.6,106.3" fill="#025a55"/><polygon points="333.6,106.3 341,104.7 335.4,102.7 328,104.3" fill="#056860"/><polygon points="450,86.7 444.4,84.7 444.4,83.5 450,85.5" fill="#04655e"/><polygon points="450,86.7 457.4,85.2 457.4,84 450,85.5" fill="#025a55"/><polygon points="450,85.5 457.4,84 451.8,82 444.4,83.5" fill="#056860"/><polygon points="442.7,88.3 437,86.3 437,60.2 442.7,62.2" fill="#04655e"/><polygon points="442.7,88.3 450,86.7 450,60.7 442.7,62.2" fill="#025a55"/><polygon points="442.7,62.2 450,60.7 444.4,58.7 437,60.2" fill="#056860"/><polygon points="435.3,89.8 429.6,87.8 429.6,87.2 435.3,89.2" fill="#04655e"/><polygon points="435.3,89.8 442.7,88.3 442.7,87.7 435.3,89.2" fill="#025a55"/><polygon points="435.3,89.2 442.7,87.7 437,85.7 429.6,87.2" fill="#056860"/><polygon points="427.9,91.3 422.3,89.3 422.3,88.8 427.9,90.8" fill="#04655e"/><polygon points="427.9,91.3 435.3,89.8 435.3,89.2 427.9,90.8" fill="#025a55"/><polygon points="427.9,90.8 435.3,89.2 429.6,87.2 422.3,88.8" fill="#056860"/><polygon points="420.5,92.8 414.9,90.8 414.9,89.6 420.5,91.6" fill="#04655e"/><polygon points="420.5,92.8 427.9,91.3 427.9,90.1 420.5,91.6" fill="#025a55"/><polygon points="420.5,91.6 427.9,90.1 422.3,88.1 414.9,89.6" fill="#056860"/><polygon points="413.1,94.3 407.5,92.3 407.5,90.3 413.1,92.3" fill="#04655e"/><polygon points="413.1,94.3 420.5,92.8 420.5,90.8 413.1,92.3" fill="#025a55"/><polygon points="413.1,92.3 420.5,90.8 414.9,88.8 407.5,90.3" fill="#056860"/><polygon points="405.7,95.8 400.1,93.8 400.1,90.7 405.7,92.7" fill="#04655e"/><polygon points="405.7,95.8 413.1,94.3 413.1,91.2 405.7,92.7" fill="#025a55"/><polygon points="405.7,92.7 413.1,91.2 407.5,89.2 400.1,90.7" fill="#056860"/><polygon points="398.3,97.4 392.7,95.4 392.7,94.1 398.3,96.1" fill="#04655e"/><polygon points="398.3,97.4 405.7,95.8 405.7,94.6 398.3,96.1" fill="#025a55"/><polygon points="398.3,96.1 405.7,94.6 400.1,92.6 392.7,94.1" fill="#056860"/><polygon points="391,98.9 385.3,96.9 385.3,94.9 391,96.9" fill="#04655e"/><polygon points="391,98.9 398.3,97.4 398.3,95.3 391,96.9" fill="#025a55"/><polygon points="391,96.9 398.3,95.3 392.7,93.4 385.3,94.9" fill="#056860"/><polygon points="383.6,100.4 377.9,98.4 377.9,96.4 383.6,98.4" fill="#04655e"/><polygon points="383.6,100.4 391,98.9 391,96.9 383.6,98.4" fill="#025a55"/><polygon points="383.6,98.4 391,96.9 385.3,94.9 377.9,96.4" fill="#056860"/><polygon points="376.2,101.9 370.6,99.9 370.6,97.9 376.2,99.9" fill="#04655e"/><polygon points="376.2,101.9 383.6,100.4 383.6,98.4 376.2,99.9" fill="#025a55"/><polygon points="376.2,99.9 383.6,98.4 377.9,96.4 370.6,97.9" fill="#056860"/><polygon points="368.8,103.4 363.2,101.4 363.2,100.2 368.8,102.2" fill="#04655e"/><polygon points="368.8,103.4 376.2,101.9 376.2,100.7 368.8,102.2" fill="#025a55"/><polygon points="368.8,102.2 376.2,100.7 370.6,98.7 363.2,100.2" fill="#056860"/><polygon points="361.4,104.9 355.8,103 355.8,102.4 361.4,104.4" fill="#04655e"/><polygon points="361.4,104.9 368.8,103.4 368.8,102.9 361.4,104.4" fill="#025a55"/><polygon points="361.4,104.4 368.8,102.9 363.2,100.9 355.8,102.4" fill="#056860"/><polygon points="354,106.5 348.4,104.5 348.4,102.5 354,104.4" fill="#04655e"/><polygon points="354,106.5 361.4,104.9 361.4,102.9 354,104.4" fill="#025a55"/><polygon points="354,104.4 361.4,102.9 355.8,100.9 348.4,102.5" fill="#056860"/><polygon points="346.6,108 341,106 341,104.7 346.6,106.7" fill="#04655e"/><polygon points="346.6,108 354,106.5 354,105.2 346.6,106.7" fill="#025a55"/><polygon points="346.6,106.7 354,105.2 348.4,103.2 341,104.7" fill="#056860"/><polygon points="339.3,109.5 333.6,107.5 333.6,106.3 339.3,108.3" fill="#04655e"/><polygon points="339.3,109.5 346.6,108 346.6,106.7 339.3,108.3" fill="#025a55"/><polygon points="339.3,108.3 346.6,106.7 341,104.7 333.6,106.3" fill="#056860"/><polygon points="455.7,88.7 450,86.7 450,86.2 455.7,88.2" fill="#04655e"/><polygon points="455.7,88.7 463.1,87.2 463.1,86.7 455.7,88.2" fill="#025a55"/><polygon points="455.7,88.2 463.1,86.7 457.4,84.7 450,86.2" fill="#056860"/><polygon points="448.3,90.3 442.7,88.3 442.7,86.2 448.3,88.2" fill="#04655e"/><polygon points="448.3,90.3 455.7,88.7 455.7,86.7 448.3,88.2" fill="#025a55"/><polygon points="448.3,88.2 455.7,86.7 450,84.7 442.7,86.2" fill="#056860"/><polygon points="440.9,91.8 435.3,89.8 435.3,60.6 440.9,62.6" fill="#04655e"/><polygon points="440.9,91.8 448.3,90.3 448.3,61.1 440.9,62.6" fill="#025a55"/><polygon points="440.9,62.6 448.3,61.1 442.7,59.1 435.3,60.6" fill="#056860"/><polygon points="433.5,93.3 427.9,91.3 427.9,89.3 433.5,91.3" fill="#04655e"/><polygon points="433.5,93.3 440.9,91.8 440.9,89.8 433.5,91.3" fill="#025a55"/><polygon points="433.5,91.3 440.9,89.8 435.3,87.8 427.9,89.3" fill="#056860"/><polygon points="426.1,94.8 420.5,92.8 420.5,55.3 426.1,57.3" fill="#04655e"/><polygon points="426.1,94.8 433.5,93.3 433.5,55.8 426.1,57.3" fill="#025a55"/><polygon points="426.1,57.3 433.5,55.8 427.9,53.8 420.5,55.3" fill="#056860"/><polygon points="418.8,96.3 413.1,94.3 413.1,93.8 418.8,95.8" fill="#04655e"/><polygon points="418.8,96.3 426.1,94.8 426.1,94.3 418.8,95.8" fill="#025a55"/><polygon points="418.8,95.8 426.1,94.3 420.5,92.3 413.1,93.8" fill="#056860"/><polygon points="411.4,97.8 405.7,95.8 405.7,92.7 411.4,94.7" fill="#04655e"/><polygon points="411.4,97.8 418.8,96.3 418.8,93.2 411.4,94.7" fill="#025a55"/><polygon points="411.4,94.7 418.8,93.2 413.1,91.2 405.7,92.7" fill="#056860"/><polygon points="404,99.4 398.3,97.4 398.3,96.1 404,98.1" fill="#04655e"/><polygon points="404,99.4 411.4,97.8 411.4,96.6 404,98.1" fill="#025a55"/><polygon points="404,98.1 411.4,96.6 405.7,94.6 398.3,96.1" fill="#056860"/><polygon points="396.6,100.9 391,98.9 391,97.6 396.6,99.6" fill="#04655e"/><polygon points="396.6,100.9 404,99.4 404,98.1 396.6,99.6" fill="#025a55"/><polygon points="396.6,99.6 404,98.1 398.3,96.1 391,97.6" fill="#056860"/><polygon points="389.2,102.4 383.6,100.4 383.6,99.9 389.2,101.9" fill="#04655e"/><polygon points="389.2,102.4 396.6,100.9 396.6,100.3 389.2,101.9" fill="#025a55"/><polygon points="389.2,101.9 396.6,100.3 391,98.3 383.6,99.9" fill="#056860"/><polygon points="381.8,103.9 376.2,101.9 376.2,100.7 381.8,102.7" fill="#04655e"/><polygon points="381.8,103.9 389.2,102.4 389.2,101.2 381.8,102.7" fill="#025a55"/><polygon points="381.8,102.7 389.2,101.2 383.6,99.2 376.2,100.7" fill="#056860"/><polygon points="374.4,105.4 368.8,103.4 368.8,102.9 374.4,104.9" fill="#04655e"/><polygon points="374.4,105.4 381.8,103.9 381.8,103.4 374.4,104.9" fill="#025a55"/><polygon points="374.4,104.9 381.8,103.4 376.2,101.4 368.8,102.9" fill="#056860"/><polygon points="367.1,106.9 361.4,104.9 361.4,103.7 367.1,105.7" fill="#04655e"/><polygon points="367.1,106.9 374.4,105.4 374.4,104.2 367.1,105.7" fill="#025a55"/><polygon points="367.1,105.7 374.4,104.2 368.8,102.2 361.4,103.7" fill="#056860"/><polygon points="359.7,108.5 354,106.5 354,105.9 359.7,107.9" fill="#04655e"/><polygon points="359.7,108.5 367.1,106.9 367.1,106.4 359.7,107.9" fill="#025a55"/><polygon points="359.7,107.9 367.1,106.4 361.4,104.4 354,105.9" fill="#056860"/><polygon points="352.3,110 346.6,108 346.6,107.4 352.3,109.4" fill="#04655e"/><polygon points="352.3,110 359.7,108.5 359.7,107.9 352.3,109.4" fill="#025a55"/><polygon points="352.3,109.4 359.7,107.9 354,105.9 346.6,107.4" fill="#056860"/><polygon points="344.9,111.5 339.3,109.5 339.3,108.3 344.9,110.3" fill="#04655e"/><polygon points="344.9,111.5 352.3,110 352.3,108.7 344.9,110.3" fill="#025a55"/><polygon points="344.9,110.3 352.3,108.7 346.6,106.7 339.3,108.3" fill="#056860"/><polygon points="461.3,90.7 455.7,88.7 455.7,87.5 461.3,89.5" fill="#04655e"/><polygon points="461.3,90.7 468.7,89.2 468.7,88 461.3,89.5" fill="#025a55"/><polygon points="461.3,89.5 468.7,88 463.1,86 455.7,87.5" fill="#056860"/><polygon points="453.9,92.3 448.3,90.3 448.3,89 453.9,91" fill="#04655e"/><polygon points="453.9,92.3 461.3,90.7 461.3,89.5 453.9,91" fill="#025a55"/><polygon points="453.9,91 461.3,89.5 455.7,87.5 448.3,89" fill="#056860"/><polygon points="446.6,93.8 440.9,91.8 440.9,91.2 446.6,93.2" fill="#04655e"/><polygon points="446.6,93.8 453.9,92.3 453.9,91.7 446.6,93.2" fill="#025a55"/><polygon points="446.6,93.2 453.9,91.7 448.3,89.7 440.9,91.2" fill="#056860"/><polygon points="439.2,95.3 433.5,93.3 433.5,92.7 439.2,94.7" fill="#04655e"/><polygon points="439.2,95.3 446.6,93.8 446.6,93.2 439.2,94.7" fill="#025a55"/><polygon points="439.2,94.7 446.6,93.2 440.9,91.2 433.5,92.7" fill="#056860"/><polygon points="431.8,96.8 426.1,94.8 426.1,93.6 431.8,95.6" fill="#04655e"/><polygon points="431.8,96.8 439.2,95.3 439.2,94 431.8,95.6" fill="#025a55"/><polygon points="431.8,95.6 439.2,94 433.5,92.1 426.1,93.6" fill="#056860"/><polygon points="424.4,98.3 418.8,96.3 418.8,95.1 424.4,97.1" fill="#04655e"/><polygon points="424.4,98.3 431.8,96.8 431.8,95.6 424.4,97.1" fill="#025a55"/><polygon points="424.4,97.1 431.8,95.6 426.1,93.6 418.8,95.1" fill="#056860"/><polygon points="417,99.8 411.4,97.8 411.4,96.6 417,98.6" fill="#04655e"/><polygon points="417,99.8 424.4,98.3 424.4,97.1 417,98.6" fill="#025a55"/><polygon points="417,98.6 424.4,97.1 418.8,95.1 411.4,96.6" fill="#056860"/><polygon points="409.6,101.4 404,99.4 404,98.1 409.6,100.1" fill="#04655e"/><polygon points="409.6,101.4 417,99.8 417,98.6 409.6,100.1" fill="#025a55"/><polygon points="409.6,100.1 417,98.6 411.4,96.6 404,98.1" fill="#056860"/><polygon points="402.2,102.9 396.6,100.9 396.6,100.3 402.2,102.3" fill="#04655e"/><polygon points="402.2,102.9 409.6,101.4 409.6,100.8 402.2,102.3" fill="#025a55"/><polygon points="402.2,102.3 409.6,100.8 404,98.8 396.6,100.3" fill="#056860"/><polygon points="394.9,104.4 389.2,102.4 389.2,95.4 394.9,97.4" fill="#04655e"/><polygon points="394.9,104.4 402.2,102.9 402.2,95.9 394.9,97.4" fill="#025a55"/><polygon points="394.9,97.4 402.2,95.9 396.6,93.9 389.2,95.4" fill="#056860"/><polygon points="387.5,105.9 381.8,103.9 381.8,103.4 387.5,105.4" fill="#04655e"/><polygon points="387.5,105.9 394.9,104.4 394.9,103.8 387.5,105.4" fill="#025a55"/><polygon points="387.5,105.4 394.9,103.8 389.2,101.9 381.8,103.4" fill="#056860"/><polygon points="380.1,107.4 374.4,105.4 374.4,104.2 380.1,106.2" fill="#04655e"/><polygon points="380.1,107.4 387.5,105.9 387.5,104.7 380.1,106.2" fill="#025a55"/><polygon points="380.1,106.2 387.5,104.7 381.8,102.7 374.4,104.2" fill="#056860"/><polygon points="372.7,108.9 367.1,106.9 367.1,104.9 372.7,106.9" fill="#04655e"/><polygon points="372.7,108.9 380.1,107.4 380.1,105.4 372.7,106.9" fill="#025a55"/><polygon points="372.7,106.9 380.1,105.4 374.4,103.4 367.1,104.9" fill="#056860"/><polygon points="365.3,110.5 359.7,108.5 359.7,105.4 365.3,107.4" fill="#04655e"/><polygon points="365.3,110.5 372.7,108.9 372.7,105.8 365.3,107.4" fill="#025a55"/><polygon points="365.3,107.4 372.7,105.8 367.1,103.8 359.7,105.4" fill="#056860"/><polygon points="357.9,112 352.3,110 352.3,109.4 357.9,111.4" fill="#04655e"/><polygon points="357.9,112 365.3,110.5 365.3,109.9 357.9,111.4" fill="#025a55"/><polygon points="357.9,111.4 365.3,109.9 359.7,107.9 352.3,109.4" fill="#056860"/><polygon points="350.5,113.5 344.9,111.5 344.9,110.3 350.5,112.3" fill="#04655e"/><polygon points="350.5,113.5 357.9,112 357.9,110.7 350.5,112.3" fill="#025a55"/><polygon points="350.5,112.3 357.9,110.7 352.3,108.7 344.9,110.3" fill="#056860"/><polygon points="467,92.7 461.3,90.7 461.3,90.2 467,92.2" fill="#04655e"/><polygon points="467,92.7 474.3,91.2 474.3,90.7 467,92.2" fill="#025a55"/><polygon points="467,92.2 474.3,90.7 468.7,88.7 461.3,90.2" fill="#056860"/><polygon points="459.6,94.3 453.9,92.3 453.9,91.7 459.6,93.7" fill="#04655e"/><polygon points="459.6,94.3 467,92.7 467,92.2 459.6,93.7" fill="#025a55"/><polygon points="459.6,93.7 467,92.2 461.3,90.2 453.9,91.7" fill="#056860"/><polygon points="452.2,95.8 446.6,93.8 446.6,90.7 452.2,92.7" fill="#04655e"/><polygon points="452.2,95.8 459.6,94.3 459.6,91.2 452.2,92.7" fill="#025a55"/><polygon points="452.2,92.7 459.6,91.2 453.9,89.2 446.6,90.7" fill="#056860"/><polygon points="444.8,97.3 439.2,95.3 439.2,94 444.8,96" fill="#04655e"/><polygon points="444.8,97.3 452.2,95.8 452.2,94.5 444.8,96" fill="#025a55"/><polygon points="444.8,96 452.2,94.5 446.6,92.5 439.2,94" fill="#056860"/><polygon points="437.4,98.8 431.8,96.8 431.8,94.8 437.4,96.8" fill="#04655e"/><polygon points="437.4,98.8 444.8,97.3 444.8,95.3 437.4,96.8" fill="#025a55"/><polygon points="437.4,96.8 444.8,95.3 439.2,93.3 431.8,94.8" fill="#056860"/><polygon points="430,100.3 424.4,98.3 424.4,97.8 430,99.8" fill="#04655e"/><polygon points="430,100.3 437.4,98.8 437.4,98.3 430,99.8" fill="#025a55"/><polygon points="430,99.8 437.4,98.3 431.8,96.3 424.4,97.8" fill="#056860"/><polygon points="422.6,101.8 417,99.8 417,98.6 422.6,100.6" fill="#04655e"/><polygon points="422.6,101.8 430,100.3 430,99.1 422.6,100.6" fill="#025a55"/><polygon points="422.6,100.6 430,99.1 424.4,97.1 417,98.6" fill="#056860"/><polygon points="415.3,103.4 409.6,101.4 409.6,100.8 415.3,102.8" fill="#04655e"/><polygon points="415.3,103.4 422.6,101.8 422.6,101.3 415.3,102.8" fill="#025a55"/><polygon points="415.3,102.8 422.6,101.3 417,99.3 409.6,100.8" fill="#056860"/><polygon points="407.9,104.9 402.2,102.9 402.2,101.6 407.9,103.6" fill="#04655e"/><polygon points="407.9,104.9 415.3,103.4 415.3,102.1 407.9,103.6" fill="#025a55"/><polygon points="407.9,103.6 415.3,102.1 409.6,100.1 402.2,101.6" fill="#056860"/><polygon points="400.5,106.4 394.9,104.4 394.9,102.4 400.5,104.4" fill="#04655e"/><polygon points="400.5,106.4 407.9,104.9 407.9,102.9 400.5,104.4" fill="#025a55"/><polygon points="400.5,104.4 407.9,102.9 402.2,100.9 394.9,102.4" fill="#056860"/><polygon points="393.1,107.9 387.5,105.9 387.5,103.9 393.1,105.9" fill="#04655e"/><polygon points="393.1,107.9 400.5,106.4 400.5,104.4 393.1,105.9" fill="#025a55"/><polygon points="393.1,105.9 400.5,104.4 394.9,102.4 387.5,103.9" fill="#056860"/><polygon points="385.7,109.4 380.1,107.4 380.1,106.2 385.7,108.2" fill="#04655e"/><polygon points="385.7,109.4 393.1,107.9 393.1,106.7 385.7,108.2" fill="#025a55"/><polygon points="385.7,108.2 393.1,106.7 387.5,104.7 380.1,106.2" fill="#056860"/><polygon points="378.3,110.9 372.7,108.9 372.7,105.8 378.3,107.8" fill="#04655e"/><polygon points="378.3,110.9 385.7,109.4 385.7,106.3 378.3,107.8" fill="#025a55"/><polygon points="378.3,107.8 385.7,106.3 380.1,104.3 372.7,105.8" fill="#056860"/><polygon points="370.9,112.5 365.3,110.5 365.3,107.4 370.9,109.4" fill="#04655e"/><polygon points="370.9,112.5 378.3,110.9 378.3,107.8 370.9,109.4" fill="#025a55"/><polygon points="370.9,109.4 378.3,107.8 372.7,105.8 365.3,107.4" fill="#056860"/><polygon points="363.6,114 357.9,112 357.9,110.7 363.6,112.7" fill="#04655e"/><polygon points="363.6,114 370.9,112.5 370.9,111.2 363.6,112.7" fill="#025a55"/><polygon points="363.6,112.7 370.9,111.2 365.3,109.2 357.9,110.7" fill="#056860"/><polygon points="356.2,115.5 350.5,113.5 350.5,112.9 356.2,114.9" fill="#04655e"/><polygon points="356.2,115.5 363.6,114 363.6,113.4 356.2,114.9" fill="#025a55"/><polygon points="356.2,114.9 363.6,113.4 357.9,111.4 350.5,112.9" fill="#056860"/><polygon points="472.6,94.7 467,92.7 467,92.2 472.6,94.2" fill="#04655e"/><polygon points="472.6,94.7 480,93.2 480,92.7 472.6,94.2" fill="#025a55"/><polygon points="472.6,94.2 480,92.7 474.3,90.7 467,92.2" fill="#056860"/><polygon points="465.2,96.2 459.6,94.3 459.6,92.2 465.2,94.2" fill="#04655e"/><polygon points="465.2,96.2 472.6,94.7 472.6,92.7 465.2,94.2" fill="#025a55"/><polygon points="465.2,94.2 472.6,92.7 467,90.7 459.6,92.2" fill="#056860"/><polygon points="457.8,97.8 452.2,95.8 452.2,94.5 457.8,96.5" fill="#04655e"/><polygon points="457.8,97.8 465.2,96.2 465.2,95 457.8,96.5" fill="#025a55"/><polygon points="457.8,96.5 465.2,95 459.6,93 452.2,94.5" fill="#056860"/><polygon points="450.4,99.3 444.8,97.3 444.8,94.2 450.4,96.2" fill="#04655e"/><polygon points="450.4,99.3 457.8,97.8 457.8,94.7 450.4,96.2" fill="#025a55"/><polygon points="450.4,96.2 457.8,94.7 452.2,92.7 444.8,94.2" fill="#056860"/><polygon points="443.1,100.8 437.4,98.8 437.4,95.7 443.1,97.7" fill="#04655e"/><polygon points="443.1,100.8 450.4,99.3 450.4,96.2 443.1,97.7" fill="#025a55"/><polygon points="443.1,97.7 450.4,96.2 444.8,94.2 437.4,95.7" fill="#056860"/><polygon points="435.7,102.3 430,100.3 430,99.8 435.7,101.8" fill="#04655e"/><polygon points="435.7,102.3 443.1,100.8 443.1,100.3 435.7,101.8" fill="#025a55"/><polygon points="435.7,101.8 443.1,100.3 437.4,98.3 430,99.8" fill="#056860"/><polygon points="428.3,103.8 422.6,101.8 422.6,101.3 428.3,103.3" fill="#04655e"/><polygon points="428.3,103.8 435.7,102.3 435.7,101.8 428.3,103.3" fill="#025a55"/><polygon points="428.3,103.3 435.7,101.8 430,99.8 422.6,101.3" fill="#056860"/><polygon points="420.9,105.4 415.3,103.4 415.3,101.3 420.9,103.3" fill="#04655e"/><polygon points="420.9,105.4 428.3,103.8 428.3,101.8 420.9,103.3" fill="#025a55"/><polygon points="420.9,103.3 428.3,101.8 422.6,99.8 415.3,101.3" fill="#056860"/><polygon points="413.5,106.9 407.9,104.9 407.9,104.3 413.5,106.3" fill="#04655e"/><polygon points="413.5,106.9 420.9,105.4 420.9,104.8 413.5,106.3" fill="#025a55"/><polygon points="413.5,106.3 420.9,104.8 415.3,102.8 407.9,104.3" fill="#056860"/><polygon points="406.1,108.4 400.5,106.4 400.5,105.8 406.1,107.8" fill="#04655e"/><polygon points="406.1,108.4 413.5,106.9 413.5,106.3 406.1,107.8" fill="#025a55"/><polygon points="406.1,107.8 413.5,106.3 407.9,104.3 400.5,105.8" fill="#056860"/><polygon points="398.7,109.9 393.1,107.9 393.1,107.4 398.7,109.4" fill="#04655e"/><polygon points="398.7,109.9 406.1,108.4 406.1,107.8 398.7,109.4" fill="#025a55"/><polygon points="398.7,109.4 406.1,107.8 400.5,105.8 393.1,107.4" fill="#056860"/><polygon points="391.4,111.4 385.7,109.4 385.7,108.2 391.4,110.2" fill="#04655e"/><polygon points="391.4,111.4 398.7,109.9 398.7,108.7 391.4,110.2" fill="#025a55"/><polygon points="391.4,110.2 398.7,108.7 393.1,106.7 385.7,108.2" fill="#056860"/><polygon points="384,112.9 378.3,110.9 378.3,109.7 384,111.7" fill="#04655e"/><polygon points="384,112.9 391.4,111.4 391.4,110.2 384,111.7" fill="#025a55"/><polygon points="384,111.7 391.4,110.2 385.7,108.2 378.3,109.7" fill="#056860"/><polygon points="376.6,114.5 370.9,112.5 370.9,111.2 376.6,113.2" fill="#04655e"/><polygon points="376.6,114.5 384,112.9 384,111.7 376.6,113.2" fill="#025a55"/><polygon points="376.6,113.2 384,111.7 378.3,109.7 370.9,111.2" fill="#056860"/><polygon points="369.2,116 363.6,114 363.6,112.7 369.2,114.7" fill="#04655e"/><polygon points="369.2,116 376.6,114.5 376.6,113.2 369.2,114.7" fill="#025a55"/><polygon points="369.2,114.7 376.6,113.2 370.9,111.2 363.6,112.7" fill="#056860"/><polygon points="361.8,117.5 356.2,115.5 356.2,114.2 361.8,116.2" fill="#04655e"/><polygon points="361.8,117.5 369.2,116 369.2,114.7 361.8,116.2" fill="#025a55"/><polygon points="361.8,116.2 369.2,114.7 363.6,112.7 356.2,114.2" fill="#056860"/><polygon points="478.2,96.7 472.6,94.7 472.6,93.5 478.2,95.5" fill="#04655e"/><polygon points="478.2,96.7 485.6,95.2 485.6,94 478.2,95.5" fill="#025a55"/><polygon points="478.2,95.5 485.6,94 480,92 472.6,93.5" fill="#056860"/><polygon points="470.9,98.2 465.2,96.2 465.2,93.1 470.9,95.1" fill="#04655e"/><polygon points="470.9,98.2 478.2,96.7 478.2,93.6 470.9,95.1" fill="#025a55"/><polygon points="470.9,95.1 478.2,93.6 472.6,91.6 465.2,93.1" fill="#056860"/><polygon points="463.5,99.8 457.8,97.8 457.8,97.2 463.5,99.2" fill="#04655e"/><polygon points="463.5,99.8 470.9,98.2 470.9,97.7 463.5,99.2" fill="#025a55"/><polygon points="463.5,99.2 470.9,97.7 465.2,95.7 457.8,97.2" fill="#056860"/><polygon points="456.1,101.3 450.4,99.3 450.4,98.7 456.1,100.7" fill="#04655e"/><polygon points="456.1,101.3 463.5,99.8 463.5,99.2 456.1,100.7" fill="#025a55"/><polygon points="456.1,100.7 463.5,99.2 457.8,97.2 450.4,98.7" fill="#056860"/><polygon points="448.7,102.8 443.1,100.8 443.1,98.8 448.7,100.8" fill="#04655e"/><polygon points="448.7,102.8 456.1,101.3 456.1,99.3 448.7,100.8" fill="#025a55"/><polygon points="448.7,100.8 456.1,99.3 450.4,97.3 443.1,98.8" fill="#056860"/><polygon points="441.3,104.3 435.7,102.3 435.7,101.1 441.3,103.1" fill="#04655e"/><polygon points="441.3,104.3 448.7,102.8 448.7,101.6 441.3,103.1" fill="#025a55"/><polygon points="441.3,103.1 448.7,101.6 443.1,99.6 435.7,101.1" fill="#056860"/><polygon points="433.9,105.8 428.3,103.8 428.3,103.3 433.9,105.3" fill="#04655e"/><polygon points="433.9,105.8 441.3,104.3 441.3,103.8 433.9,105.3" fill="#025a55"/><polygon points="433.9,105.3 441.3,103.8 435.7,101.8 428.3,103.3" fill="#056860"/><polygon points="426.5,107.3 420.9,105.4 420.9,104.1 426.5,106.1" fill="#04655e"/><polygon points="426.5,107.3 433.9,105.8 433.9,104.6 426.5,106.1" fill="#025a55"/><polygon points="426.5,106.1 433.9,104.6 428.3,102.6 420.9,104.1" fill="#056860"/><polygon points="419.2,108.9 413.5,106.9 413.5,104.9 419.2,106.8" fill="#04655e"/><polygon points="419.2,108.9 426.5,107.3 426.5,105.3 419.2,106.8" fill="#025a55"/><polygon points="419.2,106.8 426.5,105.3 420.9,103.3 413.5,104.9" fill="#056860"/><polygon points="411.8,110.4 406.1,108.4 406.1,105.3 411.8,107.3" fill="#04655e"/><polygon points="411.8,110.4 419.2,108.9 419.2,105.8 411.8,107.3" fill="#025a55"/><polygon points="411.8,107.3 419.2,105.8 413.5,103.8 406.1,105.3" fill="#056860"/><polygon points="404.4,111.9 398.7,109.9 398.7,109.4 404.4,111.4" fill="#04655e"/><polygon points="404.4,111.9 411.8,110.4 411.8,109.8 404.4,111.4" fill="#025a55"/><polygon points="404.4,111.4 411.8,109.8 406.1,107.8 398.7,109.4" fill="#056860"/><polygon points="397,113.4 391.4,111.4 391.4,110.2 397,112.2" fill="#04655e"/><polygon points="397,113.4 404.4,111.9 404.4,110.7 397,112.2" fill="#025a55"/><polygon points="397,112.2 404.4,110.7 398.7,108.7 391.4,110.2" fill="#056860"/><polygon points="389.6,114.9 384,112.9 384,111.7 389.6,113.7" fill="#04655e"/><polygon points="389.6,114.9 397,113.4 397,112.2 389.6,113.7" fill="#025a55"/><polygon points="389.6,113.7 397,112.2 391.4,110.2 384,111.7" fill="#056860"/><polygon points="382.2,116.4 376.6,114.5 376.6,112.4 382.2,114.4" fill="#04655e"/><polygon points="382.2,116.4 389.6,114.9 389.6,112.9 382.2,114.4" fill="#025a55"/><polygon points="382.2,114.4 389.6,112.9 384,110.9 376.6,112.4" fill="#056860"/><polygon points="374.8,118 369.2,116 369.2,114 374.8,116" fill="#04655e"/><polygon points="374.8,118 382.2,116.4 382.2,114.4 374.8,116" fill="#025a55"/><polygon points="374.8,116 382.2,114.4 376.6,112.4 369.2,114" fill="#056860"/><polygon points="367.5,119.5 361.8,117.5 361.8,116.2 367.5,118.2" fill="#04655e"/><polygon points="367.5,119.5 374.8,118 374.8,116.7 367.5,118.2" fill="#025a55"/><polygon points="367.5,118.2 374.8,116.7 369.2,114.7 361.8,116.2" fill="#056860"/><polygon points="483.9,98.7 478.2,96.7 478.2,95.5 483.9,97.5" fill="#04655e"/><polygon points="483.9,98.7 491.3,97.2 491.3,96 483.9,97.5" fill="#025a55"/><polygon points="483.9,97.5 491.3,96 485.6,94 478.2,95.5" fill="#056860"/><polygon points="476.5,100.2 470.9,98.2 470.9,97 476.5,99" fill="#04655e"/><polygon points="476.5,100.2 483.9,98.7 483.9,97.5 476.5,99" fill="#025a55"/><polygon points="476.5,99 483.9,97.5 478.2,95.5 470.9,97" fill="#056860"/><polygon points="469.1,101.8 463.5,99.8 463.5,99.2 469.1,101.2" fill="#04655e"/><polygon points="469.1,101.8 476.5,100.2 476.5,99.7 469.1,101.2" fill="#025a55"/><polygon points="469.1,101.2 476.5,99.7 470.9,97.7 463.5,99.2" fill="#056860"/><polygon points="461.7,103.3 456.1,101.3 456.1,100 461.7,102" fill="#04655e"/><polygon points="461.7,103.3 469.1,101.8 469.1,100.5 461.7,102" fill="#025a55"/><polygon points="461.7,102 469.1,100.5 463.5,98.5 456.1,100" fill="#056860"/><polygon points="454.3,104.8 448.7,102.8 448.7,102.3 454.3,104.3" fill="#04655e"/><polygon points="454.3,104.8 461.7,103.3 461.7,102.7 454.3,104.3" fill="#025a55"/><polygon points="454.3,104.3 461.7,102.7 456.1,100.7 448.7,102.3" fill="#056860"/><polygon points="447,106.3 441.3,104.3 441.3,103.1 447,105.1" fill="#04655e"/><polygon points="447,106.3 454.3,104.8 454.3,103.6 447,105.1" fill="#025a55"/><polygon points="447,105.1 454.3,103.6 448.7,101.6 441.3,103.1" fill="#056860"/><polygon points="439.6,107.8 433.9,105.8 433.9,105.3 439.6,107.3" fill="#04655e"/><polygon points="439.6,107.8 447,106.3 447,105.8 439.6,107.3" fill="#025a55"/><polygon points="439.6,107.3 447,105.8 441.3,103.8 433.9,105.3" fill="#056860"/><polygon points="432.2,109.3 426.5,107.3 426.5,106.8 432.2,108.8" fill="#04655e"/><polygon points="432.2,109.3 439.6,107.8 439.6,107.3 432.2,108.8" fill="#025a55"/><polygon points="432.2,108.8 439.6,107.3 433.9,105.3 426.5,106.8" fill="#056860"/><polygon points="424.8,110.9 419.2,108.9 419.2,107.6 424.8,109.6" fill="#04655e"/><polygon points="424.8,110.9 432.2,109.3 432.2,108.1 424.8,109.6" fill="#025a55"/><polygon points="424.8,109.6 432.2,108.1 426.5,106.1 419.2,107.6" fill="#056860"/><polygon points="417.4,112.4 411.8,110.4 411.8,109.8 417.4,111.8" fill="#04655e"/><polygon points="417.4,112.4 424.8,110.9 424.8,110.3 417.4,111.8" fill="#025a55"/><polygon points="417.4,111.8 424.8,110.3 419.2,108.3 411.8,109.8" fill="#056860"/><polygon points="410,113.9 404.4,111.9 404.4,110.7 410,112.7" fill="#04655e"/><polygon points="410,113.9 417.4,112.4 417.4,111.1 410,112.7" fill="#025a55"/><polygon points="410,112.7 417.4,111.1 411.8,109.1 404.4,110.7" fill="#056860"/><polygon points="402.6,115.4 397,113.4 397,112.2 402.6,114.2" fill="#04655e"/><polygon points="402.6,115.4 410,113.9 410,112.7 402.6,114.2" fill="#025a55"/><polygon points="402.6,114.2 410,112.7 404.4,110.7 397,112.2" fill="#056860"/><polygon points="395.3,116.9 389.6,114.9 389.6,112.9 395.3,114.9" fill="#04655e"/><polygon points="395.3,116.9 402.6,115.4 402.6,113.4 395.3,114.9" fill="#025a55"/><polygon points="395.3,114.9 402.6,113.4 397,111.4 389.6,112.9" fill="#056860"/><polygon points="387.9,118.4 382.2,116.4 382.2,114.4 387.9,116.4" fill="#04655e"/><polygon points="387.9,118.4 395.3,116.9 395.3,114.9 387.9,116.4" fill="#025a55"/><polygon points="387.9,116.4 395.3,114.9 389.6,112.9 382.2,114.4" fill="#056860"/><polygon points="380.5,120 374.8,118 374.8,116.7 380.5,118.7" fill="#04655e"/><polygon points="380.5,120 387.9,118.4 387.9,117.2 380.5,118.7" fill="#025a55"/><polygon points="380.5,118.7 387.9,117.2 382.2,115.2 374.8,116.7" fill="#056860"/><polygon points="373.1,121.5 367.5,119.5 367.5,118.2 373.1,120.2" fill="#04655e"/><polygon points="373.1,121.5 380.5,120 380.5,118.7 373.1,120.2" fill="#025a55"/><polygon points="373.1,120.2 380.5,118.7 374.8,116.7 367.5,118.2" fill="#056860"/><polygon points="489.5,100.7 483.9,98.7 483.9,97.5 489.5,99.5" fill="#04655e"/><polygon points="489.5,100.7 496.9,99.2 496.9,98 489.5,99.5" fill="#025a55"/><polygon points="489.5,99.5 496.9,98 491.3,96 483.9,97.5" fill="#056860"/><polygon points="482.1,102.2 476.5,100.2 476.5,98.2 482.1,100.2" fill="#04655e"/><polygon points="482.1,102.2 489.5,100.7 489.5,98.7 482.1,100.2" fill="#025a55"/><polygon points="482.1,100.2 489.5,98.7 483.9,96.7 476.5,98.2" fill="#056860"/><polygon points="474.7,103.8 469.1,101.8 469.1,100.5 474.7,102.5" fill="#04655e"/><polygon points="474.7,103.8 482.1,102.2 482.1,101 474.7,102.5" fill="#025a55"/><polygon points="474.7,102.5 482.1,101 476.5,99 469.1,100.5" fill="#056860"/><polygon points="467.4,105.3 461.7,103.3 461.7,97.7 467.4,99.7" fill="#04655e"/><polygon points="467.4,105.3 474.7,103.8 474.7,98.2 467.4,99.7" fill="#025a55"/><polygon points="467.4,99.7 474.7,98.2 469.1,96.2 461.7,97.7" fill="#056860"/><polygon points="460,106.8 454.3,104.8 454.3,103.6 460,105.6" fill="#04655e"/><polygon points="460,106.8 467.4,105.3 467.4,104 460,105.6" fill="#025a55"/><polygon points="460,105.6 467.4,104 461.7,102 454.3,103.6" fill="#056860"/><polygon points="452.6,108.3 447,106.3 447,105.8 452.6,107.8" fill="#04655e"/><polygon points="452.6,108.3 460,106.8 460,106.2 452.6,107.8" fill="#025a55"/><polygon points="452.6,107.8 460,106.2 454.3,104.3 447,105.8" fill="#056860"/><polygon points="445.2,109.8 439.6,107.8 439.6,107.3 445.2,109.3" fill="#04655e"/><polygon points="445.2,109.8 452.6,108.3 452.6,107.8 445.2,109.3" fill="#025a55"/><polygon points="445.2,109.3 452.6,107.8 447,105.8 439.6,107.3" fill="#056860"/><polygon points="437.8,111.3 432.2,109.3 432.2,108.1 437.8,110.1" fill="#04655e"/><polygon points="437.8,111.3 445.2,109.8 445.2,108.6 437.8,110.1" fill="#025a55"/><polygon points="437.8,110.1 445.2,108.6 439.6,106.6 432.2,108.1" fill="#056860"/><polygon points="430.4,112.9 424.8,110.9 424.8,109.6 430.4,111.6" fill="#04655e"/><polygon points="430.4,112.9 437.8,111.3 437.8,110.1 430.4,111.6" fill="#025a55"/><polygon points="430.4,111.6 437.8,110.1 432.2,108.1 424.8,109.6" fill="#056860"/><polygon points="423,114.4 417.4,112.4 417.4,111.1 423,113.1" fill="#04655e"/><polygon points="423,114.4 430.4,112.9 430.4,111.6 423,113.1" fill="#025a55"/><polygon points="423,113.1 430.4,111.6 424.8,109.6 417.4,111.1" fill="#056860"/><polygon points="415.7,115.9 410,113.9 410,113.4 415.7,115.4" fill="#04655e"/><polygon points="415.7,115.9 423,114.4 423,113.8 415.7,115.4" fill="#025a55"/><polygon points="415.7,115.4 423,113.8 417.4,111.8 410,113.4" fill="#056860"/><polygon points="408.3,117.4 402.6,115.4 402.6,113.4 408.3,115.4" fill="#04655e"/><polygon points="408.3,117.4 415.7,115.9 415.7,113.9 408.3,115.4" fill="#025a55"/><polygon points="408.3,115.4 415.7,113.9 410,111.9 402.6,113.4" fill="#056860"/><polygon points="400.9,118.9 395.3,116.9 395.3,114.9 400.9,116.9" fill="#04655e"/><polygon points="400.9,118.9 408.3,117.4 408.3,115.4 400.9,116.9" fill="#025a55"/><polygon points="400.9,116.9 408.3,115.4 402.6,113.4 395.3,114.9" fill="#056860"/><polygon points="393.5,120.4 387.9,118.4 387.9,116.4 393.5,118.4" fill="#04655e"/><polygon points="393.5,120.4 400.9,118.9 400.9,116.9 393.5,118.4" fill="#025a55"/><polygon points="393.5,118.4 400.9,116.9 395.3,114.9 387.9,116.4" fill="#056860"/><polygon points="386.1,122 380.5,120 380.5,118.7 386.1,120.7" fill="#04655e"/><polygon points="386.1,122 393.5,120.4 393.5,119.2 386.1,120.7" fill="#025a55"/><polygon points="386.1,120.7 393.5,119.2 387.9,117.2 380.5,118.7" fill="#056860"/><polygon points="378.7,123.5 373.1,121.5 373.1,120.2 378.7,122.2" fill="#04655e"/><polygon points="378.7,123.5 386.1,122 386.1,120.7 378.7,122.2" fill="#025a55"/><polygon points="378.7,122.2 386.1,120.7 380.5,118.7 373.1,120.2" fill="#056860"/><polygon points="495.2,102.7 489.5,100.7 489.5,99.5 495.2,101.5" fill="#04655e"/><polygon points="495.2,102.7 502.5,101.2 502.5,100 495.2,101.5" fill="#025a55"/><polygon points="495.2,101.5 502.5,100 496.9,98 489.5,99.5" fill="#056860"/><polygon points="487.8,104.2 482.1,102.2 482.1,101.7 487.8,103.7" fill="#04655e"/><polygon points="487.8,104.2 495.2,102.7 495.2,102.2 487.8,103.7" fill="#025a55"/><polygon points="487.8,103.7 495.2,102.2 489.5,100.2 482.1,101.7" fill="#056860"/><polygon points="480.4,105.8 474.7,103.8 474.7,103.2 480.4,105.2" fill="#04655e"/><polygon points="480.4,105.8 487.8,104.2 487.8,103.7 480.4,105.2" fill="#025a55"/><polygon points="480.4,105.2 487.8,103.7 482.1,101.7 474.7,103.2" fill="#056860"/><polygon points="473,107.3 467.4,105.3 467.4,104 473,106" fill="#04655e"/><polygon points="473,107.3 480.4,105.8 480.4,104.5 473,106" fill="#025a55"/><polygon points="473,106 480.4,104.5 474.7,102.5 467.4,104" fill="#056860"/><polygon points="465.6,108.8 460,106.8 460,105.6 465.6,107.5" fill="#04655e"/><polygon points="465.6,108.8 473,107.3 473,106 465.6,107.5" fill="#025a55"/><polygon points="465.6,107.5 473,106 467.4,104 460,105.6" fill="#056860"/><polygon points="458.2,110.3 452.6,108.3 452.6,106.3 458.2,108.3" fill="#04655e"/><polygon points="458.2,110.3 465.6,108.8 465.6,106.8 458.2,108.3" fill="#025a55"/><polygon points="458.2,108.3 465.6,106.8 460,104.8 452.6,106.3" fill="#056860"/><polygon points="450.8,111.8 445.2,109.8 445.2,109.3 450.8,111.3" fill="#04655e"/><polygon points="450.8,111.8 458.2,110.3 458.2,109.8 450.8,111.3" fill="#025a55"/><polygon points="450.8,111.3 458.2,109.8 452.6,107.8 445.2,109.3" fill="#056860"/><polygon points="443.5,113.3 437.8,111.3 437.8,110.1 443.5,112.1" fill="#04655e"/><polygon points="443.5,113.3 450.8,111.8 450.8,110.6 443.5,112.1" fill="#025a55"/><polygon points="443.5,112.1 450.8,110.6 445.2,108.6 437.8,110.1" fill="#056860"/><polygon points="436.1,114.9 430.4,112.9 430.4,112.3 436.1,114.3" fill="#04655e"/><polygon points="436.1,114.9 443.5,113.3 443.5,112.8 436.1,114.3" fill="#025a55"/><polygon points="436.1,114.3 443.5,112.8 437.8,110.8 430.4,112.3" fill="#056860"/><polygon points="428.7,116.4 423,114.4 423,113.8 428.7,115.8" fill="#04655e"/><polygon points="428.7,116.4 436.1,114.9 436.1,114.3 428.7,115.8" fill="#025a55"/><polygon points="428.7,115.8 436.1,114.3 430.4,112.3 423,113.8" fill="#056860"/><polygon points="421.3,117.9 415.7,115.9 415.7,113.9 421.3,115.9" fill="#04655e"/><polygon points="421.3,117.9 428.7,116.4 428.7,114.4 421.3,115.9" fill="#025a55"/><polygon points="421.3,115.9 428.7,114.4 423,112.4 415.7,113.9" fill="#056860"/><polygon points="413.9,119.4 408.3,117.4 408.3,114.3 413.9,116.3" fill="#04655e"/><polygon points="413.9,119.4 421.3,117.9 421.3,114.8 413.9,116.3" fill="#025a55"/><polygon points="413.9,116.3 421.3,114.8 415.7,112.8 408.3,114.3" fill="#056860"/><polygon points="406.5,120.9 400.9,118.9 400.9,117.7 406.5,119.7" fill="#04655e"/><polygon points="406.5,120.9 413.9,119.4 413.9,118.2 406.5,119.7" fill="#025a55"/><polygon points="406.5,119.7 413.9,118.2 408.3,116.2 400.9,117.7" fill="#056860"/><polygon points="399.1,122.4 393.5,120.4 393.5,118.4 399.1,120.4" fill="#04655e"/><polygon points="399.1,122.4 406.5,120.9 406.5,118.9 399.1,120.4" fill="#025a55"/><polygon points="399.1,120.4 406.5,118.9 400.9,116.9 393.5,118.4" fill="#056860"/><polygon points="391.8,124 386.1,122 386.1,120.7 391.8,122.7" fill="#04655e"/><polygon points="391.8,124 399.1,122.4 399.1,121.2 391.8,122.7" fill="#025a55"/><polygon points="391.8,122.7 399.1,121.2 393.5,119.2 386.1,120.7" fill="#056860"/><polygon points="384.4,125.5 378.7,123.5 378.7,122.2 384.4,124.2" fill="#04655e"/><polygon points="384.4,125.5 391.8,124 391.8,122.7 384.4,124.2" fill="#025a55"/><polygon points="384.4,124.2 391.8,122.7 386.1,120.7 378.7,122.2" fill="#056860"/><polygon points="500.8,104.7 495.2,102.7 495.2,101.5 500.8,103.5" fill="#04655e"/><polygon points="500.8,104.7 508.2,103.2 508.2,102 500.8,103.5" fill="#025a55"/><polygon points="500.8,103.5 508.2,102 502.5,100 495.2,101.5" fill="#056860"/><polygon points="493.4,106.2 487.8,104.2 487.8,103.7 493.4,105.7" fill="#04655e"/><polygon points="493.4,106.2 500.8,104.7 500.8,104.2 493.4,105.7" fill="#025a55"/><polygon points="493.4,105.7 500.8,104.2 495.2,102.2 487.8,103.7" fill="#056860"/><polygon points="486,107.8 480.4,105.8 480.4,104.5 486,106.5" fill="#04655e"/><polygon points="486,107.8 493.4,106.2 493.4,105 486,106.5" fill="#025a55"/><polygon points="486,106.5 493.4,105 487.8,103 480.4,104.5" fill="#056860"/><polygon points="478.6,109.3 473,107.3 473,106 478.6,108" fill="#04655e"/><polygon points="478.6,109.3 486,107.8 486,106.5 478.6,108" fill="#025a55"/><polygon points="478.6,108 486,106.5 480.4,104.5 473,106" fill="#056860"/><polygon points="471.3,110.8 465.6,108.8 465.6,107.5 471.3,109.5" fill="#04655e"/><polygon points="471.3,110.8 478.6,109.3 478.6,108 471.3,109.5" fill="#025a55"/><polygon points="471.3,109.5 478.6,108 473,106 465.6,107.5" fill="#056860"/><polygon points="463.9,112.3 458.2,110.3 458.2,108.3 463.9,110.3" fill="#04655e"/><polygon points="463.9,112.3 471.3,110.8 471.3,108.8 463.9,110.3" fill="#025a55"/><polygon points="463.9,110.3 471.3,108.8 465.6,106.8 458.2,108.3" fill="#056860"/><polygon points="456.5,113.8 450.8,111.8 450.8,110.6 456.5,112.6" fill="#04655e"/><polygon points="456.5,113.8 463.9,112.3 463.9,111.1 456.5,112.6" fill="#025a55"/><polygon points="456.5,112.6 463.9,111.1 458.2,109.1 450.8,110.6" fill="#056860"/><polygon points="449.1,115.3 443.5,113.3 443.5,112.8 449.1,114.8" fill="#04655e"/><polygon points="449.1,115.3 456.5,113.8 456.5,113.3 449.1,114.8" fill="#025a55"/><polygon points="449.1,114.8 456.5,113.3 450.8,111.3 443.5,112.8" fill="#056860"/><polygon points="441.7,116.9 436.1,114.9 436.1,114.3 441.7,116.3" fill="#04655e"/><polygon points="441.7,116.9 449.1,115.3 449.1,114.8 441.7,116.3" fill="#025a55"/><polygon points="441.7,116.3 449.1,114.8 443.5,112.8 436.1,114.3" fill="#056860"/><polygon points="434.3,118.4 428.7,116.4 428.7,115.1 434.3,117.1" fill="#04655e"/><polygon points="434.3,118.4 441.7,116.9 441.7,115.6 434.3,117.1" fill="#025a55"/><polygon points="434.3,117.1 441.7,115.6 436.1,113.6 428.7,115.1" fill="#056860"/><polygon points="426.9,119.9 421.3,117.9 421.3,117.3 426.9,119.3" fill="#04655e"/><polygon points="426.9,119.9 434.3,118.4 434.3,117.8 426.9,119.3" fill="#025a55"/><polygon points="426.9,119.3 434.3,117.8 428.7,115.8 421.3,117.3" fill="#056860"/><polygon points="419.6,121.4 413.9,119.4 413.9,118.2 419.6,120.2" fill="#04655e"/><polygon points="419.6,121.4 426.9,119.9 426.9,118.6 419.6,120.2" fill="#025a55"/><polygon points="419.6,120.2 426.9,118.6 421.3,116.6 413.9,118.2" fill="#056860"/><polygon points="412.2,122.9 406.5,120.9 406.5,118.9 412.2,120.9" fill="#04655e"/><polygon points="412.2,122.9 419.6,121.4 419.6,119.4 412.2,120.9" fill="#025a55"/><polygon points="412.2,120.9 419.6,119.4 413.9,117.4 406.5,118.9" fill="#056860"/><polygon points="404.8,124.4 399.1,122.4 399.1,120.4 404.8,122.4" fill="#04655e"/><polygon points="404.8,124.4 412.2,122.9 412.2,120.9 404.8,122.4" fill="#025a55"/><polygon points="404.8,122.4 412.2,120.9 406.5,118.9 399.1,120.4" fill="#056860"/><polygon points="397.4,126 391.8,124 391.8,123.4 397.4,125.4" fill="#04655e"/><polygon points="397.4,126 404.8,124.4 404.8,123.9 397.4,125.4" fill="#025a55"/><polygon points="397.4,125.4 404.8,123.9 399.1,121.9 391.8,123.4" fill="#056860"/><polygon points="390,127.5 384.4,125.5 384.4,124.2 390,126.2" fill="#04655e"/><polygon points="390,127.5 397.4,126 397.4,124.7 390,126.2" fill="#025a55"/><polygon points="390,126.2 397.4,124.7 391.8,122.7 384.4,124.2" fill="#056860"/><polygon points="506.4,106.7 500.8,104.7 500.8,103.5 506.4,105.5" fill="#04655e"/><polygon points="506.4,106.7 513.8,105.2 513.8,104 506.4,105.5" fill="#025a55"/><polygon points="506.4,105.5 513.8,104 508.2,102 500.8,103.5" fill="#056860"/><polygon points="499,108.2 493.4,106.2 493.4,105.7 499,107.7" fill="#04655e"/><polygon points="499,108.2 506.4,106.7 506.4,106.2 499,107.7" fill="#025a55"/><polygon points="499,107.7 506.4,106.2 500.8,104.2 493.4,105.7" fill="#056860"/><polygon points="491.7,109.7 486,107.8 486,106.5 491.7,108.5" fill="#04655e"/><polygon points="491.7,109.7 499,108.2 499,107 491.7,108.5" fill="#025a55"/><polygon points="491.7,108.5 499,107 493.4,105 486,106.5" fill="#056860"/><polygon points="484.3,111.3 478.6,109.3 478.6,103.7 484.3,105.7" fill="#04655e"/><polygon points="484.3,111.3 491.7,109.7 491.7,104.2 484.3,105.7" fill="#025a55"/><polygon points="484.3,105.7 491.7,104.2 486,102.2 478.6,103.7" fill="#056860"/><polygon points="476.9,112.8 471.3,110.8 471.3,109.5 476.9,111.5" fill="#04655e"/><polygon points="476.9,112.8 484.3,111.3 484.3,110 476.9,111.5" fill="#025a55"/><polygon points="476.9,111.5 484.3,110 478.6,108 471.3,109.5" fill="#056860"/><polygon points="469.5,114.3 463.9,112.3 463.9,111.1 469.5,113.1" fill="#04655e"/><polygon points="469.5,114.3 476.9,112.8 476.9,111.5 469.5,113.1" fill="#025a55"/><polygon points="469.5,113.1 476.9,111.5 471.3,109.5 463.9,111.1" fill="#056860"/><polygon points="462.1,115.8 456.5,113.8 456.5,113.3 462.1,115.3" fill="#04655e"/><polygon points="462.1,115.8 469.5,114.3 469.5,113.8 462.1,115.3" fill="#025a55"/><polygon points="462.1,115.3 469.5,113.8 463.9,111.8 456.5,113.3" fill="#056860"/><polygon points="454.7,117.3 449.1,115.3 449.1,114.1 454.7,116.1" fill="#04655e"/><polygon points="454.7,117.3 462.1,115.8 462.1,114.6 454.7,116.1" fill="#025a55"/><polygon points="454.7,116.1 462.1,114.6 456.5,112.6 449.1,114.1" fill="#056860"/><polygon points="447.3,118.8 441.7,116.9 441.7,113.8 447.3,115.7" fill="#04655e"/><polygon points="447.3,118.8 454.7,117.3 454.7,114.2 447.3,115.7" fill="#025a55"/><polygon points="447.3,115.7 454.7,114.2 449.1,112.2 441.7,113.8" fill="#056860"/><polygon points="440,120.4 434.3,118.4 434.3,117.8 440,119.8" fill="#04655e"/><polygon points="440,120.4 447.3,118.8 447.3,118.3 440,119.8" fill="#025a55"/><polygon points="440,119.8 447.3,118.3 441.7,116.3 434.3,117.8" fill="#056860"/><polygon points="432.6,121.9 426.9,119.9 426.9,117.9 432.6,119.9" fill="#04655e"/><polygon points="432.6,121.9 440,120.4 440,118.4 432.6,119.9" fill="#025a55"/><polygon points="432.6,119.9 440,118.4 434.3,116.4 426.9,117.9" fill="#056860"/><polygon points="425.2,123.4 419.6,121.4 419.6,95.7 425.2,97.7" fill="#04655e"/><polygon points="425.2,123.4 432.6,121.9 432.6,96.2 425.2,97.7" fill="#025a55"/><polygon points="425.2,97.7 432.6,96.2 426.9,94.2 419.6,95.7" fill="#056860"/><polygon points="417.8,124.9 412.2,122.9 412.2,121.7 417.8,123.7" fill="#04655e"/><polygon points="417.8,124.9 425.2,123.4 425.2,122.2 417.8,123.7" fill="#025a55"/><polygon points="417.8,123.7 425.2,122.2 419.6,120.2 412.2,121.7" fill="#056860"/><polygon points="410.4,126.4 404.8,124.4 404.8,122.4 410.4,124.4" fill="#04655e"/><polygon points="410.4,126.4 417.8,124.9 417.8,122.9 410.4,124.4" fill="#025a55"/><polygon points="410.4,124.4 417.8,122.9 412.2,120.9 404.8,122.4" fill="#056860"/><polygon points="403,128 397.4,126 397.4,125.4 403,127.4" fill="#04655e"/><polygon points="403,128 410.4,126.4 410.4,125.9 403,127.4" fill="#025a55"/><polygon points="403,127.4 410.4,125.9 404.8,123.9 397.4,125.4" fill="#056860"/><polygon points="395.6,129.5 390,127.5 390,126.2 395.6,128.2" fill="#04655e"/><polygon points="395.6,129.5 403,128 403,126.7 395.6,128.2" fill="#025a55"/><polygon points="395.6,128.2 403,126.7 397.4,124.7 390,126.2" fill="#056860"/><polygon points="512.1,108.7 506.4,106.7 506.4,106.2 512.1,108.2" fill="#04655e"/><polygon points="512.1,108.7 519.5,107.2 519.5,106.7 512.1,108.2" fill="#025a55"/><polygon points="512.1,108.2 519.5,106.7 513.8,104.7 506.4,106.2" fill="#056860"/><polygon points="504.7,110.2 499,108.2 499,107 504.7,109" fill="#04655e"/><polygon points="504.7,110.2 512.1,108.7 512.1,107.5 504.7,109" fill="#025a55"/><polygon points="504.7,109 512.1,107.5 506.4,105.5 499,107" fill="#056860"/><polygon points="497.3,111.7 491.7,109.7 491.7,108.5 497.3,110.5" fill="#04655e"/><polygon points="497.3,111.7 504.7,110.2 504.7,109 497.3,110.5" fill="#025a55"/><polygon points="497.3,110.5 504.7,109 499,107 491.7,108.5" fill="#056860"/><polygon points="489.9,113.3 484.3,111.3 484.3,110.7 489.9,112.7" fill="#04655e"/><polygon points="489.9,113.3 497.3,111.7 497.3,111.2 489.9,112.7" fill="#025a55"/><polygon points="489.9,112.7 497.3,111.2 491.7,109.2 484.3,110.7" fill="#056860"/><polygon points="482.5,114.8 476.9,112.8 476.9,112.2 482.5,114.2" fill="#04655e"/><polygon points="482.5,114.8 489.9,113.3 489.9,112.7 482.5,114.2" fill="#025a55"/><polygon points="482.5,114.2 489.9,112.7 484.3,110.7 476.9,112.2" fill="#056860"/><polygon points="475.1,116.3 469.5,114.3 469.5,113.1 475.1,115.1" fill="#04655e"/><polygon points="475.1,116.3 482.5,114.8 482.5,113.5 475.1,115.1" fill="#025a55"/><polygon points="475.1,115.1 482.5,113.5 476.9,111.5 469.5,113.1" fill="#056860"/><polygon points="467.8,117.8 462.1,115.8 462.1,114.6 467.8,116.6" fill="#04655e"/><polygon points="467.8,117.8 475.1,116.3 475.1,115.1 467.8,116.6" fill="#025a55"/><polygon points="467.8,116.6 475.1,115.1 469.5,113.1 462.1,114.6" fill="#056860"/><polygon points="460.4,119.3 454.7,117.3 454.7,115.3 460.4,117.3" fill="#04655e"/><polygon points="460.4,119.3 467.8,117.8 467.8,115.8 460.4,117.3" fill="#025a55"/><polygon points="460.4,117.3 467.8,115.8 462.1,113.8 454.7,115.3" fill="#056860"/><polygon points="453,120.8 447.3,118.8 447.3,118.3 453,120.3" fill="#04655e"/><polygon points="453,120.8 460.4,119.3 460.4,118.8 453,120.3" fill="#025a55"/><polygon points="453,120.3 460.4,118.8 454.7,116.8 447.3,118.3" fill="#056860"/><polygon points="445.6,122.4 440,120.4 440,118.4 445.6,120.3" fill="#04655e"/><polygon points="445.6,122.4 453,120.8 453,118.8 445.6,120.3" fill="#025a55"/><polygon points="445.6,120.3 453,118.8 447.3,116.8 440,118.4" fill="#056860"/><polygon points="438.2,123.9 432.6,121.9 432.6,119.9 438.2,121.9" fill="#04655e"/><polygon points="438.2,123.9 445.6,122.4 445.6,120.3 438.2,121.9" fill="#025a55"/><polygon points="438.2,121.9 445.6,120.3 440,118.4 432.6,119.9" fill="#056860"/><polygon points="430.8,125.4 425.2,123.4 425.2,122.9 430.8,124.9" fill="#04655e"/><polygon points="430.8,125.4 438.2,123.9 438.2,123.3 430.8,124.9" fill="#025a55"/><polygon points="430.8,124.9 438.2,123.3 432.6,121.3 425.2,122.9" fill="#056860"/><polygon points="423.4,126.9 417.8,124.9 417.8,121.8 423.4,123.8" fill="#04655e"/><polygon points="423.4,126.9 430.8,125.4 430.8,122.3 423.4,123.8" fill="#025a55"/><polygon points="423.4,123.8 430.8,122.3 425.2,120.3 417.8,121.8" fill="#056860"/><polygon points="416.1,128.4 410.4,126.4 410.4,125.9 416.1,127.9" fill="#04655e"/><polygon points="416.1,128.4 423.4,126.9 423.4,126.4 416.1,127.9" fill="#025a55"/><polygon points="416.1,127.9 423.4,126.4 417.8,124.4 410.4,125.9" fill="#056860"/><polygon points="408.7,129.9 403,128 403,127.4 408.7,129.4" fill="#04655e"/><polygon points="408.7,129.9 416.1,128.4 416.1,127.9 408.7,129.4" fill="#025a55"/><polygon points="408.7,129.4 416.1,127.9 410.4,125.9 403,127.4" fill="#056860"/><polygon points="401.3,131.5 395.6,129.5 395.6,128.9 401.3,130.9" fill="#04655e"/><polygon points="401.3,131.5 408.7,129.9 408.7,129.4 401.3,130.9" fill="#025a55"/><polygon points="401.3,130.9 408.7,129.4 403,127.4 395.6,128.9" fill="#056860"/><polygon points="517.7,110.7 512.1,108.7 512.1,107.5 517.7,109.5" fill="#04655e"/><polygon points="517.7,110.7 525.1,109.2 525.1,108 517.7,109.5" fill="#025a55"/><polygon points="517.7,109.5 525.1,108 519.5,106 512.1,107.5" fill="#056860"/><polygon points="510.3,112.2 504.7,110.2 504.7,108.2 510.3,110.2" fill="#04655e"/><polygon points="510.3,112.2 517.7,110.7 517.7,108.7 510.3,110.2" fill="#025a55"/><polygon points="510.3,110.2 517.7,108.7 512.1,106.7 504.7,108.2" fill="#056860"/><polygon points="502.9,113.7 497.3,111.7 497.3,111.2 502.9,113.2" fill="#04655e"/><polygon points="502.9,113.7 510.3,112.2 510.3,111.7 502.9,113.2" fill="#025a55"/><polygon points="502.9,113.2 510.3,111.7 504.7,109.7 497.3,111.2" fill="#056860"/><polygon points="495.6,115.3 489.9,113.3 489.9,112.7 495.6,114.7" fill="#04655e"/><polygon points="495.6,115.3 502.9,113.7 502.9,113.2 495.6,114.7" fill="#025a55"/><polygon points="495.6,114.7 502.9,113.2 497.3,111.2 489.9,112.7" fill="#056860"/><polygon points="488.2,116.8 482.5,114.8 482.5,114.2 488.2,116.2" fill="#04655e"/><polygon points="488.2,116.8 495.6,115.3 495.6,114.7 488.2,116.2" fill="#025a55"/><polygon points="488.2,116.2 495.6,114.7 489.9,112.7 482.5,114.2" fill="#056860"/><polygon points="480.8,118.3 475.1,116.3 475.1,115.8 480.8,117.8" fill="#04655e"/><polygon points="480.8,118.3 488.2,116.8 488.2,116.2 480.8,117.8" fill="#025a55"/><polygon points="480.8,117.8 488.2,116.2 482.5,114.2 475.1,115.8" fill="#056860"/><polygon points="473.4,119.8 467.8,117.8 467.8,116.6 473.4,118.6" fill="#04655e"/><polygon points="473.4,119.8 480.8,118.3 480.8,117.1 473.4,118.6" fill="#025a55"/><polygon points="473.4,118.6 480.8,117.1 475.1,115.1 467.8,116.6" fill="#056860"/><polygon points="466,121.3 460.4,119.3 460.4,117.3 466,119.3" fill="#04655e"/><polygon points="466,121.3 473.4,119.8 473.4,117.8 466,119.3" fill="#025a55"/><polygon points="466,119.3 473.4,117.8 467.8,115.8 460.4,117.3" fill="#056860"/><polygon points="458.6,122.8 453,120.8 453,119.6 458.6,121.6" fill="#04655e"/><polygon points="458.6,122.8 466,121.3 466,120.1 458.6,121.6" fill="#025a55"/><polygon points="458.6,121.6 466,120.1 460.4,118.1 453,119.6" fill="#056860"/><polygon points="451.2,124.4 445.6,122.4 445.6,121.1 451.2,123.1" fill="#04655e"/><polygon points="451.2,124.4 458.6,122.8 458.6,121.6 451.2,123.1" fill="#025a55"/><polygon points="451.2,123.1 458.6,121.6 453,119.6 445.6,121.1" fill="#056860"/><polygon points="443.9,125.9 438.2,123.9 438.2,121.9 443.9,123.9" fill="#04655e"/><polygon points="443.9,125.9 451.2,124.4 451.2,122.3 443.9,123.9" fill="#025a55"/><polygon points="443.9,123.9 451.2,122.3 445.6,120.3 438.2,121.9" fill="#056860"/><polygon points="436.5,127.4 430.8,125.4 430.8,123.4 436.5,125.4" fill="#04655e"/><polygon points="436.5,127.4 443.9,125.9 443.9,123.9 436.5,125.4" fill="#025a55"/><polygon points="436.5,125.4 443.9,123.9 438.2,121.9 430.8,123.4" fill="#056860"/><polygon points="429.1,128.9 423.4,126.9 423.4,125.7 429.1,127.7" fill="#04655e"/><polygon points="429.1,128.9 436.5,127.4 436.5,126.2 429.1,127.7" fill="#025a55"/><polygon points="429.1,127.7 436.5,126.2 430.8,124.2 423.4,125.7" fill="#056860"/><polygon points="421.7,130.4 416.1,128.4 416.1,127.2 421.7,129.2" fill="#04655e"/><polygon points="421.7,130.4 429.1,128.9 429.1,127.7 421.7,129.2" fill="#025a55"/><polygon points="421.7,129.2 429.1,127.7 423.4,125.7 416.1,127.2" fill="#056860"/><polygon points="414.3,131.9 408.7,129.9 408.7,128.7 414.3,130.7" fill="#04655e"/><polygon points="414.3,131.9 421.7,130.4 421.7,129.2 414.3,130.7" fill="#025a55"/><polygon points="414.3,130.7 421.7,129.2 416.1,127.2 408.7,128.7" fill="#056860"/><polygon points="406.9,133.5 401.3,131.5 401.3,130.9 406.9,132.9" fill="#04655e"/><polygon points="406.9,133.5 414.3,131.9 414.3,131.4 406.9,132.9" fill="#025a55"/><polygon points="406.9,132.9 414.3,131.4 408.7,129.4 401.3,130.9" fill="#056860"/><polygon points="523.3,112.7 517.7,110.7 517.7,109.5 523.3,111.5" fill="#04655e"/><polygon points="523.3,112.7 530.7,111.2 530.7,109.9 523.3,111.5" fill="#025a55"/><polygon points="523.3,111.5 530.7,109.9 525.1,108 517.7,109.5" fill="#056860"/><polygon points="516,114.2 510.3,112.2 510.3,111 516,113" fill="#04655e"/><polygon points="516,114.2 523.3,112.7 523.3,111.5 516,113" fill="#025a55"/><polygon points="516,113 523.3,111.5 517.7,109.5 510.3,111" fill="#056860"/><polygon points="508.6,115.7 502.9,113.7 502.9,112.5 508.6,114.5" fill="#04655e"/><polygon points="508.6,115.7 516,114.2 516,113 508.6,114.5" fill="#025a55"/><polygon points="508.6,114.5 516,113 510.3,111 502.9,112.5" fill="#056860"/><polygon points="501.2,117.3 495.6,115.3 495.6,114 501.2,116" fill="#04655e"/><polygon points="501.2,117.3 508.6,115.7 508.6,114.5 501.2,116" fill="#025a55"/><polygon points="501.2,116 508.6,114.5 502.9,112.5 495.6,114" fill="#056860"/><polygon points="493.8,118.8 488.2,116.8 488.2,116.2 493.8,118.2" fill="#04655e"/><polygon points="493.8,118.8 501.2,117.3 501.2,116.7 493.8,118.2" fill="#025a55"/><polygon points="493.8,118.2 501.2,116.7 495.6,114.7 488.2,116.2" fill="#056860"/><polygon points="486.4,120.3 480.8,118.3 480.8,117.1 486.4,119" fill="#04655e"/><polygon points="486.4,120.3 493.8,118.8 493.8,117.5 486.4,119" fill="#025a55"/><polygon points="486.4,119 493.8,117.5 488.2,115.5 480.8,117.1" fill="#056860"/><polygon points="479,121.8 473.4,119.8 473.4,119.3 479,121.3" fill="#04655e"/><polygon points="479,121.8 486.4,120.3 486.4,119.7 479,121.3" fill="#025a55"/><polygon points="479,121.3 486.4,119.7 480.8,117.8 473.4,119.3" fill="#056860"/><polygon points="471.6,123.3 466,121.3 466,119.3 471.6,121.3" fill="#04655e"/><polygon points="471.6,123.3 479,121.8 479,119.8 471.6,121.3" fill="#025a55"/><polygon points="471.6,121.3 479,119.8 473.4,117.8 466,119.3" fill="#056860"/><polygon points="464.3,124.8 458.6,122.8 458.6,120.8 464.3,122.8" fill="#04655e"/><polygon points="464.3,124.8 471.6,123.3 471.6,121.3 464.3,122.8" fill="#025a55"/><polygon points="464.3,122.8 471.6,121.3 466,119.3 458.6,120.8" fill="#056860"/><polygon points="456.9,126.4 451.2,124.4 451.2,122.3 456.9,124.3" fill="#04655e"/><polygon points="456.9,126.4 464.3,124.8 464.3,122.8 456.9,124.3" fill="#025a55"/><polygon points="456.9,124.3 464.3,122.8 458.6,120.8 451.2,122.3" fill="#056860"/><polygon points="449.5,127.9 443.9,125.9 443.9,125.3 449.5,127.3" fill="#04655e"/><polygon points="449.5,127.9 456.9,126.4 456.9,125.8 449.5,127.3" fill="#025a55"/><polygon points="449.5,127.3 456.9,125.8 451.2,123.8 443.9,125.3" fill="#056860"/><polygon points="442.1,129.4 436.5,127.4 436.5,124.3 442.1,126.3" fill="#04655e"/><polygon points="442.1,129.4 449.5,127.9 449.5,124.8 442.1,126.3" fill="#025a55"/><polygon points="442.1,126.3 449.5,124.8 443.9,122.8 436.5,124.3" fill="#056860"/><polygon points="434.7,130.9 429.1,128.9 429.1,125.5 434.7,127.5" fill="#04655e"/><polygon points="434.7,130.9 442.1,129.4 442.1,126 434.7,127.5" fill="#025a55"/><polygon points="434.7,127.5 442.1,126 436.5,124 429.1,125.5" fill="#056860"/><polygon points="427.3,132.4 421.7,130.4 421.7,127.3 427.3,129.3" fill="#04655e"/><polygon points="427.3,132.4 434.7,130.9 434.7,127.8 427.3,129.3" fill="#025a55"/><polygon points="427.3,129.3 434.7,127.8 429.1,125.8 421.7,127.3" fill="#056860"/><polygon points="419.9,133.9 414.3,131.9 414.3,130.7 419.9,132.7" fill="#04655e"/><polygon points="419.9,133.9 427.3,132.4 427.3,131.2 419.9,132.7" fill="#025a55"/><polygon points="419.9,132.7 427.3,131.2 421.7,129.2 414.3,130.7" fill="#056860"/><polygon points="412.6,135.5 406.9,133.5 406.9,132.2 412.6,134.2" fill="#04655e"/><polygon points="412.6,135.5 419.9,133.9 419.9,132.7 412.6,134.2" fill="#025a55"/><polygon points="412.6,134.2 419.9,132.7 414.3,130.7 406.9,132.2" fill="#056860"/><polygon points="529,114.7 523.3,112.7 523.3,111.5 529,113.5" fill="#04655e"/><polygon points="529,114.7 536.4,113.2 536.4,111.9 529,113.5" fill="#025a55"/><polygon points="529,113.5 536.4,111.9 530.7,109.9 523.3,111.5" fill="#056860"/><polygon points="521.6,116.2 516,114.2 516,113 521.6,115" fill="#04655e"/><polygon points="521.6,116.2 529,114.7 529,113.5 521.6,115" fill="#025a55"/><polygon points="521.6,115 529,113.5 523.3,111.5 516,113" fill="#056860"/><polygon points="514.2,117.7 508.6,115.7 508.6,114.5 514.2,116.5" fill="#04655e"/><polygon points="514.2,117.7 521.6,116.2 521.6,115 514.2,116.5" fill="#025a55"/><polygon points="514.2,116.5 521.6,115 516,113 508.6,114.5" fill="#056860"/><polygon points="506.8,119.3 501.2,117.3 501.2,116 506.8,118" fill="#04655e"/><polygon points="506.8,119.3 514.2,117.7 514.2,116.5 506.8,118" fill="#025a55"/><polygon points="506.8,118 514.2,116.5 508.6,114.5 501.2,116" fill="#056860"/><polygon points="499.4,120.8 493.8,118.8 493.8,118.2 499.4,120.2" fill="#04655e"/><polygon points="499.4,120.8 506.8,119.3 506.8,118.7 499.4,120.2" fill="#025a55"/><polygon points="499.4,120.2 506.8,118.7 501.2,116.7 493.8,118.2" fill="#056860"/><polygon points="492.1,122.3 486.4,120.3 486.4,119.7 492.1,121.7" fill="#04655e"/><polygon points="492.1,122.3 499.4,120.8 499.4,120.2 492.1,121.7" fill="#025a55"/><polygon points="492.1,121.7 499.4,120.2 493.8,118.2 486.4,119.7" fill="#056860"/><polygon points="484.7,123.8 479,121.8 479,120.6 484.7,122.6" fill="#04655e"/><polygon points="484.7,123.8 492.1,122.3 492.1,121 484.7,122.6" fill="#025a55"/><polygon points="484.7,122.6 492.1,121 486.4,119 479,120.6" fill="#056860"/><polygon points="477.3,125.3 471.6,123.3 471.6,122.1 477.3,124.1" fill="#04655e"/><polygon points="477.3,125.3 484.7,123.8 484.7,122.6 477.3,124.1" fill="#025a55"/><polygon points="477.3,124.1 484.7,122.6 479,120.6 471.6,122.1" fill="#056860"/><polygon points="469.9,126.8 464.3,124.8 464.3,124.3 469.9,126.3" fill="#04655e"/><polygon points="469.9,126.8 477.3,125.3 477.3,124.8 469.9,126.3" fill="#025a55"/><polygon points="469.9,126.3 477.3,124.8 471.6,122.8 464.3,124.3" fill="#056860"/><polygon points="462.5,128.4 456.9,126.4 456.9,125.8 462.5,127.8" fill="#04655e"/><polygon points="462.5,128.4 469.9,126.8 469.9,126.3 462.5,127.8" fill="#025a55"/><polygon points="462.5,127.8 469.9,126.3 464.3,124.3 456.9,125.8" fill="#056860"/><polygon points="455.1,129.9 449.5,127.9 449.5,126.6 455.1,128.6" fill="#04655e"/><polygon points="455.1,129.9 462.5,128.4 462.5,127.1 455.1,128.6" fill="#025a55"/><polygon points="455.1,128.6 462.5,127.1 456.9,125.1 449.5,126.6" fill="#056860"/><polygon points="447.7,131.4 442.1,129.4 442.1,128.2 447.7,130.1" fill="#04655e"/><polygon points="447.7,131.4 455.1,129.9 455.1,128.6 447.7,130.1" fill="#025a55"/><polygon points="447.7,130.1 455.1,128.6 449.5,126.6 442.1,128.2" fill="#056860"/><polygon points="440.4,132.9 434.7,130.9 434.7,129.7 440.4,131.7" fill="#04655e"/><polygon points="440.4,132.9 447.7,131.4 447.7,130.1 440.4,131.7" fill="#025a55"/><polygon points="440.4,131.7 447.7,130.1 442.1,128.2 434.7,129.7" fill="#056860"/><polygon points="433,134.4 427.3,132.4 427.3,131.2 433,133.2" fill="#04655e"/><polygon points="433,134.4 440.4,132.9 440.4,131.7 433,133.2" fill="#025a55"/><polygon points="433,133.2 440.4,131.7 434.7,129.7 427.3,131.2" fill="#056860"/><polygon points="425.6,135.9 419.9,133.9 419.9,132.7 425.6,134.7" fill="#04655e"/><polygon points="425.6,135.9 433,134.4 433,133.2 425.6,134.7" fill="#025a55"/><polygon points="425.6,134.7 433,133.2 427.3,131.2 419.9,132.7" fill="#056860"/><polygon points="418.2,137.5 412.6,135.5 412.6,74.2 418.2,76.2" fill="#04655e"/><polygon points="418.2,137.5 425.6,135.9 425.6,74.7 418.2,76.2" fill="#025a55"/><polygon points="418.2,76.2 425.6,74.7 419.9,72.7 412.6,74.2" fill="#056860"/></g>
<text transform="translate(292.6 65.3) rotate(-90)" text-anchor="middle">c (u,v)</text>
<text transform="translate(335.4 143.3) rotate(19.5)" text-anchor="middle" font-style="italic" font-size="11.8">AMK (V)</text>
<text transform="translate(503.4 151.3) rotate(-11.5)" text-anchor="middle" font-size="10.8"><tspan font-style="italic">Panax ginseng</tspan> (U)</text>
<text x="415.5" y="181" text-anchor="middle" font-size="9.5">(b)</text>
<path d="M175.3 296.9L304.4 270.8L405.5 306.7M175.3 277.5L304.4 251.4L405.5 287.3M175.3 258.1L304.4 232L405.5 267.9M175.3 238.7L304.4 212.6L405.5 248.5M175.3 219.3L304.4 193.2L405.5 229.1M189.5 294L189.5 216.4M217.6 288.3L217.6 210.7M245.7 282.7L245.7 205.1M273.8 277L273.8 199.4M301.9 271.3L301.9 193.7M396.4 303.5L396.4 225.9M374.2 295.6L374.2 218M352.1 287.7L352.1 210.1M329.9 279.9L329.9 202.3M307.8 272L307.8 194.4" fill="none" stroke="#8c8c8c" stroke-width="0.5"/>
<path d="M175.3 297.4L175.3 218.8" stroke="#c9dcea" stroke-width="1.3" fill="none"/>
<text x="168.1" y="300.2" text-anchor="end">0</text>
<text x="168.1" y="280.8" text-anchor="end">10</text>
<text x="168.1" y="261.4" text-anchor="end">20</text>
<text x="168.1" y="242" text-anchor="end">30</text>
<text x="168.1" y="222.6" text-anchor="end">40</text>
<path d="M175.3 296.9L276.4 332.8L405.5 306.7" stroke="#1a1a1a" stroke-width="1.1" fill="none"/>
<text x="172" y="307.7" text-anchor="end">1</text>
<text x="193" y="314.8" text-anchor="end">0.8</text>
<text x="214.7" y="322.5" text-anchor="end">0.6</text>
<text x="236.4" y="330.2" text-anchor="end">0.4</text>
<text x="258.1" y="337.9" text-anchor="end">0.2</text>
<text x="293.8" y="340.9" text-anchor="start">0.2</text>
<text x="321.9" y="335.2" text-anchor="start">0.4</text>
<text x="350" y="329.6" text-anchor="start">0.6</text>
<text x="378.1" y="323.9" text-anchor="start">0.8</text>
<text x="406.2" y="318.2" text-anchor="start">1</text>
<path d="M171.7 296.6L175.3 296.9M171.7 277.2L175.3 277.5M171.7 257.8L175.3 258.1M171.7 238.4L175.3 238.7M171.7 219L175.3 219.3M180.8 298.9L177.7 299.5M202.5 306.6L199.4 307.2M224.2 314.3L221.1 314.9M245.9 322L242.8 322.6M267.6 329.7L264.5 330.3M290.6 329.9L293.6 331M318.7 324.2L321.7 325.3M346.8 318.6L349.8 319.6M374.9 312.9L377.9 314M403 307.2L406 308.3" stroke="#222" stroke-width="0.8" fill="none"/>
<g stroke="#001414" stroke-width="0.7" stroke-linejoin="round"><polygon points="305.2,277.5 299.6,275.4 299.6,273.9 305.2,275.9" fill="#04655e"/><polygon points="305.2,277.5 312.8,275.9 312.8,274.4 305.2,275.9" fill="#025a55"/><polygon points="305.2,275.9 312.8,274.4 307.1,272.4 299.6,273.9" fill="#056860"/><polygon points="297.7,279 292,277 292,275.4 297.7,277.4" fill="#04655e"/><polygon points="297.7,279 305.2,277.5 305.2,275.9 297.7,277.4" fill="#025a55"/><polygon points="297.7,277.4 305.2,275.9 299.6,273.9 292,275.4" fill="#056860"/><polygon points="290.2,280.5 284.5,278.5 284.5,276.9 290.2,279" fill="#04655e"/><polygon points="290.2,280.5 297.7,279 297.7,277.4 290.2,279" fill="#025a55"/><polygon points="290.2,279 297.7,277.4 292,275.4 284.5,276.9" fill="#056860"/><polygon points="282.6,282 277,280 277,278.5 282.6,280.5" fill="#04655e"/><polygon points="282.6,282 290.2,280.5 290.2,279 282.6,280.5" fill="#025a55"/><polygon points="282.6,280.5 290.2,279 284.5,276.9 277,278.5" fill="#056860"/><polygon points="275.1,283.6 269.4,281.5 269.4,280.9 275.1,282.9" fill="#04655e"/><polygon points="275.1,283.6 282.6,282 282.6,281.4 275.1,282.9" fill="#025a55"/><polygon points="275.1,282.9 282.6,281.4 277,279.3 269.4,280.9" fill="#056860"/><polygon points="267.6,285.1 261.9,283.1 261.9,278.6 267.6,280.6" fill="#04655e"/><polygon points="267.6,285.1 275.1,283.6 275.1,279.1 267.6,280.6" fill="#025a55"/><polygon points="267.6,280.6 275.1,279.1 269.4,277.1 261.9,278.6" fill="#056860"/><polygon points="260,286.6 254.3,284.6 254.3,283 260,285" fill="#04655e"/><polygon points="260,286.6 267.6,285.1 267.6,283.5 260,285" fill="#025a55"/><polygon points="260,285 267.6,283.5 261.9,281.5 254.3,283" fill="#056860"/><polygon points="252.5,288.1 246.8,286.1 246.8,284.6 252.5,286.6" fill="#04655e"/><polygon points="252.5,288.1 260,286.6 260,285 252.5,286.6" fill="#025a55"/><polygon points="252.5,286.6 260,285 254.3,283 246.8,284.6" fill="#056860"/><polygon points="245,289.6 239.3,287.6 239.3,286.9 245,289" fill="#04655e"/><polygon points="245,289.6 252.5,288.1 252.5,287.4 245,289" fill="#025a55"/><polygon points="245,289 252.5,287.4 246.8,285.4 239.3,286.9" fill="#056860"/><polygon points="237.4,291.2 231.7,289.2 231.7,287.6 237.4,289.6" fill="#04655e"/><polygon points="237.4,291.2 245,289.6 245,288.1 237.4,289.6" fill="#025a55"/><polygon points="237.4,289.6 245,288.1 239.3,286.1 231.7,287.6" fill="#056860"/><polygon points="229.9,292.7 224.2,290.7 224.2,289.1 229.9,291.1" fill="#04655e"/><polygon points="229.9,292.7 237.4,291.2 237.4,289.6 229.9,291.1" fill="#025a55"/><polygon points="229.9,291.1 237.4,289.6 231.7,287.6 224.2,289.1" fill="#056860"/><polygon points="222.4,294.2 216.7,292.2 216.7,290.6 222.4,292.7" fill="#04655e"/><polygon points="222.4,294.2 229.9,292.7 229.9,291.1 222.4,292.7" fill="#025a55"/><polygon points="222.4,292.7 229.9,291.1 224.2,289.1 216.7,290.6" fill="#056860"/><polygon points="214.8,295.7 209.1,293.7 209.1,292.2 214.8,294.2" fill="#04655e"/><polygon points="214.8,295.7 222.4,294.2 222.4,292.7 214.8,294.2" fill="#025a55"/><polygon points="214.8,294.2 222.4,292.7 216.7,290.6 209.1,292.2" fill="#056860"/><polygon points="207.3,297.3 201.6,295.2 201.6,293.7 207.3,295.7" fill="#04655e"/><polygon points="207.3,297.3 214.8,295.7 214.8,294.2 207.3,295.7" fill="#025a55"/><polygon points="207.3,295.7 214.8,294.2 209.1,292.2 201.6,293.7" fill="#056860"/><polygon points="199.7,298.8 194.1,296.8 194.1,295.2 199.7,297.2" fill="#04655e"/><polygon points="199.7,298.8 207.3,297.3 207.3,295.7 199.7,297.2" fill="#025a55"/><polygon points="199.7,297.2 207.3,295.7 201.6,293.7 194.1,295.2" fill="#056860"/><polygon points="192.2,300.3 186.5,298.3 186.5,297.6 192.2,299.6" fill="#04655e"/><polygon points="192.2,300.3 199.7,298.8 199.7,298.1 192.2,299.6" fill="#025a55"/><polygon points="192.2,299.6 199.7,298.1 194.1,296.1 186.5,297.6" fill="#056860"/><polygon points="310.9,279.5 305.2,277.5 305.2,275.9 310.9,277.9" fill="#04655e"/><polygon points="310.9,279.5 318.5,278 318.5,276.4 310.9,277.9" fill="#025a55"/><polygon points="310.9,277.9 318.5,276.4 312.8,274.4 305.2,275.9" fill="#056860"/><polygon points="303.4,281 297.7,279 297.7,226.2 303.4,228.2" fill="#04655e"/><polygon points="303.4,281 310.9,279.5 310.9,226.7 303.4,228.2" fill="#025a55"/><polygon points="303.4,228.2 310.9,226.7 305.2,224.7 297.7,226.2" fill="#056860"/><polygon points="295.9,282.5 290.2,280.5 290.2,279 295.9,281" fill="#04655e"/><polygon points="295.9,282.5 303.4,281 303.4,279.5 295.9,281" fill="#025a55"/><polygon points="295.9,281 303.4,279.5 297.7,277.4 290.2,279" fill="#056860"/><polygon points="288.3,284 282.6,282 282.6,278.2 288.3,280.2" fill="#04655e"/><polygon points="288.3,284 295.9,282.5 295.9,278.6 288.3,280.2" fill="#025a55"/><polygon points="288.3,280.2 295.9,278.6 290.2,276.6 282.6,278.2" fill="#056860"/><polygon points="280.8,285.6 275.1,283.6 275.1,279.7 280.8,281.7" fill="#04655e"/><polygon points="280.8,285.6 288.3,284 288.3,280.2 280.8,281.7" fill="#025a55"/><polygon points="280.8,281.7 288.3,280.2 282.6,278.2 275.1,279.7" fill="#056860"/><polygon points="273.3,287.1 267.6,285.1 267.6,284.4 273.3,286.4" fill="#04655e"/><polygon points="273.3,287.1 280.8,285.6 280.8,284.9 273.3,286.4" fill="#025a55"/><polygon points="273.3,286.4 280.8,284.9 275.1,282.9 267.6,284.4" fill="#056860"/><polygon points="265.7,288.6 260,286.6 260,281.8 265.7,283.8" fill="#04655e"/><polygon points="265.7,288.6 273.3,287.1 273.3,282.2 265.7,283.8" fill="#025a55"/><polygon points="265.7,283.8 273.3,282.2 267.6,280.2 260,281.8" fill="#056860"/><polygon points="258.2,290.1 252.5,288.1 252.5,286.6 258.2,288.6" fill="#04655e"/><polygon points="258.2,290.1 265.7,288.6 265.7,287.1 258.2,288.6" fill="#025a55"/><polygon points="258.2,288.6 265.7,287.1 260,285 252.5,286.6" fill="#056860"/><polygon points="250.6,291.7 245,289.6 245,289 250.6,291" fill="#04655e"/><polygon points="250.6,291.7 258.2,290.1 258.2,289.5 250.6,291" fill="#025a55"/><polygon points="250.6,291 258.2,289.5 252.5,287.4 245,289" fill="#056860"/><polygon points="243.1,293.2 237.4,291.2 237.4,287.3 243.1,289.3" fill="#04655e"/><polygon points="243.1,293.2 250.6,291.7 250.6,287.8 243.1,289.3" fill="#025a55"/><polygon points="243.1,289.3 250.6,287.8 245,285.8 237.4,287.3" fill="#056860"/><polygon points="235.6,294.7 229.9,292.7 229.9,291.1 235.6,293.2" fill="#04655e"/><polygon points="235.6,294.7 243.1,293.2 243.1,291.6 235.6,293.2" fill="#025a55"/><polygon points="235.6,293.2 243.1,291.6 237.4,289.6 229.9,291.1" fill="#056860"/><polygon points="228,296.2 222.4,294.2 222.4,291.7 228,293.7" fill="#04655e"/><polygon points="228,296.2 235.6,294.7 235.6,292.2 228,293.7" fill="#025a55"/><polygon points="228,293.7 235.6,292.2 229.9,290.2 222.4,291.7" fill="#056860"/><polygon points="220.5,297.8 214.8,295.7 214.8,293.2 220.5,295.2" fill="#04655e"/><polygon points="220.5,297.8 228,296.2 228,293.7 220.5,295.2" fill="#025a55"/><polygon points="220.5,295.2 228,293.7 222.4,291.7 214.8,293.2" fill="#056860"/><polygon points="213,299.3 207.3,297.3 207.3,295.7 213,297.7" fill="#04655e"/><polygon points="213,299.3 220.5,297.8 220.5,296.2 213,297.7" fill="#025a55"/><polygon points="213,297.7 220.5,296.2 214.8,294.2 207.3,295.7" fill="#056860"/><polygon points="205.4,300.8 199.7,298.8 199.7,296.3 205.4,298.3" fill="#04655e"/><polygon points="205.4,300.8 213,299.3 213,296.8 205.4,298.3" fill="#025a55"/><polygon points="205.4,298.3 213,296.8 207.3,294.7 199.7,296.3" fill="#056860"/><polygon points="197.9,302.3 192.2,300.3 192.2,298.8 197.9,300.8" fill="#04655e"/><polygon points="197.9,302.3 205.4,300.8 205.4,299.3 197.9,300.8" fill="#025a55"/><polygon points="197.9,300.8 205.4,299.3 199.7,297.2 192.2,298.8" fill="#056860"/><polygon points="316.6,281.5 310.9,279.5 310.9,277.9 316.6,279.9" fill="#04655e"/><polygon points="316.6,281.5 324.2,280 324.2,278.4 316.6,279.9" fill="#025a55"/><polygon points="316.6,279.9 324.2,278.4 318.5,276.4 310.9,277.9" fill="#056860"/><polygon points="309.1,283 303.4,281 303.4,280.3 309.1,282.3" fill="#04655e"/><polygon points="309.1,283 316.6,281.5 316.6,280.8 309.1,282.3" fill="#025a55"/><polygon points="309.1,282.3 316.6,280.8 310.9,278.8 303.4,280.3" fill="#056860"/><polygon points="301.6,284.5 295.9,282.5 295.9,280 301.6,282" fill="#04655e"/><polygon points="301.6,284.5 309.1,283 309.1,280.5 301.6,282" fill="#025a55"/><polygon points="301.6,282 309.1,280.5 303.4,278.5 295.9,280" fill="#056860"/><polygon points="294,286.1 288.3,284 288.3,281.5 294,283.5" fill="#04655e"/><polygon points="294,286.1 301.6,284.5 301.6,282 294,283.5" fill="#025a55"/><polygon points="294,283.5 301.6,282 295.9,280 288.3,281.5" fill="#056860"/><polygon points="286.5,287.6 280.8,285.6 280.8,281.7 286.5,283.7" fill="#04655e"/><polygon points="286.5,287.6 294,286.1 294,282.2 286.5,283.7" fill="#025a55"/><polygon points="286.5,283.7 294,282.2 288.3,280.2 280.8,281.7" fill="#056860"/><polygon points="278.9,289.1 273.3,287.1 273.3,285.5 278.9,287.6" fill="#04655e"/><polygon points="278.9,289.1 286.5,287.6 286.5,286 278.9,287.6" fill="#025a55"/><polygon points="278.9,287.6 286.5,286 280.8,284 273.3,285.5" fill="#056860"/><polygon points="271.4,290.6 265.7,288.6 265.7,287.9 271.4,290" fill="#04655e"/><polygon points="271.4,290.6 278.9,289.1 278.9,288.4 271.4,290" fill="#025a55"/><polygon points="271.4,290 278.9,288.4 273.3,286.4 265.7,287.9" fill="#056860"/><polygon points="263.9,292.2 258.2,290.1 258.2,289.5 263.9,291.5" fill="#04655e"/><polygon points="263.9,292.2 271.4,290.6 271.4,290 263.9,291.5" fill="#025a55"/><polygon points="263.9,291.5 271.4,290 265.7,287.9 258.2,289.5" fill="#056860"/><polygon points="256.3,293.7 250.6,291.7 250.6,289.1 256.3,291.2" fill="#04655e"/><polygon points="256.3,293.7 263.9,292.2 263.9,289.6 256.3,291.2" fill="#025a55"/><polygon points="256.3,291.2 263.9,289.6 258.2,287.6 250.6,289.1" fill="#056860"/><polygon points="248.8,295.2 243.1,293.2 243.1,291.6 248.8,293.7" fill="#04655e"/><polygon points="248.8,295.2 256.3,293.7 256.3,292.1 248.8,293.7" fill="#025a55"/><polygon points="248.8,293.7 256.3,292.1 250.6,290.1 243.1,291.6" fill="#056860"/><polygon points="241.3,296.7 235.6,294.7 235.6,292.2 241.3,294.2" fill="#04655e"/><polygon points="241.3,296.7 248.8,295.2 248.8,292.7 241.3,294.2" fill="#025a55"/><polygon points="241.3,294.2 248.8,292.7 243.1,290.7 235.6,292.2" fill="#056860"/><polygon points="233.7,298.3 228,296.2 228,295.6 233.7,297.6" fill="#04655e"/><polygon points="233.7,298.3 241.3,296.7 241.3,296.1 233.7,297.6" fill="#025a55"/><polygon points="233.7,297.6 241.3,296.1 235.6,294 228,295.6" fill="#056860"/><polygon points="226.2,299.8 220.5,297.8 220.5,297.1 226.2,299.1" fill="#04655e"/><polygon points="226.2,299.8 233.7,298.3 233.7,297.6 226.2,299.1" fill="#025a55"/><polygon points="226.2,299.1 233.7,297.6 228,295.6 220.5,297.1" fill="#056860"/><polygon points="218.7,301.3 213,299.3 213,297.7 218.7,299.8" fill="#04655e"/><polygon points="218.7,301.3 226.2,299.8 226.2,298.2 218.7,299.8" fill="#025a55"/><polygon points="218.7,299.8 226.2,298.2 220.5,296.2 213,297.7" fill="#056860"/><polygon points="211.1,302.8 205.4,300.8 205.4,298.3 211.1,300.3" fill="#04655e"/><polygon points="211.1,302.8 218.7,301.3 218.7,298.8 211.1,300.3" fill="#025a55"/><polygon points="211.1,300.3 218.7,298.8 213,296.8 205.4,298.3" fill="#056860"/><polygon points="203.6,304.4 197.9,302.3 197.9,300.8 203.6,302.8" fill="#04655e"/><polygon points="203.6,304.4 211.1,302.8 211.1,301.3 203.6,302.8" fill="#025a55"/><polygon points="203.6,302.8 211.1,301.3 205.4,299.3 197.9,300.8" fill="#056860"/><polygon points="322.3,283.5 316.6,281.5 316.6,279.9 322.3,282" fill="#04655e"/><polygon points="322.3,283.5 329.8,282 329.8,280.4 322.3,282" fill="#025a55"/><polygon points="322.3,282 329.8,280.4 324.2,278.4 316.6,279.9" fill="#056860"/><polygon points="314.8,285 309.1,283 309.1,282.3 314.8,284.4" fill="#04655e"/><polygon points="314.8,285 322.3,283.5 322.3,282.8 314.8,284.4" fill="#025a55"/><polygon points="314.8,284.4 322.3,282.8 316.6,280.8 309.1,282.3" fill="#056860"/><polygon points="307.2,286.6 301.6,284.5 301.6,283.9 307.2,285.9" fill="#04655e"/><polygon points="307.2,286.6 314.8,285 314.8,284.4 307.2,285.9" fill="#025a55"/><polygon points="307.2,285.9 314.8,284.4 309.1,282.3 301.6,283.9" fill="#056860"/><polygon points="299.7,288.1 294,286.1 294,283.5 299.7,285.6" fill="#04655e"/><polygon points="299.7,288.1 307.2,286.6 307.2,284 299.7,285.6" fill="#025a55"/><polygon points="299.7,285.6 307.2,284 301.6,282 294,283.5" fill="#056860"/><polygon points="292.2,289.6 286.5,287.6 286.5,286 292.2,288.1" fill="#04655e"/><polygon points="292.2,289.6 299.7,288.1 299.7,286.5 292.2,288.1" fill="#025a55"/><polygon points="292.2,288.1 299.7,286.5 294,284.5 286.5,286" fill="#056860"/><polygon points="284.6,291.1 278.9,289.1 278.9,286.6 284.6,288.6" fill="#04655e"/><polygon points="284.6,291.1 292.2,289.6 292.2,287.1 284.6,288.6" fill="#025a55"/><polygon points="284.6,288.6 292.2,287.1 286.5,285.1 278.9,286.6" fill="#056860"/><polygon points="277.1,292.7 271.4,290.6 271.4,288.1 277.1,290.1" fill="#04655e"/><polygon points="277.1,292.7 284.6,291.1 284.6,288.6 277.1,290.1" fill="#025a55"/><polygon points="277.1,290.1 284.6,288.6 278.9,286.6 271.4,288.1" fill="#056860"/><polygon points="269.6,294.2 263.9,292.2 263.9,289.6 269.6,291.7" fill="#04655e"/><polygon points="269.6,294.2 277.1,292.7 277.1,290.1 269.6,291.7" fill="#025a55"/><polygon points="269.6,291.7 277.1,290.1 271.4,288.1 263.9,289.6" fill="#056860"/><polygon points="262,295.7 256.3,293.7 256.3,291.2 262,293.2" fill="#04655e"/><polygon points="262,295.7 269.6,294.2 269.6,291.7 262,293.2" fill="#025a55"/><polygon points="262,293.2 269.6,291.7 263.9,289.6 256.3,291.2" fill="#056860"/><polygon points="254.5,297.2 248.8,295.2 248.8,294.5 254.5,296.6" fill="#04655e"/><polygon points="254.5,297.2 262,295.7 262,295 254.5,296.6" fill="#025a55"/><polygon points="254.5,296.6 262,295 256.3,293 248.8,294.5" fill="#056860"/><polygon points="246.9,298.8 241.3,296.7 241.3,296.1 246.9,298.1" fill="#04655e"/><polygon points="246.9,298.8 254.5,297.2 254.5,296.6 246.9,298.1" fill="#025a55"/><polygon points="246.9,298.1 254.5,296.6 248.8,294.5 241.3,296.1" fill="#056860"/><polygon points="239.4,300.3 233.7,298.3 233.7,296.7 239.4,298.7" fill="#04655e"/><polygon points="239.4,300.3 246.9,298.8 246.9,297.2 239.4,298.7" fill="#025a55"/><polygon points="239.4,298.7 246.9,297.2 241.3,295.2 233.7,296.7" fill="#056860"/><polygon points="231.9,301.8 226.2,299.8 226.2,297.3 231.9,299.3" fill="#04655e"/><polygon points="231.9,301.8 239.4,300.3 239.4,297.8 231.9,299.3" fill="#025a55"/><polygon points="231.9,299.3 239.4,297.8 233.7,295.7 226.2,297.3" fill="#056860"/><polygon points="224.3,303.3 218.7,301.3 218.7,299.8 224.3,301.8" fill="#04655e"/><polygon points="224.3,303.3 231.9,301.8 231.9,300.2 224.3,301.8" fill="#025a55"/><polygon points="224.3,301.8 231.9,300.2 226.2,298.2 218.7,299.8" fill="#056860"/><polygon points="216.8,304.8 211.1,302.8 211.1,300.3 216.8,302.3" fill="#04655e"/><polygon points="216.8,304.8 224.3,303.3 224.3,300.8 216.8,302.3" fill="#025a55"/><polygon points="216.8,302.3 224.3,300.8 218.7,298.8 211.1,300.3" fill="#056860"/><polygon points="209.3,306.4 203.6,304.4 203.6,302.8 209.3,304.8" fill="#04655e"/><polygon points="209.3,306.4 216.8,304.8 216.8,303.3 209.3,304.8" fill="#025a55"/><polygon points="209.3,304.8 216.8,303.3 211.1,301.3 203.6,302.8" fill="#056860"/><polygon points="328,285.5 322.3,283.5 322.3,277.7 328,279.7" fill="#04655e"/><polygon points="328,285.5 335.5,284 335.5,278.2 328,279.7" fill="#025a55"/><polygon points="328,279.7 335.5,278.2 329.8,276.2 322.3,277.7" fill="#056860"/><polygon points="320.5,287.1 314.8,285 314.8,282.5 320.5,284.5" fill="#04655e"/><polygon points="320.5,287.1 328,285.5 328,283 320.5,284.5" fill="#025a55"/><polygon points="320.5,284.5 328,283 322.3,281 314.8,282.5" fill="#056860"/><polygon points="312.9,288.6 307.2,286.6 307.2,285 312.9,287" fill="#04655e"/><polygon points="312.9,288.6 320.5,287.1 320.5,285.5 312.9,287" fill="#025a55"/><polygon points="312.9,287 320.5,285.5 314.8,283.5 307.2,285" fill="#056860"/><polygon points="305.4,290.1 299.7,288.1 299.7,287.4 305.4,289.4" fill="#04655e"/><polygon points="305.4,290.1 312.9,288.6 312.9,287.9 305.4,289.4" fill="#025a55"/><polygon points="305.4,289.4 312.9,287.9 307.2,285.9 299.7,287.4" fill="#056860"/><polygon points="297.9,291.6 292.2,289.6 292.2,285.7 297.9,287.8" fill="#04655e"/><polygon points="297.9,291.6 305.4,290.1 305.4,286.2 297.9,287.8" fill="#025a55"/><polygon points="297.9,287.8 305.4,286.2 299.7,284.2 292.2,285.7" fill="#056860"/><polygon points="290.3,293.2 284.6,291.1 284.6,289.6 290.3,291.6" fill="#04655e"/><polygon points="290.3,293.2 297.9,291.6 297.9,290.1 290.3,291.6" fill="#025a55"/><polygon points="290.3,291.6 297.9,290.1 292.2,288.1 284.6,289.6" fill="#056860"/><polygon points="282.8,294.7 277.1,292.7 277.1,291.1 282.8,293.1" fill="#04655e"/><polygon points="282.8,294.7 290.3,293.2 290.3,291.6 282.8,293.1" fill="#025a55"/><polygon points="282.8,293.1 290.3,291.6 284.6,289.6 277.1,291.1" fill="#056860"/><polygon points="275.2,296.2 269.6,294.2 269.6,292.6 275.2,294.7" fill="#04655e"/><polygon points="275.2,296.2 282.8,294.7 282.8,293.1 275.2,294.7" fill="#025a55"/><polygon points="275.2,294.7 282.8,293.1 277.1,291.1 269.6,292.6" fill="#056860"/><polygon points="267.7,297.7 262,295.7 262,294.2 267.7,296.2" fill="#04655e"/><polygon points="267.7,297.7 275.2,296.2 275.2,294.7 267.7,296.2" fill="#025a55"/><polygon points="267.7,296.2 275.2,294.7 269.6,292.6 262,294.2" fill="#056860"/><polygon points="260.2,299.2 254.5,297.2 254.5,294.7 260.2,296.7" fill="#04655e"/><polygon points="260.2,299.2 267.7,297.7 267.7,295.2 260.2,296.7" fill="#025a55"/><polygon points="260.2,296.7 267.7,295.2 262,293.2 254.5,294.7" fill="#056860"/><polygon points="252.6,300.8 246.9,298.8 246.9,298.1 252.6,300.1" fill="#04655e"/><polygon points="252.6,300.8 260.2,299.2 260.2,298.6 252.6,300.1" fill="#025a55"/><polygon points="252.6,300.1 260.2,298.6 254.5,296.6 246.9,298.1" fill="#056860"/><polygon points="245.1,302.3 239.4,300.3 239.4,299.6 245.1,301.6" fill="#04655e"/><polygon points="245.1,302.3 252.6,300.8 252.6,300.1 245.1,301.6" fill="#025a55"/><polygon points="245.1,301.6 252.6,300.1 246.9,298.1 239.4,299.6" fill="#056860"/><polygon points="237.6,303.8 231.9,301.8 231.9,300.2 237.6,302.3" fill="#04655e"/><polygon points="237.6,303.8 245.1,302.3 245.1,300.7 237.6,302.3" fill="#025a55"/><polygon points="237.6,302.3 245.1,300.7 239.4,298.7 231.9,300.2" fill="#056860"/><polygon points="230,305.3 224.3,303.3 224.3,301.8 230,303.8" fill="#04655e"/><polygon points="230,305.3 237.6,303.8 237.6,302.3 230,303.8" fill="#025a55"/><polygon points="230,303.8 237.6,302.3 231.9,300.2 224.3,301.8" fill="#056860"/><polygon points="222.5,306.9 216.8,304.8 216.8,303.3 222.5,305.3" fill="#04655e"/><polygon points="222.5,306.9 230,305.3 230,303.8 222.5,305.3" fill="#025a55"/><polygon points="222.5,305.3 230,303.8 224.3,301.8 216.8,303.3" fill="#056860"/><polygon points="215,308.4 209.3,306.4 209.3,304.8 215,306.8" fill="#04655e"/><polygon points="215,308.4 222.5,306.9 222.5,305.3 215,306.8" fill="#025a55"/><polygon points="215,306.8 222.5,305.3 216.8,303.3 209.3,304.8" fill="#056860"/><polygon points="333.7,287.6 328,285.5 328,284.9 333.7,286.9" fill="#04655e"/><polygon points="333.7,287.6 341.2,286 341.2,285.4 333.7,286.9" fill="#025a55"/><polygon points="333.7,286.9 341.2,285.4 335.5,283.3 328,284.9" fill="#056860"/><polygon points="326.1,289.1 320.5,287.1 320.5,285.5 326.1,287.5" fill="#04655e"/><polygon points="326.1,289.1 333.7,287.6 333.7,286 326.1,287.5" fill="#025a55"/><polygon points="326.1,287.5 333.7,286 328,284 320.5,285.5" fill="#056860"/><polygon points="318.6,290.6 312.9,288.6 312.9,287 318.6,289.1" fill="#04655e"/><polygon points="318.6,290.6 326.1,289.1 326.1,287.5 318.6,289.1" fill="#025a55"/><polygon points="318.6,289.1 326.1,287.5 320.5,285.5 312.9,287" fill="#056860"/><polygon points="311.1,292.1 305.4,290.1 305.4,287.6 311.1,289.6" fill="#04655e"/><polygon points="311.1,292.1 318.6,290.6 318.6,288.1 311.1,289.6" fill="#025a55"/><polygon points="311.1,289.6 318.6,288.1 312.9,286.1 305.4,287.6" fill="#056860"/><polygon points="303.5,293.7 297.9,291.6 297.9,289.1 303.5,291.1" fill="#04655e"/><polygon points="303.5,293.7 311.1,292.1 311.1,289.6 303.5,291.1" fill="#025a55"/><polygon points="303.5,291.1 311.1,289.6 305.4,287.6 297.9,289.1" fill="#056860"/><polygon points="296,295.2 290.3,293.2 290.3,290.6 296,292.7" fill="#04655e"/><polygon points="296,295.2 303.5,293.7 303.5,291.1 296,292.7" fill="#025a55"/><polygon points="296,292.7 303.5,291.1 297.9,289.1 290.3,290.6" fill="#056860"/><polygon points="288.5,296.7 282.8,294.7 282.8,292.2 288.5,294.2" fill="#04655e"/><polygon points="288.5,296.7 296,295.2 296,292.7 288.5,294.2" fill="#025a55"/><polygon points="288.5,294.2 296,292.7 290.3,290.6 282.8,292.2" fill="#056860"/><polygon points="280.9,298.2 275.2,296.2 275.2,294.7 280.9,296.7" fill="#04655e"/><polygon points="280.9,298.2 288.5,296.7 288.5,295.1 280.9,296.7" fill="#025a55"/><polygon points="280.9,296.7 288.5,295.1 282.8,293.1 275.2,294.7" fill="#056860"/><polygon points="273.4,299.7 267.7,297.7 267.7,296.2 273.4,298.2" fill="#04655e"/><polygon points="273.4,299.7 280.9,298.2 280.9,296.7 273.4,298.2" fill="#025a55"/><polygon points="273.4,298.2 280.9,296.7 275.2,294.7 267.7,296.2" fill="#056860"/><polygon points="265.9,301.3 260.2,299.2 260.2,297.7 265.9,299.7" fill="#04655e"/><polygon points="265.9,301.3 273.4,299.7 273.4,298.2 265.9,299.7" fill="#025a55"/><polygon points="265.9,299.7 273.4,298.2 267.7,296.2 260.2,297.7" fill="#056860"/><polygon points="258.3,302.8 252.6,300.8 252.6,299.2 258.3,301.2" fill="#04655e"/><polygon points="258.3,302.8 265.9,301.3 265.9,299.7 258.3,301.2" fill="#025a55"/><polygon points="258.3,301.2 265.9,299.7 260.2,297.7 252.6,299.2" fill="#056860"/><polygon points="250.8,304.3 245.1,302.3 245.1,299.8 250.8,301.8" fill="#04655e"/><polygon points="250.8,304.3 258.3,302.8 258.3,300.3 250.8,301.8" fill="#025a55"/><polygon points="250.8,301.8 258.3,300.3 252.6,298.3 245.1,299.8" fill="#056860"/><polygon points="243.2,305.8 237.6,303.8 237.6,301.3 243.2,303.3" fill="#04655e"/><polygon points="243.2,305.8 250.8,304.3 250.8,301.8 243.2,303.3" fill="#025a55"/><polygon points="243.2,303.3 250.8,301.8 245.1,299.8 237.6,301.3" fill="#056860"/><polygon points="235.7,307.4 230,305.3 230,303.8 235.7,305.8" fill="#04655e"/><polygon points="235.7,307.4 243.2,305.8 243.2,304.3 235.7,305.8" fill="#025a55"/><polygon points="235.7,305.8 243.2,304.3 237.6,302.3 230,303.8" fill="#056860"/><polygon points="228.2,308.9 222.5,306.9 222.5,304.3 228.2,306.4" fill="#04655e"/><polygon points="228.2,308.9 235.7,307.4 235.7,304.8 228.2,306.4" fill="#025a55"/><polygon points="228.2,306.4 235.7,304.8 230,302.8 222.5,304.3" fill="#056860"/><polygon points="220.6,310.4 215,308.4 215,306.8 220.6,308.9" fill="#04655e"/><polygon points="220.6,310.4 228.2,308.9 228.2,307.3 220.6,308.9" fill="#025a55"/><polygon points="220.6,308.9 228.2,307.3 222.5,305.3 215,306.8" fill="#056860"/><polygon points="339.4,289.6 333.7,287.6 333.7,286 339.4,288" fill="#04655e"/><polygon points="339.4,289.6 346.9,288.1 346.9,286.5 339.4,288" fill="#025a55"/><polygon points="339.4,288 346.9,286.5 341.2,284.5 333.7,286" fill="#056860"/><polygon points="331.8,291.1 326.1,289.1 326.1,288.4 331.8,290.4" fill="#04655e"/><polygon points="331.8,291.1 339.4,289.6 339.4,288.9 331.8,290.4" fill="#025a55"/><polygon points="331.8,290.4 339.4,288.9 333.7,286.9 326.1,288.4" fill="#056860"/><polygon points="324.3,292.6 318.6,290.6 318.6,286.7 324.3,288.7" fill="#04655e"/><polygon points="324.3,292.6 331.8,291.1 331.8,287.2 324.3,288.7" fill="#025a55"/><polygon points="324.3,288.7 331.8,287.2 326.1,285.2 318.6,286.7" fill="#056860"/><polygon points="316.8,294.1 311.1,292.1 311.1,291.4 316.8,293.5" fill="#04655e"/><polygon points="316.8,294.1 324.3,292.6 324.3,291.9 316.8,293.5" fill="#025a55"/><polygon points="316.8,293.5 324.3,291.9 318.6,289.9 311.1,291.4" fill="#056860"/><polygon points="309.2,295.7 303.5,293.7 303.5,289.8 309.2,291.8" fill="#04655e"/><polygon points="309.2,295.7 316.8,294.1 316.8,290.3 309.2,291.8" fill="#025a55"/><polygon points="309.2,291.8 316.8,290.3 311.1,288.2 303.5,289.8" fill="#056860"/><polygon points="301.7,297.2 296,295.2 296,244.3 301.7,246.4" fill="#04655e"/><polygon points="301.7,297.2 309.2,295.7 309.2,244.8 301.7,246.4" fill="#025a55"/><polygon points="301.7,246.4 309.2,244.8 303.5,242.8 296,244.3" fill="#056860"/><polygon points="294.2,298.7 288.5,296.7 288.5,295.1 294.2,297.2" fill="#04655e"/><polygon points="294.2,298.7 301.7,297.2 301.7,295.6 294.2,297.2" fill="#025a55"/><polygon points="294.2,297.2 301.7,295.6 296,293.6 288.5,295.1" fill="#056860"/><polygon points="286.6,300.2 280.9,298.2 280.9,296.7 286.6,298.7" fill="#04655e"/><polygon points="286.6,300.2 294.2,298.7 294.2,297.2 286.6,298.7" fill="#025a55"/><polygon points="286.6,298.7 294.2,297.2 288.5,295.1 280.9,296.7" fill="#056860"/><polygon points="279.1,301.8 273.4,299.7 273.4,298.2 279.1,300.2" fill="#04655e"/><polygon points="279.1,301.8 286.6,300.2 286.6,298.7 279.1,300.2" fill="#025a55"/><polygon points="279.1,300.2 286.6,298.7 280.9,296.7 273.4,298.2" fill="#056860"/><polygon points="271.5,303.3 265.9,301.3 265.9,299.7 271.5,301.7" fill="#04655e"/><polygon points="271.5,303.3 279.1,301.8 279.1,300.2 271.5,301.7" fill="#025a55"/><polygon points="271.5,301.7 279.1,300.2 273.4,298.2 265.9,299.7" fill="#056860"/><polygon points="264,304.8 258.3,302.8 258.3,301.2 264,303.3" fill="#04655e"/><polygon points="264,304.8 271.5,303.3 271.5,301.7 264,303.3" fill="#025a55"/><polygon points="264,303.3 271.5,301.7 265.9,299.7 258.3,301.2" fill="#056860"/><polygon points="256.5,306.3 250.8,304.3 250.8,301.8 256.5,303.8" fill="#04655e"/><polygon points="256.5,306.3 264,304.8 264,302.3 256.5,303.8" fill="#025a55"/><polygon points="256.5,303.8 264,302.3 258.3,300.3 250.8,301.8" fill="#056860"/><polygon points="248.9,307.9 243.2,305.8 243.2,302 248.9,304" fill="#04655e"/><polygon points="248.9,307.9 256.5,306.3 256.5,302.5 248.9,304" fill="#025a55"/><polygon points="248.9,304 256.5,302.5 250.8,300.4 243.2,302" fill="#056860"/><polygon points="241.4,309.4 235.7,307.4 235.7,305.8 241.4,307.8" fill="#04655e"/><polygon points="241.4,309.4 248.9,307.9 248.9,306.3 241.4,307.8" fill="#025a55"/><polygon points="241.4,307.8 248.9,306.3 243.2,304.3 235.7,305.8" fill="#056860"/><polygon points="233.9,310.9 228.2,308.9 228.2,308.2 233.9,310.2" fill="#04655e"/><polygon points="233.9,310.9 241.4,309.4 241.4,308.7 233.9,310.2" fill="#025a55"/><polygon points="233.9,310.2 241.4,308.7 235.7,306.7 228.2,308.2" fill="#056860"/><polygon points="226.3,312.4 220.6,310.4 220.6,309.7 226.3,311.8" fill="#04655e"/><polygon points="226.3,312.4 233.9,310.9 233.9,310.2 226.3,311.8" fill="#025a55"/><polygon points="226.3,311.8 233.9,310.2 228.2,308.2 220.6,309.7" fill="#056860"/><polygon points="345.1,291.6 339.4,289.6 339.4,288 345.1,290" fill="#04655e"/><polygon points="345.1,291.6 352.6,290.1 352.6,288.5 345.1,290" fill="#025a55"/><polygon points="345.1,290 352.6,288.5 346.9,286.5 339.4,288" fill="#056860"/><polygon points="337.5,293.1 331.8,291.1 331.8,288.6 337.5,290.6" fill="#04655e"/><polygon points="337.5,293.1 345.1,291.6 345.1,289.1 337.5,290.6" fill="#025a55"/><polygon points="337.5,290.6 345.1,289.1 339.4,287.1 331.8,288.6" fill="#056860"/><polygon points="330,294.6 324.3,292.6 324.3,291.1 330,293.1" fill="#04655e"/><polygon points="330,294.6 337.5,293.1 337.5,291.6 330,293.1" fill="#025a55"/><polygon points="330,293.1 337.5,291.6 331.8,289.5 324.3,291.1" fill="#056860"/><polygon points="322.4,296.2 316.8,294.1 316.8,292.6 322.4,294.6" fill="#04655e"/><polygon points="322.4,296.2 330,294.6 330,293.1 322.4,294.6" fill="#025a55"/><polygon points="322.4,294.6 330,293.1 324.3,291.1 316.8,292.6" fill="#056860"/><polygon points="314.9,297.7 309.2,295.7 309.2,295 314.9,297" fill="#04655e"/><polygon points="314.9,297.7 322.4,296.2 322.4,295.5 314.9,297" fill="#025a55"/><polygon points="314.9,297 322.4,295.5 316.8,293.5 309.2,295" fill="#056860"/><polygon points="307.4,299.2 301.7,297.2 301.7,296.5 307.4,298.5" fill="#04655e"/><polygon points="307.4,299.2 314.9,297.7 314.9,297 307.4,298.5" fill="#025a55"/><polygon points="307.4,298.5 314.9,297 309.2,295 301.7,296.5" fill="#056860"/><polygon points="299.8,300.7 294.2,298.7 294.2,297.2 299.8,299.2" fill="#04655e"/><polygon points="299.8,300.7 307.4,299.2 307.4,297.7 299.8,299.2" fill="#025a55"/><polygon points="299.8,299.2 307.4,297.7 301.7,295.6 294.2,297.2" fill="#056860"/><polygon points="292.3,302.3 286.6,300.2 286.6,298.7 292.3,300.7" fill="#04655e"/><polygon points="292.3,302.3 299.8,300.7 299.8,299.2 292.3,300.7" fill="#025a55"/><polygon points="292.3,300.7 299.8,299.2 294.2,297.2 286.6,298.7" fill="#056860"/><polygon points="284.8,303.8 279.1,301.8 279.1,300.2 284.8,302.2" fill="#04655e"/><polygon points="284.8,303.8 292.3,302.3 292.3,300.7 284.8,302.2" fill="#025a55"/><polygon points="284.8,302.2 292.3,300.7 286.6,298.7 279.1,300.2" fill="#056860"/><polygon points="277.2,305.3 271.5,303.3 271.5,299.4 277.2,301.4" fill="#04655e"/><polygon points="277.2,305.3 284.8,303.8 284.8,299.9 277.2,301.4" fill="#025a55"/><polygon points="277.2,301.4 284.8,299.9 279.1,297.9 271.5,299.4" fill="#056860"/><polygon points="269.7,306.8 264,304.8 264,286 269.7,288" fill="#04655e"/><polygon points="269.7,306.8 277.2,305.3 277.2,286.5 269.7,288" fill="#025a55"/><polygon points="269.7,288 277.2,286.5 271.5,284.5 264,286" fill="#056860"/><polygon points="262.2,308.4 256.5,306.3 256.5,305.7 262.2,307.7" fill="#04655e"/><polygon points="262.2,308.4 269.7,306.8 269.7,306.2 262.2,307.7" fill="#025a55"/><polygon points="262.2,307.7 269.7,306.2 264,304.1 256.5,305.7" fill="#056860"/><polygon points="254.6,309.9 248.9,307.9 248.9,305.3 254.6,307.4" fill="#04655e"/><polygon points="254.6,309.9 262.2,308.4 262.2,305.8 254.6,307.4" fill="#025a55"/><polygon points="254.6,307.4 262.2,305.8 256.5,303.8 248.9,305.3" fill="#056860"/><polygon points="247.1,311.4 241.4,309.4 241.4,305.5 247.1,307.5" fill="#04655e"/><polygon points="247.1,311.4 254.6,309.9 254.6,306 247.1,307.5" fill="#025a55"/><polygon points="247.1,307.5 254.6,306 248.9,304 241.4,305.5" fill="#056860"/><polygon points="239.6,312.9 233.9,310.9 233.9,309.4 239.6,311.4" fill="#04655e"/><polygon points="239.6,312.9 247.1,311.4 247.1,309.8 239.6,311.4" fill="#025a55"/><polygon points="239.6,311.4 247.1,309.8 241.4,307.8 233.9,309.4" fill="#056860"/><polygon points="232,314.4 226.3,312.4 226.3,311.8 232,313.8" fill="#04655e"/><polygon points="232,314.4 239.6,312.9 239.6,312.2 232,313.8" fill="#025a55"/><polygon points="232,313.8 239.6,312.2 233.9,310.2 226.3,311.8" fill="#056860"/><polygon points="350.7,293.6 345.1,291.6 345.1,290.9 350.7,292.9" fill="#04655e"/><polygon points="350.7,293.6 358.3,292.1 358.3,291.4 350.7,292.9" fill="#025a55"/><polygon points="350.7,292.9 358.3,291.4 352.6,289.4 345.1,290.9" fill="#056860"/><polygon points="343.2,295.1 337.5,293.1 337.5,290.6 343.2,292.6" fill="#04655e"/><polygon points="343.2,295.1 350.7,293.6 350.7,291.1 343.2,292.6" fill="#025a55"/><polygon points="343.2,292.6 350.7,291.1 345.1,289.1 337.5,290.6" fill="#056860"/><polygon points="335.7,296.7 330,294.6 330,293.1 335.7,295.1" fill="#04655e"/><polygon points="335.7,296.7 343.2,295.1 343.2,293.6 335.7,295.1" fill="#025a55"/><polygon points="335.7,295.1 343.2,293.6 337.5,291.6 330,293.1" fill="#056860"/><polygon points="328.1,298.2 322.4,296.2 322.4,295.5 328.1,297.5" fill="#04655e"/><polygon points="328.1,298.2 335.7,296.7 335.7,296 328.1,297.5" fill="#025a55"/><polygon points="328.1,297.5 335.7,296 330,294 322.4,295.5" fill="#056860"/><polygon points="320.6,299.7 314.9,297.7 314.9,297 320.6,299" fill="#04655e"/><polygon points="320.6,299.7 328.1,298.2 328.1,297.5 320.6,299" fill="#025a55"/><polygon points="320.6,299 328.1,297.5 322.4,295.5 314.9,297" fill="#056860"/><polygon points="313.1,301.2 307.4,299.2 307.4,296.7 313.1,298.7" fill="#04655e"/><polygon points="313.1,301.2 320.6,299.7 320.6,297.2 313.1,298.7" fill="#025a55"/><polygon points="313.1,298.7 320.6,297.2 314.9,295.2 307.4,296.7" fill="#056860"/><polygon points="305.5,302.8 299.8,300.7 299.8,300.1 305.5,302.1" fill="#04655e"/><polygon points="305.5,302.8 313.1,301.2 313.1,300.6 305.5,302.1" fill="#025a55"/><polygon points="305.5,302.1 313.1,300.6 307.4,298.5 299.8,300.1" fill="#056860"/><polygon points="298,304.3 292.3,302.3 292.3,300.7 298,302.7" fill="#04655e"/><polygon points="298,304.3 305.5,302.8 305.5,301.2 298,302.7" fill="#025a55"/><polygon points="298,302.7 305.5,301.2 299.8,299.2 292.3,300.7" fill="#056860"/><polygon points="290.5,305.8 284.8,303.8 284.8,303.1 290.5,305.1" fill="#04655e"/><polygon points="290.5,305.8 298,304.3 298,303.6 290.5,305.1" fill="#025a55"/><polygon points="290.5,305.1 298,303.6 292.3,301.6 284.8,303.1" fill="#056860"/><polygon points="282.9,307.3 277.2,305.3 277.2,303.8 282.9,305.8" fill="#04655e"/><polygon points="282.9,307.3 290.5,305.8 290.5,304.3 282.9,305.8" fill="#025a55"/><polygon points="282.9,305.8 290.5,304.3 284.8,302.2 277.2,303.8" fill="#056860"/><polygon points="275.4,308.9 269.7,306.8 269.7,306.2 275.4,308.2" fill="#04655e"/><polygon points="275.4,308.9 282.9,307.3 282.9,306.6 275.4,308.2" fill="#025a55"/><polygon points="275.4,308.2 282.9,306.6 277.2,304.6 269.7,306.2" fill="#056860"/><polygon points="267.8,310.4 262.2,308.4 262.2,307.7 267.8,309.7" fill="#04655e"/><polygon points="267.8,310.4 275.4,308.9 275.4,308.2 267.8,309.7" fill="#025a55"/><polygon points="267.8,309.7 275.4,308.2 269.7,306.2 262.2,307.7" fill="#056860"/><polygon points="260.3,311.9 254.6,309.9 254.6,309.2 260.3,311.2" fill="#04655e"/><polygon points="260.3,311.9 267.8,310.4 267.8,309.7 260.3,311.2" fill="#025a55"/><polygon points="260.3,311.2 267.8,309.7 262.2,307.7 254.6,309.2" fill="#056860"/><polygon points="252.8,313.4 247.1,311.4 247.1,310.7 252.8,312.7" fill="#04655e"/><polygon points="252.8,313.4 260.3,311.9 260.3,311.2 252.8,312.7" fill="#025a55"/><polygon points="252.8,312.7 260.3,311.2 254.6,309.2 247.1,310.7" fill="#056860"/><polygon points="245.2,314.9 239.6,312.9 239.6,311.4 245.2,313.4" fill="#04655e"/><polygon points="245.2,314.9 252.8,313.4 252.8,311.9 245.2,313.4" fill="#025a55"/><polygon points="245.2,313.4 252.8,311.9 247.1,309.8 239.6,311.4" fill="#056860"/><polygon points="237.7,316.5 232,314.4 232,312.9 237.7,314.9" fill="#04655e"/><polygon points="237.7,316.5 245.2,314.9 245.2,313.4 237.7,314.9" fill="#025a55"/><polygon points="237.7,314.9 245.2,313.4 239.6,311.4 232,312.9" fill="#056860"/><polygon points="356.4,295.6 350.7,293.6 350.7,292.9 356.4,295" fill="#04655e"/><polygon points="356.4,295.6 364,294.1 364,293.4 356.4,295" fill="#025a55"/><polygon points="356.4,295 364,293.4 358.3,291.4 350.7,292.9" fill="#056860"/><polygon points="348.9,297.2 343.2,295.1 343.2,291.3 348.9,293.3" fill="#04655e"/><polygon points="348.9,297.2 356.4,295.6 356.4,291.8 348.9,293.3" fill="#025a55"/><polygon points="348.9,293.3 356.4,291.8 350.7,289.7 343.2,291.3" fill="#056860"/><polygon points="341.4,298.7 335.7,296.7 335.7,295.1 341.4,297.1" fill="#04655e"/><polygon points="341.4,298.7 348.9,297.2 348.9,295.6 341.4,297.1" fill="#025a55"/><polygon points="341.4,297.1 348.9,295.6 343.2,293.6 335.7,295.1" fill="#056860"/><polygon points="333.8,300.2 328.1,298.2 328.1,297.5 333.8,299.5" fill="#04655e"/><polygon points="333.8,300.2 341.4,298.7 341.4,298 333.8,299.5" fill="#025a55"/><polygon points="333.8,299.5 341.4,298 335.7,296 328.1,297.5" fill="#056860"/><polygon points="326.3,301.7 320.6,299.7 320.6,295.8 326.3,297.8" fill="#04655e"/><polygon points="326.3,301.7 333.8,300.2 333.8,296.3 326.3,297.8" fill="#025a55"/><polygon points="326.3,297.8 333.8,296.3 328.1,294.3 320.6,295.8" fill="#056860"/><polygon points="318.7,303.3 313.1,301.2 313.1,298.7 318.7,300.7" fill="#04655e"/><polygon points="318.7,303.3 326.3,301.7 326.3,299.2 318.7,300.7" fill="#025a55"/><polygon points="318.7,300.7 326.3,299.2 320.6,297.2 313.1,298.7" fill="#056860"/><polygon points="311.2,304.8 305.5,302.8 305.5,300.2 311.2,302.3" fill="#04655e"/><polygon points="311.2,304.8 318.7,303.3 318.7,300.7 311.2,302.3" fill="#025a55"/><polygon points="311.2,302.3 318.7,300.7 313.1,298.7 305.5,300.2" fill="#056860"/><polygon points="303.7,306.3 298,304.3 298,302.7 303.7,304.7" fill="#04655e"/><polygon points="303.7,306.3 311.2,304.8 311.2,303.2 303.7,304.7" fill="#025a55"/><polygon points="303.7,304.7 311.2,303.2 305.5,301.2 298,302.7" fill="#056860"/><polygon points="296.1,307.8 290.5,305.8 290.5,304.3 296.1,306.3" fill="#04655e"/><polygon points="296.1,307.8 303.7,306.3 303.7,304.7 296.1,306.3" fill="#025a55"/><polygon points="296.1,306.3 303.7,304.7 298,302.7 290.5,304.3" fill="#056860"/><polygon points="288.6,309.3 282.9,307.3 282.9,305.8 288.6,307.8" fill="#04655e"/><polygon points="288.6,309.3 296.1,307.8 296.1,306.3 288.6,307.8" fill="#025a55"/><polygon points="288.6,307.8 296.1,306.3 290.5,304.3 282.9,305.8" fill="#056860"/><polygon points="281.1,310.9 275.4,308.9 275.4,307.3 281.1,309.3" fill="#04655e"/><polygon points="281.1,310.9 288.6,309.3 288.6,307.8 281.1,309.3" fill="#025a55"/><polygon points="281.1,309.3 288.6,307.8 282.9,305.8 275.4,307.3" fill="#056860"/><polygon points="273.5,312.4 267.8,310.4 267.8,308.8 273.5,310.8" fill="#04655e"/><polygon points="273.5,312.4 281.1,310.9 281.1,309.3 273.5,310.8" fill="#025a55"/><polygon points="273.5,310.8 281.1,309.3 275.4,307.3 267.8,308.8" fill="#056860"/><polygon points="266,313.9 260.3,311.9 260.3,310.3 266,312.4" fill="#04655e"/><polygon points="266,313.9 273.5,312.4 273.5,310.8 266,312.4" fill="#025a55"/><polygon points="266,312.4 273.5,310.8 267.8,308.8 260.3,310.3" fill="#056860"/><polygon points="258.5,315.4 252.8,313.4 252.8,312.7 258.5,314.8" fill="#04655e"/><polygon points="258.5,315.4 266,313.9 266,313.2 258.5,314.8" fill="#025a55"/><polygon points="258.5,314.8 266,313.2 260.3,311.2 252.8,312.7" fill="#056860"/><polygon points="250.9,317 245.2,314.9 245.2,312.4 250.9,314.4" fill="#04655e"/><polygon points="250.9,317 258.5,315.4 258.5,312.9 250.9,314.4" fill="#025a55"/><polygon points="250.9,314.4 258.5,312.9 252.8,310.9 245.2,312.4" fill="#056860"/><polygon points="243.4,318.5 237.7,316.5 237.7,310.6 243.4,312.7" fill="#04655e"/><polygon points="243.4,318.5 250.9,317 250.9,311.1 243.4,312.7" fill="#025a55"/><polygon points="243.4,312.7 250.9,311.1 245.2,309.1 237.7,310.6" fill="#056860"/><polygon points="362.1,297.7 356.4,295.6 356.4,295 362.1,297" fill="#04655e"/><polygon points="362.1,297.7 369.7,296.1 369.7,295.5 362.1,297" fill="#025a55"/><polygon points="362.1,297 369.7,295.5 364,293.4 356.4,295" fill="#056860"/><polygon points="354.6,299.2 348.9,297.2 348.9,294.6 354.6,296.7" fill="#04655e"/><polygon points="354.6,299.2 362.1,297.7 362.1,295.1 354.6,296.7" fill="#025a55"/><polygon points="354.6,296.7 362.1,295.1 356.4,293.1 348.9,294.6" fill="#056860"/><polygon points="347,300.7 341.4,298.7 341.4,298 347,300" fill="#04655e"/><polygon points="347,300.7 354.6,299.2 354.6,298.5 347,300" fill="#025a55"/><polygon points="347,300 354.6,298.5 348.9,296.5 341.4,298" fill="#056860"/><polygon points="339.5,302.2 333.8,300.2 333.8,298.7 339.5,300.7" fill="#04655e"/><polygon points="339.5,302.2 347,300.7 347,299.1 339.5,300.7" fill="#025a55"/><polygon points="339.5,300.7 347,299.1 341.4,297.1 333.8,298.7" fill="#056860"/><polygon points="332,303.7 326.3,301.7 326.3,300.2 332,302.2" fill="#04655e"/><polygon points="332,303.7 339.5,302.2 339.5,300.7 332,302.2" fill="#025a55"/><polygon points="332,302.2 339.5,300.7 333.8,298.7 326.3,300.2" fill="#056860"/><polygon points="324.4,305.3 318.7,303.3 318.7,302.6 324.4,304.6" fill="#04655e"/><polygon points="324.4,305.3 332,303.7 332,303.1 324.4,304.6" fill="#025a55"/><polygon points="324.4,304.6 332,303.1 326.3,301 318.7,302.6" fill="#056860"/><polygon points="316.9,306.8 311.2,304.8 311.2,303.2 316.9,305.2" fill="#04655e"/><polygon points="316.9,306.8 324.4,305.3 324.4,303.7 316.9,305.2" fill="#025a55"/><polygon points="316.9,305.2 324.4,303.7 318.7,301.7 311.2,303.2" fill="#056860"/><polygon points="309.4,308.3 303.7,306.3 303.7,304.7 309.4,306.8" fill="#04655e"/><polygon points="309.4,308.3 316.9,306.8 316.9,305.2 309.4,306.8" fill="#025a55"/><polygon points="309.4,306.8 316.9,305.2 311.2,303.2 303.7,304.7" fill="#056860"/><polygon points="301.8,309.8 296.1,307.8 296.1,298.1 301.8,300.1" fill="#04655e"/><polygon points="301.8,309.8 309.4,308.3 309.4,298.6 301.8,300.1" fill="#025a55"/><polygon points="301.8,300.1 309.4,298.6 303.7,296.6 296.1,298.1" fill="#056860"/><polygon points="294.3,311.4 288.6,309.3 288.6,307.8 294.3,309.8" fill="#04655e"/><polygon points="294.3,311.4 301.8,309.8 301.8,308.3 294.3,309.8" fill="#025a55"/><polygon points="294.3,309.8 301.8,308.3 296.1,306.3 288.6,307.8" fill="#056860"/><polygon points="286.8,312.9 281.1,310.9 281.1,310.2 286.8,312.2" fill="#04655e"/><polygon points="286.8,312.9 294.3,311.4 294.3,310.7 286.8,312.2" fill="#025a55"/><polygon points="286.8,312.2 294.3,310.7 288.6,308.7 281.1,310.2" fill="#056860"/><polygon points="279.2,314.4 273.5,312.4 273.5,309.9 279.2,311.9" fill="#04655e"/><polygon points="279.2,314.4 286.8,312.9 286.8,310.4 279.2,311.9" fill="#025a55"/><polygon points="279.2,311.9 286.8,310.4 281.1,308.3 273.5,309.9" fill="#056860"/><polygon points="271.7,315.9 266,313.9 266,310 271.7,312.1" fill="#04655e"/><polygon points="271.7,315.9 279.2,314.4 279.2,310.5 271.7,312.1" fill="#025a55"/><polygon points="271.7,312.1 279.2,310.5 273.5,308.5 266,310" fill="#056860"/><polygon points="264.1,317.5 258.5,315.4 258.5,314.8 264.1,316.8" fill="#04655e"/><polygon points="264.1,317.5 271.7,315.9 271.7,315.3 264.1,316.8" fill="#025a55"/><polygon points="264.1,316.8 271.7,315.3 266,313.2 258.5,314.8" fill="#056860"/><polygon points="256.6,319 250.9,317 250.9,316.3 256.6,318.3" fill="#04655e"/><polygon points="256.6,319 264.1,317.5 264.1,316.8 256.6,318.3" fill="#025a55"/><polygon points="256.6,318.3 264.1,316.8 258.5,314.8 250.9,316.3" fill="#056860"/><polygon points="249.1,320.5 243.4,318.5 243.4,317.8 249.1,319.8" fill="#04655e"/><polygon points="249.1,320.5 256.6,319 256.6,318.3 249.1,319.8" fill="#025a55"/><polygon points="249.1,319.8 256.6,318.3 250.9,316.3 243.4,317.8" fill="#056860"/><polygon points="367.8,299.7 362.1,297.7 362.1,297 367.8,299" fill="#04655e"/><polygon points="367.8,299.7 375.3,298.1 375.3,297.5 367.8,299" fill="#025a55"/><polygon points="367.8,299 375.3,297.5 369.7,295.5 362.1,297" fill="#056860"/><polygon points="360.3,301.2 354.6,299.2 354.6,298.5 360.3,300.5" fill="#04655e"/><polygon points="360.3,301.2 367.8,299.7 367.8,299 360.3,300.5" fill="#025a55"/><polygon points="360.3,300.5 367.8,299 362.1,297 354.6,298.5" fill="#056860"/><polygon points="352.7,302.7 347,300.7 347,300 352.7,302" fill="#04655e"/><polygon points="352.7,302.7 360.3,301.2 360.3,300.5 352.7,302" fill="#025a55"/><polygon points="352.7,302 360.3,300.5 354.6,298.5 347,300" fill="#056860"/><polygon points="345.2,304.2 339.5,302.2 339.5,301.5 345.2,303.6" fill="#04655e"/><polygon points="345.2,304.2 352.7,302.7 352.7,302 345.2,303.6" fill="#025a55"/><polygon points="345.2,303.6 352.7,302 347,300 339.5,301.5" fill="#056860"/><polygon points="337.7,305.8 332,303.7 332,302.2 337.7,304.2" fill="#04655e"/><polygon points="337.7,305.8 345.2,304.2 345.2,302.7 337.7,304.2" fill="#025a55"/><polygon points="337.7,304.2 345.2,302.7 339.5,300.7 332,302.2" fill="#056860"/><polygon points="330.1,307.3 324.4,305.3 324.4,303.7 330.1,305.7" fill="#04655e"/><polygon points="330.1,307.3 337.7,305.8 337.7,304.2 330.1,305.7" fill="#025a55"/><polygon points="330.1,305.7 337.7,304.2 332,302.2 324.4,303.7" fill="#056860"/><polygon points="322.6,308.8 316.9,306.8 316.9,306.1 322.6,308.1" fill="#04655e"/><polygon points="322.6,308.8 330.1,307.3 330.1,306.6 322.6,308.1" fill="#025a55"/><polygon points="322.6,308.1 330.1,306.6 324.4,304.6 316.9,306.1" fill="#056860"/><polygon points="315.1,310.3 309.4,308.3 309.4,306.8 315.1,308.8" fill="#04655e"/><polygon points="315.1,310.3 322.6,308.8 322.6,307.3 315.1,308.8" fill="#025a55"/><polygon points="315.1,308.8 322.6,307.3 316.9,305.2 309.4,306.8" fill="#056860"/><polygon points="307.5,311.9 301.8,309.8 301.8,309.2 307.5,311.2" fill="#04655e"/><polygon points="307.5,311.9 315.1,310.3 315.1,309.7 307.5,311.2" fill="#025a55"/><polygon points="307.5,311.2 315.1,309.7 309.4,307.6 301.8,309.2" fill="#056860"/><polygon points="300,313.4 294.3,311.4 294.3,309.8 300,311.8" fill="#04655e"/><polygon points="300,313.4 307.5,311.9 307.5,310.3 300,311.8" fill="#025a55"/><polygon points="300,311.8 307.5,310.3 301.8,308.3 294.3,309.8" fill="#056860"/><polygon points="292.4,314.9 286.8,312.9 286.8,311.3 292.4,313.4" fill="#04655e"/><polygon points="292.4,314.9 300,313.4 300,311.8 292.4,313.4" fill="#025a55"/><polygon points="292.4,313.4 300,311.8 294.3,309.8 286.8,311.3" fill="#056860"/><polygon points="284.9,316.4 279.2,314.4 279.2,313.7 284.9,315.8" fill="#04655e"/><polygon points="284.9,316.4 292.4,314.9 292.4,314.2 284.9,315.8" fill="#025a55"/><polygon points="284.9,315.8 292.4,314.2 286.8,312.2 279.2,313.7" fill="#056860"/><polygon points="277.4,318 271.7,315.9 271.7,313.4 277.4,315.4" fill="#04655e"/><polygon points="277.4,318 284.9,316.4 284.9,313.9 277.4,315.4" fill="#025a55"/><polygon points="277.4,315.4 284.9,313.9 279.2,311.9 271.7,313.4" fill="#056860"/><polygon points="269.8,319.5 264.1,317.5 264.1,314.9 269.8,317" fill="#04655e"/><polygon points="269.8,319.5 277.4,318 277.4,315.4 269.8,317" fill="#025a55"/><polygon points="269.8,317 277.4,315.4 271.7,313.4 264.1,314.9" fill="#056860"/><polygon points="262.3,321 256.6,319 256.6,317.4 262.3,319.5" fill="#04655e"/><polygon points="262.3,321 269.8,319.5 269.8,317.9 262.3,319.5" fill="#025a55"/><polygon points="262.3,319.5 269.8,317.9 264.1,315.9 256.6,317.4" fill="#056860"/><polygon points="254.8,322.5 249.1,320.5 249.1,319 254.8,321" fill="#04655e"/><polygon points="254.8,322.5 262.3,321 262.3,319.5 254.8,321" fill="#025a55"/><polygon points="254.8,321 262.3,319.5 256.6,317.4 249.1,319" fill="#056860"/><polygon points="373.5,301.7 367.8,299.7 367.8,299 373.5,301" fill="#04655e"/><polygon points="373.5,301.7 381,300.2 381,299.5 373.5,301" fill="#025a55"/><polygon points="373.5,301 381,299.5 375.3,297.5 367.8,299" fill="#056860"/><polygon points="366,303.2 360.3,301.2 360.3,298.7 366,300.7" fill="#04655e"/><polygon points="366,303.2 373.5,301.7 373.5,299.2 366,300.7" fill="#025a55"/><polygon points="366,300.7 373.5,299.2 367.8,297.2 360.3,298.7" fill="#056860"/><polygon points="358.4,304.7 352.7,302.7 352.7,300.2 358.4,302.2" fill="#04655e"/><polygon points="358.4,304.7 366,303.2 366,300.7 358.4,302.2" fill="#025a55"/><polygon points="358.4,302.2 366,300.7 360.3,298.7 352.7,300.2" fill="#056860"/><polygon points="350.9,306.3 345.2,304.2 345.2,302.7 350.9,304.7" fill="#04655e"/><polygon points="350.9,306.3 358.4,304.7 358.4,303.2 350.9,304.7" fill="#025a55"/><polygon points="350.9,304.7 358.4,303.2 352.7,301.2 345.2,302.7" fill="#056860"/><polygon points="343.3,307.8 337.7,305.8 337.7,304.2 343.3,306.2" fill="#04655e"/><polygon points="343.3,307.8 350.9,306.3 350.9,304.7 343.3,306.2" fill="#025a55"/><polygon points="343.3,306.2 350.9,304.7 345.2,302.7 337.7,304.2" fill="#056860"/><polygon points="335.8,309.3 330.1,307.3 330.1,306.6 335.8,308.6" fill="#04655e"/><polygon points="335.8,309.3 343.3,307.8 343.3,307.1 335.8,308.6" fill="#025a55"/><polygon points="335.8,308.6 343.3,307.1 337.7,305.1 330.1,306.6" fill="#056860"/><polygon points="328.3,310.8 322.6,308.8 322.6,308.1 328.3,310.2" fill="#04655e"/><polygon points="328.3,310.8 335.8,309.3 335.8,308.6 328.3,310.2" fill="#025a55"/><polygon points="328.3,310.2 335.8,308.6 330.1,306.6 322.6,308.1" fill="#056860"/><polygon points="320.7,312.4 315.1,310.3 315.1,308.8 320.7,310.8" fill="#04655e"/><polygon points="320.7,312.4 328.3,310.8 328.3,309.3 320.7,310.8" fill="#025a55"/><polygon points="320.7,310.8 328.3,309.3 322.6,307.3 315.1,308.8" fill="#056860"/><polygon points="313.2,313.9 307.5,311.9 307.5,310.3 313.2,312.3" fill="#04655e"/><polygon points="313.2,313.9 320.7,312.4 320.7,310.8 313.2,312.3" fill="#025a55"/><polygon points="313.2,312.3 320.7,310.8 315.1,308.8 307.5,310.3" fill="#056860"/><polygon points="305.7,315.4 300,313.4 300,311.8 305.7,313.9" fill="#04655e"/><polygon points="305.7,315.4 313.2,313.9 313.2,312.3 305.7,313.9" fill="#025a55"/><polygon points="305.7,313.9 313.2,312.3 307.5,310.3 300,311.8" fill="#056860"/><polygon points="298.1,316.9 292.4,314.9 292.4,311 298.1,313" fill="#04655e"/><polygon points="298.1,316.9 305.7,315.4 305.7,311.5 298.1,313" fill="#025a55"/><polygon points="298.1,313 305.7,311.5 300,309.5 292.4,311" fill="#056860"/><polygon points="290.6,318.5 284.9,316.4 284.9,308.7 290.6,310.7" fill="#04655e"/><polygon points="290.6,318.5 298.1,316.9 298.1,309.2 290.6,310.7" fill="#025a55"/><polygon points="290.6,310.7 298.1,309.2 292.4,307.1 284.9,308.7" fill="#056860"/><polygon points="283.1,320 277.4,318 277.4,314.1 283.1,316.1" fill="#04655e"/><polygon points="283.1,320 290.6,318.5 290.6,314.6 283.1,316.1" fill="#025a55"/><polygon points="283.1,316.1 290.6,314.6 284.9,312.6 277.4,314.1" fill="#056860"/><polygon points="275.5,321.5 269.8,319.5 269.8,315.6 275.5,317.6" fill="#04655e"/><polygon points="275.5,321.5 283.1,320 283.1,316.1 275.5,317.6" fill="#025a55"/><polygon points="275.5,317.6 283.1,316.1 277.4,314.1 269.8,315.6" fill="#056860"/><polygon points="268,323 262.3,321 262.3,318.5 268,320.5" fill="#04655e"/><polygon points="268,323 275.5,321.5 275.5,319 268,320.5" fill="#025a55"/><polygon points="268,320.5 275.5,319 269.8,317 262.3,318.5" fill="#056860"/><polygon points="260.4,324.5 254.8,322.5 254.8,321 260.4,323" fill="#04655e"/><polygon points="260.4,324.5 268,323 268,321.5 260.4,323" fill="#025a55"/><polygon points="260.4,323 268,321.5 262.3,319.5 254.8,321" fill="#056860"/><polygon points="379.2,303.7 373.5,301.7 373.5,300.1 379.2,302.2" fill="#04655e"/><polygon points="379.2,303.7 386.7,302.2 386.7,300.6 379.2,302.2" fill="#025a55"/><polygon points="379.2,302.2 386.7,300.6 381,298.6 373.5,300.1" fill="#056860"/><polygon points="371.6,305.2 366,303.2 366,301.7 371.6,303.7" fill="#04655e"/><polygon points="371.6,305.2 379.2,303.7 379.2,302.2 371.6,303.7" fill="#025a55"/><polygon points="371.6,303.7 379.2,302.2 373.5,300.1 366,301.7" fill="#056860"/><polygon points="364.1,306.8 358.4,304.7 358.4,304.1 364.1,306.1" fill="#04655e"/><polygon points="364.1,306.8 371.6,305.2 371.6,304.6 364.1,306.1" fill="#025a55"/><polygon points="364.1,306.1 371.6,304.6 366,302.5 358.4,304.1" fill="#056860"/><polygon points="356.6,308.3 350.9,306.3 350.9,304.7 356.6,306.7" fill="#04655e"/><polygon points="356.6,308.3 364.1,306.8 364.1,305.2 356.6,306.7" fill="#025a55"/><polygon points="356.6,306.7 364.1,305.2 358.4,303.2 350.9,304.7" fill="#056860"/><polygon points="349,309.8 343.3,307.8 343.3,306.2 349,308.3" fill="#04655e"/><polygon points="349,309.8 356.6,308.3 356.6,306.7 349,308.3" fill="#025a55"/><polygon points="349,308.3 356.6,306.7 350.9,304.7 343.3,306.2" fill="#056860"/><polygon points="341.5,311.3 335.8,309.3 335.8,308.6 341.5,310.7" fill="#04655e"/><polygon points="341.5,311.3 349,309.8 349,309.1 341.5,310.7" fill="#025a55"/><polygon points="341.5,310.7 349,309.1 343.3,307.1 335.8,308.6" fill="#056860"/><polygon points="334,312.9 328.3,310.8 328.3,308.3 334,310.3" fill="#04655e"/><polygon points="334,312.9 341.5,311.3 341.5,308.8 334,310.3" fill="#025a55"/><polygon points="334,310.3 341.5,308.8 335.8,306.8 328.3,308.3" fill="#056860"/><polygon points="326.4,314.4 320.7,312.4 320.7,311.7 326.4,313.7" fill="#04655e"/><polygon points="326.4,314.4 334,312.9 334,312.2 326.4,313.7" fill="#025a55"/><polygon points="326.4,313.7 334,312.2 328.3,310.2 320.7,311.7" fill="#056860"/><polygon points="318.9,315.9 313.2,313.9 313.2,312.3 318.9,314.3" fill="#04655e"/><polygon points="318.9,315.9 326.4,314.4 326.4,312.8 318.9,314.3" fill="#025a55"/><polygon points="318.9,314.3 326.4,312.8 320.7,310.8 313.2,312.3" fill="#056860"/><polygon points="311.4,317.4 305.7,315.4 305.7,313.9 311.4,315.9" fill="#04655e"/><polygon points="311.4,317.4 318.9,315.9 318.9,314.3 311.4,315.9" fill="#025a55"/><polygon points="311.4,315.9 318.9,314.3 313.2,312.3 305.7,313.9" fill="#056860"/><polygon points="303.8,318.9 298.1,316.9 298.1,315.4 303.8,317.4" fill="#04655e"/><polygon points="303.8,318.9 311.4,317.4 311.4,315.9 303.8,317.4" fill="#025a55"/><polygon points="303.8,317.4 311.4,315.9 305.7,313.9 298.1,315.4" fill="#056860"/><polygon points="296.3,320.5 290.6,318.5 290.6,315.9 296.3,317.9" fill="#04655e"/><polygon points="296.3,320.5 303.8,318.9 303.8,316.4 296.3,317.9" fill="#025a55"/><polygon points="296.3,317.9 303.8,316.4 298.1,314.4 290.6,315.9" fill="#056860"/><polygon points="288.7,322 283.1,320 283.1,317.5 288.7,319.5" fill="#04655e"/><polygon points="288.7,322 296.3,320.5 296.3,317.9 288.7,319.5" fill="#025a55"/><polygon points="288.7,319.5 296.3,317.9 290.6,315.9 283.1,317.5" fill="#056860"/><polygon points="281.2,323.5 275.5,321.5 275.5,319.9 281.2,322" fill="#04655e"/><polygon points="281.2,323.5 288.7,322 288.7,320.4 281.2,322" fill="#025a55"/><polygon points="281.2,322 288.7,320.4 283.1,318.4 275.5,319.9" fill="#056860"/><polygon points="273.7,325 268,323 268,321.5 273.7,323.5" fill="#04655e"/><polygon points="273.7,325 281.2,323.5 281.2,322 273.7,323.5" fill="#025a55"/><polygon points="273.7,323.5 281.2,322 275.5,319.9 268,321.5" fill="#056860"/><polygon points="266.1,326.6 260.4,324.5 260.4,323 266.1,325" fill="#04655e"/><polygon points="266.1,326.6 273.7,325 273.7,323.5 266.1,325" fill="#025a55"/><polygon points="266.1,325 273.7,323.5 268,321.5 260.4,323" fill="#056860"/><polygon points="384.9,305.7 379.2,303.7 379.2,302.2 384.9,304.2" fill="#04655e"/><polygon points="384.9,305.7 392.4,304.2 392.4,302.7 384.9,304.2" fill="#025a55"/><polygon points="384.9,304.2 392.4,302.7 386.7,300.6 379.2,302.2" fill="#056860"/><polygon points="377.3,307.3 371.6,305.2 371.6,304.6 377.3,306.6" fill="#04655e"/><polygon points="377.3,307.3 384.9,305.7 384.9,305.1 377.3,306.6" fill="#025a55"/><polygon points="377.3,306.6 384.9,305.1 379.2,303 371.6,304.6" fill="#056860"/><polygon points="369.8,308.8 364.1,306.8 364.1,305.2 369.8,307.2" fill="#04655e"/><polygon points="369.8,308.8 377.3,307.3 377.3,305.7 369.8,307.2" fill="#025a55"/><polygon points="369.8,307.2 377.3,305.7 371.6,303.7 364.1,305.2" fill="#056860"/><polygon points="362.3,310.3 356.6,308.3 356.6,305.8 362.3,307.8" fill="#04655e"/><polygon points="362.3,310.3 369.8,308.8 369.8,306.3 362.3,307.8" fill="#025a55"/><polygon points="362.3,307.8 369.8,306.3 364.1,304.2 356.6,305.8" fill="#056860"/><polygon points="354.7,311.8 349,309.8 349,309.1 354.7,311.1" fill="#04655e"/><polygon points="354.7,311.8 362.3,310.3 362.3,309.6 354.7,311.1" fill="#025a55"/><polygon points="354.7,311.1 362.3,309.6 356.6,307.6 349,309.1" fill="#056860"/><polygon points="347.2,313.3 341.5,311.3 341.5,309.8 347.2,311.8" fill="#04655e"/><polygon points="347.2,313.3 354.7,311.8 354.7,310.3 347.2,311.8" fill="#025a55"/><polygon points="347.2,311.8 354.7,310.3 349,308.3 341.5,309.8" fill="#056860"/><polygon points="339.6,314.9 334,312.9 334,312.2 339.6,314.2" fill="#04655e"/><polygon points="339.6,314.9 347.2,313.3 347.2,312.7 339.6,314.2" fill="#025a55"/><polygon points="339.6,314.2 347.2,312.7 341.5,310.7 334,312.2" fill="#056860"/><polygon points="332.1,316.4 326.4,314.4 326.4,310.5 332.1,312.5" fill="#04655e"/><polygon points="332.1,316.4 339.6,314.9 339.6,311 332.1,312.5" fill="#025a55"/><polygon points="332.1,312.5 339.6,311 334,309 326.4,310.5" fill="#056860"/><polygon points="324.6,317.9 318.9,315.9 318.9,315.2 324.6,317.2" fill="#04655e"/><polygon points="324.6,317.9 332.1,316.4 332.1,315.7 324.6,317.2" fill="#025a55"/><polygon points="324.6,317.2 332.1,315.7 326.4,313.7 318.9,315.2" fill="#056860"/><polygon points="317,319.4 311.4,317.4 311.4,315.9 317,317.9" fill="#04655e"/><polygon points="317,319.4 324.6,317.9 324.6,316.4 317,317.9" fill="#025a55"/><polygon points="317,317.9 324.6,316.4 318.9,314.3 311.4,315.9" fill="#056860"/><polygon points="309.5,321 303.8,318.9 303.8,315.1 309.5,317.1" fill="#04655e"/><polygon points="309.5,321 317,319.4 317,315.6 309.5,317.1" fill="#025a55"/><polygon points="309.5,317.1 317,315.6 311.4,313.5 303.8,315.1" fill="#056860"/><polygon points="302,322.5 296.3,320.5 296.3,319.8 302,321.8" fill="#04655e"/><polygon points="302,322.5 309.5,321 309.5,320.3 302,321.8" fill="#025a55"/><polygon points="302,321.8 309.5,320.3 303.8,318.3 296.3,319.8" fill="#056860"/><polygon points="294.4,324 288.7,322 288.7,319.5 294.4,321.5" fill="#04655e"/><polygon points="294.4,324 302,322.5 302,320 294.4,321.5" fill="#025a55"/><polygon points="294.4,321.5 302,320 296.3,317.9 288.7,319.5" fill="#056860"/><polygon points="286.9,325.5 281.2,323.5 281.2,321 286.9,323" fill="#04655e"/><polygon points="286.9,325.5 294.4,324 294.4,321.5 286.9,323" fill="#025a55"/><polygon points="286.9,323 294.4,321.5 288.7,319.5 281.2,321" fill="#056860"/><polygon points="279.4,327.1 273.7,325 273.7,322.5 279.4,324.5" fill="#04655e"/><polygon points="279.4,327.1 286.9,325.5 286.9,323 279.4,324.5" fill="#025a55"/><polygon points="279.4,324.5 286.9,323 281.2,321 273.7,322.5" fill="#056860"/><polygon points="271.8,328.6 266.1,326.6 266.1,325 271.8,327" fill="#04655e"/><polygon points="271.8,328.6 279.4,327.1 279.4,325.5 271.8,327" fill="#025a55"/><polygon points="271.8,327 279.4,325.5 273.7,323.5 266.1,325" fill="#056860"/><polygon points="390.6,307.8 384.9,305.7 384.9,304.2 390.6,306.2" fill="#04655e"/><polygon points="390.6,307.8 398.1,306.2 398.1,304.7 390.6,306.2" fill="#025a55"/><polygon points="390.6,306.2 398.1,304.7 392.4,302.7 384.9,304.2" fill="#056860"/><polygon points="383,309.3 377.3,307.3 377.3,305.7 383,307.7" fill="#04655e"/><polygon points="383,309.3 390.6,307.8 390.6,306.2 383,307.7" fill="#025a55"/><polygon points="383,307.7 390.6,306.2 384.9,304.2 377.3,305.7" fill="#056860"/><polygon points="375.5,310.8 369.8,308.8 369.8,307.2 375.5,309.2" fill="#04655e"/><polygon points="375.5,310.8 383,309.3 383,307.7 375.5,309.2" fill="#025a55"/><polygon points="375.5,309.2 383,307.7 377.3,305.7 369.8,307.2" fill="#056860"/><polygon points="367.9,312.3 362.3,310.3 362.3,308.7 367.9,310.8" fill="#04655e"/><polygon points="367.9,312.3 375.5,310.8 375.5,309.2 367.9,310.8" fill="#025a55"/><polygon points="367.9,310.8 375.5,309.2 369.8,307.2 362.3,308.7" fill="#056860"/><polygon points="360.4,313.8 354.7,311.8 354.7,310.3 360.4,312.3" fill="#04655e"/><polygon points="360.4,313.8 367.9,312.3 367.9,310.8 360.4,312.3" fill="#025a55"/><polygon points="360.4,312.3 367.9,310.8 362.3,308.7 354.7,310.3" fill="#056860"/><polygon points="352.9,315.4 347.2,313.3 347.2,311.8 352.9,313.8" fill="#04655e"/><polygon points="352.9,315.4 360.4,313.8 360.4,312.3 352.9,313.8" fill="#025a55"/><polygon points="352.9,313.8 360.4,312.3 354.7,310.3 347.2,311.8" fill="#056860"/><polygon points="345.3,316.9 339.6,314.9 339.6,313.3 345.3,315.3" fill="#04655e"/><polygon points="345.3,316.9 352.9,315.4 352.9,313.8 345.3,315.3" fill="#025a55"/><polygon points="345.3,315.3 352.9,313.8 347.2,311.8 339.6,313.3" fill="#056860"/><polygon points="337.8,318.4 332.1,316.4 332.1,314.8 337.8,316.9" fill="#04655e"/><polygon points="337.8,318.4 345.3,316.9 345.3,315.3 337.8,316.9" fill="#025a55"/><polygon points="337.8,316.9 345.3,315.3 339.6,313.3 332.1,314.8" fill="#056860"/><polygon points="330.3,319.9 324.6,317.9 324.6,316.4 330.3,318.4" fill="#04655e"/><polygon points="330.3,319.9 337.8,318.4 337.8,316.9 330.3,318.4" fill="#025a55"/><polygon points="330.3,318.4 337.8,316.9 332.1,314.8 324.6,316.4" fill="#056860"/><polygon points="322.7,321.5 317,319.4 317,317.9 322.7,319.9" fill="#04655e"/><polygon points="322.7,321.5 330.3,319.9 330.3,318.4 322.7,319.9" fill="#025a55"/><polygon points="322.7,319.9 330.3,318.4 324.6,316.4 317,317.9" fill="#056860"/><polygon points="315.2,323 309.5,321 309.5,319.4 315.2,321.4" fill="#04655e"/><polygon points="315.2,323 322.7,321.5 322.7,319.9 315.2,321.4" fill="#025a55"/><polygon points="315.2,321.4 322.7,319.9 317,317.9 309.5,319.4" fill="#056860"/><polygon points="307.7,324.5 302,322.5 302,321.8 307.7,323.8" fill="#04655e"/><polygon points="307.7,324.5 315.2,323 315.2,322.3 307.7,323.8" fill="#025a55"/><polygon points="307.7,323.8 315.2,322.3 309.5,320.3 302,321.8" fill="#056860"/><polygon points="300.1,326 294.4,324 294.4,322.5 300.1,324.5" fill="#04655e"/><polygon points="300.1,326 307.7,324.5 307.7,323 300.1,324.5" fill="#025a55"/><polygon points="300.1,324.5 307.7,323 302,320.9 294.4,322.5" fill="#056860"/><polygon points="292.6,327.6 286.9,325.5 286.9,324 292.6,326" fill="#04655e"/><polygon points="292.6,327.6 300.1,326 300.1,324.5 292.6,326" fill="#025a55"/><polygon points="292.6,326 300.1,324.5 294.4,322.5 286.9,324" fill="#056860"/><polygon points="285,329.1 279.4,327.1 279.4,312.5 285,314.5" fill="#04655e"/><polygon points="285,329.1 292.6,327.6 292.6,313 285,314.5" fill="#025a55"/><polygon points="285,314.5 292.6,313 286.9,311 279.4,312.5" fill="#056860"/><polygon points="277.5,330.6 271.8,328.6 271.8,257.8 277.5,259.8" fill="#04655e"/><polygon points="277.5,330.6 285,329.1 285,258.3 277.5,259.8" fill="#025a55"/><polygon points="277.5,259.8 285,258.3 279.4,256.3 271.8,257.8" fill="#056860"/></g>
<text transform="translate(152.3 258.1) rotate(-90)" text-anchor="middle">c (u,v)</text>
<text transform="translate(196.9 337.4) rotate(19.5)" text-anchor="middle" font-style="italic" font-size="11.8">AMK (V)</text>
<text transform="translate(362.4 342.3) rotate(-11.5)" text-anchor="middle" font-size="10.8"><tspan font-style="italic">Panax ginseng</tspan> (U)</text>
<text x="273.8" y="371.3" text-anchor="middle" font-size="9.5">(c)</text>
</svg>
</body></html>
